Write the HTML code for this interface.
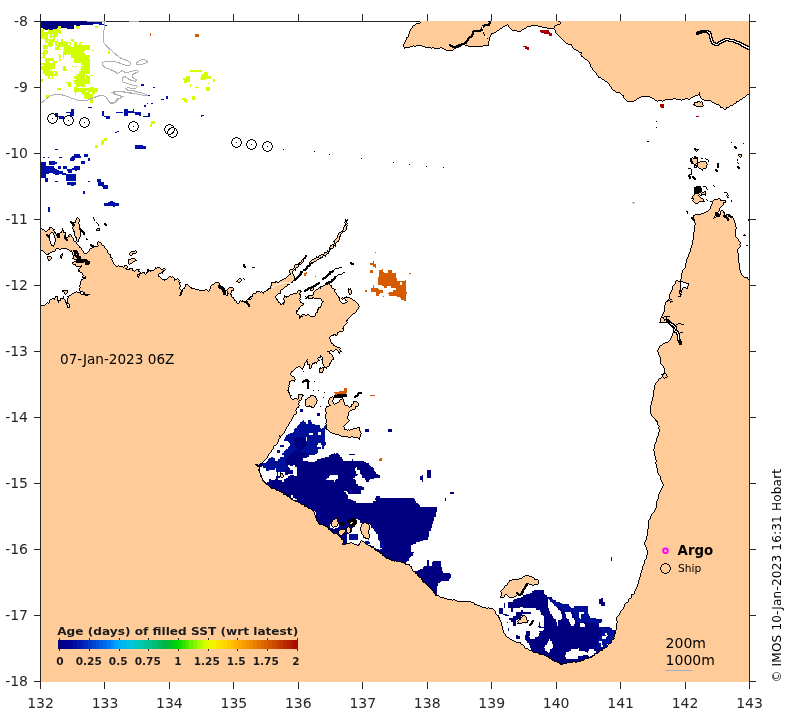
<!DOCTYPE html>
<html><head><meta charset="utf-8"><title>Age of filled SST</title>
<style>html,body{margin:0;padding:0;background:#fff}svg{display:block}text{font-family:"DejaVu Sans","Liberation Sans",sans-serif}svg{will-change:transform}.tk{font-size:14px;fill:#262626}.b{font-weight:bold}</style></head><body>
<svg width="792" height="716" viewBox="0 0 792 716">
<rect width="792" height="716" fill="#fff"/>
<defs><clipPath id="ax"><rect x="40" y="21" width="710" height="661"/></clipPath></defs>
<g shape-rendering="crispEdges" stroke="#262626" stroke-width="1">
<line x1="40" y1="21.5" x2="750" y2="21.5"/><line x1="40" y1="681.5" x2="750" y2="681.5"/></g>
<g clip-path="url(#ax)" shape-rendering="crispEdges">
<path d="M40.00,21.00h54.14v1.32h-54.14zM40.00,22.32h54.14v1.32h-54.14zM40.00,23.64h52.85v1.32h-52.85zM40.00,24.96h33.52v1.32h-33.52zM76.09,24.96h3.87v1.32h-3.87zM40.00,26.28h18.05v1.32h-18.05zM60.63,26.28h12.89v1.32h-12.89zM42.58,27.60h14.18v1.32h-14.18zM67.07,27.60h6.45v1.32h-6.45zM45.16,28.92h2.58v1.32h-2.58zM49.02,28.92h3.87v1.32h-3.87zM300.40,409.08h2.58v1.32h-2.58zM300.40,410.40h2.58v1.32h-2.58zM317.15,413.04h2.58v1.32h-2.58zM317.15,414.36h2.58v1.32h-2.58zM364.85,428.88h3.87v1.32h-3.87zM388.05,428.88h3.87v1.32h-3.87zM364.85,430.20h3.87v1.32h-3.87zM388.05,430.20h3.87v1.32h-3.87zM293.95,436.80h9.02v1.32h-9.02zM293.95,438.12h10.31v1.32h-10.31zM293.95,439.44h11.60v1.32h-11.60zM293.95,440.76h11.60v1.32h-11.60zM293.95,442.08h11.60v1.32h-11.60zM293.95,443.40h12.89v1.32h-12.89zM295.24,444.72h11.60v1.32h-11.60zM295.24,446.04h10.31v1.32h-10.31zM296.53,447.36h7.73v1.32h-7.73zM297.82,448.68h3.87v1.32h-3.87zM295.24,450.00h2.58v1.32h-2.58zM292.66,451.32h9.02v1.32h-9.02zM291.37,452.64h14.18v1.32h-14.18zM333.91,452.64h1.29v1.32h-1.29zM336.49,452.64h1.29v1.32h-1.29zM290.08,453.96h19.34v1.32h-19.34zM331.33,453.96h7.73v1.32h-7.73zM349.38,453.96h5.16v1.32h-5.16zM288.79,455.28h20.63v1.32h-20.63zM328.76,455.28h11.60v1.32h-11.60zM287.51,456.60h19.34v1.32h-19.34zM324.89,456.60h16.76v1.32h-16.76zM286.22,457.92h16.76v1.32h-16.76zM321.02,457.92h20.63v1.32h-20.63zM284.93,459.24h18.05v1.32h-18.05zM317.15,459.24h25.78v1.32h-25.78zM351.96,459.24h1.29v1.32h-1.29zM259.15,460.56h2.58v1.32h-2.58zM284.93,460.56h23.20v1.32h-23.20zM314.58,460.56h48.99v1.32h-48.99zM257.86,461.88h5.16v1.32h-5.16zM286.22,461.88h79.92v1.32h-79.92zM255.28,463.20h7.73v1.32h-7.73zM286.22,463.20h82.50v1.32h-82.50zM253.99,464.52h9.02v1.32h-9.02zM290.08,464.52h2.58v1.32h-2.58zM295.24,464.52h74.77v1.32h-74.77zM255.28,465.84h6.45v1.32h-6.45zM295.24,465.84h76.06v1.32h-76.06zM255.28,467.16h5.16v1.32h-5.16zM296.53,467.16h59.30v1.32h-59.30zM357.12,467.16h15.47v1.32h-15.47zM255.28,468.48h5.16v1.32h-5.16zM287.51,468.48h2.58v1.32h-2.58zM296.53,468.48h58.01v1.32h-58.01zM357.12,468.48h16.76v1.32h-16.76zM256.57,469.80h3.87v1.32h-3.87zM286.22,469.80h3.87v1.32h-3.87zM296.53,469.80h58.01v1.32h-58.01zM359.69,469.80h14.18v1.32h-14.18zM426.73,469.80h3.87v1.32h-3.87zM256.57,471.12h3.87v1.32h-3.87zM283.64,471.12h7.73v1.32h-7.73zM296.53,471.12h59.30v1.32h-59.30zM359.69,471.12h15.47v1.32h-15.47zM426.73,471.12h3.87v1.32h-3.87zM257.86,472.44h2.58v1.32h-2.58zM277.19,472.44h1.29v1.32h-1.29zM284.93,472.44h7.73v1.32h-7.73zM296.53,472.44h59.30v1.32h-59.30zM359.69,472.44h16.76v1.32h-16.76zM426.73,472.44h3.87v1.32h-3.87zM257.86,473.76h2.58v1.32h-2.58zM277.19,473.76h1.29v1.32h-1.29zM284.93,473.76h2.58v1.32h-2.58zM296.53,473.76h61.88v1.32h-61.88zM360.98,473.76h16.76v1.32h-16.76zM426.73,473.76h3.87v1.32h-3.87zM259.15,475.08h2.58v1.32h-2.58zM277.19,475.08h1.29v1.32h-1.29zM290.08,475.08h3.87v1.32h-3.87zM296.53,475.08h33.52v1.32h-33.52zM337.78,475.08h19.34v1.32h-19.34zM362.27,475.08h18.05v1.32h-18.05zM421.57,475.08h1.29v1.32h-1.29zM426.73,475.08h3.87v1.32h-3.87zM259.15,476.40h2.58v1.32h-2.58zM275.90,476.40h3.87v1.32h-3.87zM287.51,476.40h41.25v1.32h-41.25zM337.78,476.40h16.76v1.32h-16.76zM362.27,476.40h18.05v1.32h-18.05zM420.28,476.40h2.58v1.32h-2.58zM426.73,476.40h3.87v1.32h-3.87zM259.15,477.72h3.87v1.32h-3.87zM275.90,477.72h2.58v1.32h-2.58zM286.22,477.72h41.25v1.32h-41.25zM337.78,477.72h15.47v1.32h-15.47zM364.85,477.72h9.02v1.32h-9.02zM420.28,477.72h2.58v1.32h-2.58zM260.43,479.04h2.58v1.32h-2.58zM269.46,479.04h1.29v1.32h-1.29zM274.61,479.04h3.87v1.32h-3.87zM283.64,479.04h42.54v1.32h-42.54zM336.49,479.04h18.05v1.32h-18.05zM364.85,479.04h5.16v1.32h-5.16zM420.28,479.04h2.58v1.32h-2.58zM260.43,480.36h3.87v1.32h-3.87zM269.46,480.36h12.89v1.32h-12.89zM283.64,480.36h50.27v1.32h-50.27zM335.20,480.36h20.63v1.32h-20.63zM366.14,480.36h2.58v1.32h-2.58zM421.57,480.36h1.29v1.32h-1.29zM261.72,481.68h3.87v1.32h-3.87zM266.88,481.68h88.95v1.32h-88.95zM261.72,483.00h94.10v1.32h-94.10zM261.72,484.32h96.68v1.32h-96.68zM263.01,485.64h99.26v1.32h-99.26zM263.01,486.96h100.55v1.32h-100.55zM264.30,488.28h99.26v1.32h-99.26zM266.88,489.60h94.10v1.32h-94.10zM268.17,490.92h76.06v1.32h-76.06zM346.80,490.92h14.18v1.32h-14.18zM270.75,492.24h74.77v1.32h-74.77zM348.09,492.24h12.89v1.32h-12.89zM449.93,492.24h3.87v1.32h-3.87zM272.04,493.56h74.77v1.32h-74.77zM274.61,494.88h16.76v1.32h-16.76zM292.66,494.88h55.43v1.32h-55.43zM275.90,496.20h15.47v1.32h-15.47zM292.66,496.20h55.43v1.32h-55.43zM376.45,496.20h3.87v1.32h-3.87zM278.48,497.52h14.18v1.32h-14.18zM295.24,497.52h52.85v1.32h-52.85zM375.16,497.52h38.67v1.32h-38.67zM444.77,497.52h1.29v1.32h-1.29zM279.77,498.84h12.89v1.32h-12.89zM296.53,498.84h54.14v1.32h-54.14zM375.16,498.84h39.96v1.32h-39.96zM444.77,498.84h1.29v1.32h-1.29zM282.35,500.16h70.90v1.32h-70.90zM376.45,500.16h38.67v1.32h-38.67zM444.77,500.16h1.29v1.32h-1.29zM283.64,501.48h72.19v1.32h-72.19zM372.59,501.48h43.83v1.32h-43.83zM286.22,502.80h131.49v1.32h-131.49zM287.51,504.12h131.49v1.32h-131.49zM290.08,505.44h130.20v1.32h-130.20zM291.37,506.76h145.67v1.32h-145.67zM293.95,508.08h143.09v1.32h-143.09zM295.24,509.40h141.80v1.32h-141.80zM297.82,510.72h15.47v1.32h-15.47zM314.58,510.72h122.46v1.32h-122.46zM299.11,512.04h14.18v1.32h-14.18zM315.87,512.04h119.89v1.32h-119.89zM301.69,513.36h12.89v1.32h-12.89zM315.87,513.36h119.89v1.32h-119.89zM302.97,514.68h11.60v1.32h-11.60zM315.87,514.68h119.89v1.32h-119.89zM304.26,516.00h131.49v1.32h-131.49zM305.55,517.32h128.91v1.32h-128.91zM306.84,518.64h48.99v1.32h-48.99zM358.41,518.64h76.06v1.32h-76.06zM308.13,519.96h47.70v1.32h-47.70zM359.69,519.96h74.77v1.32h-74.77zM309.42,521.28h27.07v1.32h-27.07zM337.78,521.28h18.05v1.32h-18.05zM359.69,521.28h73.48v1.32h-73.48zM310.71,522.60h21.91v1.32h-21.91zM339.07,522.60h16.76v1.32h-16.76zM368.72,522.60h64.45v1.32h-64.45zM312.00,523.92h18.05v1.32h-18.05zM339.07,523.92h16.76v1.32h-16.76zM370.01,523.92h61.88v1.32h-61.88zM313.29,525.24h16.76v1.32h-16.76zM339.07,525.24h15.47v1.32h-15.47zM371.30,525.24h60.59v1.32h-60.59zM314.58,526.56h15.47v1.32h-15.47zM337.78,526.56h15.47v1.32h-15.47zM371.30,526.56h60.59v1.32h-60.59zM315.87,527.88h16.76v1.32h-16.76zM335.20,527.88h16.76v1.32h-16.76zM372.59,527.88h58.01v1.32h-58.01zM317.15,529.20h34.81v1.32h-34.81zM373.87,529.20h56.72v1.32h-56.72zM318.44,530.52h33.52v1.32h-33.52zM375.16,530.52h54.14v1.32h-54.14zM319.73,531.84h30.94v1.32h-30.94zM376.45,531.84h52.85v1.32h-52.85zM321.02,533.16h28.36v1.32h-28.36zM376.45,533.16h52.85v1.32h-52.85zM322.31,534.48h24.49v1.32h-24.49zM377.74,534.48h51.56v1.32h-51.56zM323.60,535.80h23.20v1.32h-23.20zM377.74,535.80h51.56v1.32h-51.56zM324.89,537.12h21.91v1.32h-21.91zM377.74,537.12h50.27v1.32h-50.27zM326.18,538.44h20.63v1.32h-20.63zM377.74,538.44h50.27v1.32h-50.27zM327.47,539.76h19.34v1.32h-19.34zM379.03,539.76h43.83v1.32h-43.83zM328.76,541.08h18.05v1.32h-18.05zM362.27,541.08h1.29v1.32h-1.29zM380.32,541.08h39.96v1.32h-39.96zM330.05,542.40h16.76v1.32h-16.76zM359.69,542.40h6.45v1.32h-6.45zM380.32,542.40h36.09v1.32h-36.09zM331.33,543.72h25.78v1.32h-25.78zM358.41,543.72h9.02v1.32h-9.02zM384.19,543.72h28.36v1.32h-28.36zM332.62,545.04h38.67v1.32h-38.67zM384.19,545.04h27.07v1.32h-27.07zM333.91,546.36h39.96v1.32h-39.96zM384.19,546.36h27.07v1.32h-27.07zM335.20,547.68h41.25v1.32h-41.25zM381.61,547.68h29.65v1.32h-29.65zM337.78,549.00h41.25v1.32h-41.25zM380.32,549.00h30.94v1.32h-30.94zM339.07,550.32h72.19v1.32h-72.19zM341.65,551.64h72.19v1.32h-72.19zM344.23,552.96h68.32v1.32h-68.32zM346.80,554.28h65.74v1.32h-65.74zM349.38,555.60h61.88v1.32h-61.88zM351.96,556.92h58.01v1.32h-58.01zM611.07,556.92h1.29v1.32h-1.29zM354.54,558.24h54.14v1.32h-54.14zM611.07,558.24h1.29v1.32h-1.29zM357.12,559.56h51.56v1.32h-51.56zM426.73,559.56h2.58v1.32h-2.58zM611.07,559.56h1.29v1.32h-1.29zM359.69,560.88h47.70v1.32h-47.70zM426.73,560.88h2.58v1.32h-2.58zM433.17,560.88h7.73v1.32h-7.73zM362.27,562.20h43.83v1.32h-43.83zM426.73,562.20h2.58v1.32h-2.58zM431.88,562.20h9.02v1.32h-9.02zM363.56,563.52h42.54v1.32h-42.54zM426.73,563.52h2.58v1.32h-2.58zM431.88,563.52h9.02v1.32h-9.02zM366.14,564.84h41.25v1.32h-41.25zM426.73,564.84h2.58v1.32h-2.58zM431.88,564.84h9.02v1.32h-9.02zM368.72,566.16h38.67v1.32h-38.67zM424.15,566.16h16.76v1.32h-16.76zM371.30,567.48h37.38v1.32h-37.38zM422.86,567.48h19.34v1.32h-19.34zM373.87,568.80h6.45v1.32h-6.45zM381.61,568.80h27.07v1.32h-27.07zM420.28,568.80h21.91v1.32h-21.91zM376.45,570.12h3.87v1.32h-3.87zM386.77,570.12h23.20v1.32h-23.20zM417.70,570.12h24.49v1.32h-24.49zM379.03,571.44h2.58v1.32h-2.58zM391.92,571.44h18.05v1.32h-18.05zM413.84,571.44h29.65v1.32h-29.65zM397.08,572.76h14.18v1.32h-14.18zM412.55,572.76h37.38v1.32h-37.38zM402.23,574.08h48.99v1.32h-48.99zM407.39,575.40h43.83v1.32h-43.83zM411.26,576.72h39.96v1.32h-39.96zM412.55,578.04h37.38v1.32h-37.38zM413.84,579.36h34.81v1.32h-34.81zM413.84,580.68h27.07v1.32h-27.07zM415.13,582.00h24.49v1.32h-24.49zM416.41,583.32h21.91v1.32h-21.91zM416.41,584.64h21.91v1.32h-21.91zM417.70,585.96h19.34v1.32h-19.34zM418.99,587.28h18.05v1.32h-18.05zM420.28,588.60h16.76v1.32h-16.76zM420.28,589.92h16.76v1.32h-16.76zM533.72,589.92h10.31v1.32h-10.31zM421.57,591.24h15.47v1.32h-15.47zM532.43,591.24h11.60v1.32h-11.60zM422.86,592.56h14.18v1.32h-14.18zM529.85,592.56h14.18v1.32h-14.18zM424.15,593.88h12.89v1.32h-12.89zM525.99,593.88h19.34v1.32h-19.34zM424.15,595.20h12.89v1.32h-12.89zM523.41,595.20h23.20v1.32h-23.20zM426.73,596.52h10.31v1.32h-10.31zM520.83,596.52h30.94v1.32h-30.94zM431.88,597.84h5.16v1.32h-5.16zM516.96,597.84h30.94v1.32h-30.94zM550.48,597.84h1.29v1.32h-1.29zM600.75,597.84h2.58v1.32h-2.58zM435.75,599.16h2.58v1.32h-2.58zM514.39,599.16h33.52v1.32h-33.52zM599.47,599.16h3.87v1.32h-3.87zM513.10,600.48h34.81v1.32h-34.81zM599.47,600.48h3.87v1.32h-3.87zM507.94,601.80h39.96v1.32h-39.96zM599.47,601.80h5.16v1.32h-5.16zM504.07,603.12h1.29v1.32h-1.29zM507.94,603.12h39.96v1.32h-39.96zM599.47,603.12h5.16v1.32h-5.16zM504.07,604.44h1.29v1.32h-1.29zM507.94,604.44h39.96v1.32h-39.96zM600.75,604.44h3.87v1.32h-3.87zM504.07,605.76h1.29v1.32h-1.29zM507.94,605.76h39.96v1.32h-39.96zM504.07,607.08h1.29v1.32h-1.29zM507.94,607.08h11.60v1.32h-11.60zM523.41,607.08h24.49v1.32h-24.49zM556.93,607.08h2.58v1.32h-2.58zM498.92,608.40h3.87v1.32h-3.87zM510.52,608.40h2.58v1.32h-2.58zM536.30,608.40h12.89v1.32h-12.89zM558.21,608.40h3.87v1.32h-3.87zM498.92,609.72h3.87v1.32h-3.87zM510.52,609.72h2.58v1.32h-2.58zM520.83,609.72h2.58v1.32h-2.58zM540.17,609.72h9.02v1.32h-9.02zM559.50,609.72h5.16v1.32h-5.16zM498.92,611.04h3.87v1.32h-3.87zM510.52,611.04h2.58v1.32h-2.58zM520.83,611.04h2.58v1.32h-2.58zM540.17,611.04h10.31v1.32h-10.31zM560.79,611.04h7.73v1.32h-7.73zM498.92,612.36h3.87v1.32h-3.87zM515.67,612.36h15.47v1.32h-15.47zM541.46,612.36h9.02v1.32h-9.02zM560.79,612.36h3.87v1.32h-3.87zM571.11,612.36h2.58v1.32h-2.58zM502.78,613.68h3.87v1.32h-3.87zM515.67,613.68h6.45v1.32h-6.45zM541.46,613.68h10.31v1.32h-10.31zM562.08,613.68h3.87v1.32h-3.87zM572.39,613.68h1.29v1.32h-1.29zM587.86,613.68h1.29v1.32h-1.29zM505.36,615.00h3.87v1.32h-3.87zM515.67,615.00h6.45v1.32h-6.45zM542.75,615.00h9.02v1.32h-9.02zM562.08,615.00h3.87v1.32h-3.87zM572.39,615.00h1.29v1.32h-1.29zM587.86,615.00h1.29v1.32h-1.29zM513.10,616.32h7.73v1.32h-7.73zM544.03,616.32h9.02v1.32h-9.02zM562.08,616.32h3.87v1.32h-3.87zM572.39,616.32h1.29v1.32h-1.29zM589.15,616.32h1.29v1.32h-1.29zM509.23,617.64h10.31v1.32h-10.31zM544.03,617.64h10.31v1.32h-10.31zM562.08,617.64h5.16v1.32h-5.16zM573.68,617.64h1.29v1.32h-1.29zM594.31,617.64h1.29v1.32h-1.29zM509.23,618.96h9.02v1.32h-9.02zM544.03,618.96h11.60v1.32h-11.60zM560.79,618.96h7.73v1.32h-7.73zM573.68,618.96h1.29v1.32h-1.29zM600.75,618.96h1.29v1.32h-1.29zM510.52,620.28h5.16v1.32h-5.16zM544.03,620.28h11.60v1.32h-11.60zM558.21,620.28h10.31v1.32h-10.31zM574.97,620.28h1.29v1.32h-1.29zM600.75,620.28h1.29v1.32h-1.29zM506.65,621.60h1.29v1.32h-1.29zM513.10,621.60h2.58v1.32h-2.58zM544.03,621.60h12.89v1.32h-12.89zM558.21,621.60h11.60v1.32h-11.60zM574.97,621.60h12.89v1.32h-12.89zM599.47,621.60h1.29v1.32h-1.29zM513.10,622.92h2.58v1.32h-2.58zM544.03,622.92h12.89v1.32h-12.89zM558.21,622.92h11.60v1.32h-11.60zM574.97,622.92h5.16v1.32h-5.16zM584.00,622.92h15.47v1.32h-15.47zM513.10,624.24h2.58v1.32h-2.58zM544.03,624.24h12.89v1.32h-12.89zM558.21,624.24h12.89v1.32h-12.89zM573.68,624.24h6.45v1.32h-6.45zM585.29,624.24h14.18v1.32h-14.18zM544.03,625.56h36.09v1.32h-36.09zM585.29,625.56h14.18v1.32h-14.18zM544.03,626.88h55.43v1.32h-55.43zM604.62,626.88h5.16v1.32h-5.16zM507.94,628.20h1.29v1.32h-1.29zM544.03,628.20h56.72v1.32h-56.72zM507.94,629.52h1.29v1.32h-1.29zM542.75,629.52h58.01v1.32h-58.01zM614.93,629.52h9.02v1.32h-9.02zM525.99,630.84h3.87v1.32h-3.87zM542.75,630.84h58.01v1.32h-58.01zM613.65,630.84h9.02v1.32h-9.02zM525.99,632.16h3.87v1.32h-3.87zM540.17,632.16h60.59v1.32h-60.59zM613.65,632.16h9.02v1.32h-9.02zM525.99,633.48h3.87v1.32h-3.87zM538.88,633.48h63.17v1.32h-63.17zM613.65,633.48h9.02v1.32h-9.02zM515.67,634.80h2.58v1.32h-2.58zM524.70,634.80h5.16v1.32h-5.16zM538.88,634.80h61.88v1.32h-61.88zM613.65,634.80h9.02v1.32h-9.02zM515.67,636.12h3.87v1.32h-3.87zM524.70,636.12h3.87v1.32h-3.87zM537.59,636.12h61.88v1.32h-61.88zM613.65,636.12h7.73v1.32h-7.73zM515.67,637.44h3.87v1.32h-3.87zM524.70,637.44h5.16v1.32h-5.16zM535.01,637.44h64.45v1.32h-64.45zM613.65,637.44h7.73v1.32h-7.73zM524.70,638.76h24.49v1.32h-24.49zM550.48,638.76h48.99v1.32h-48.99zM613.65,638.76h7.73v1.32h-7.73zM525.99,640.08h23.20v1.32h-23.20zM550.48,640.08h47.70v1.32h-47.70zM612.36,640.08h9.02v1.32h-9.02zM527.28,641.40h20.63v1.32h-20.63zM551.77,641.40h46.41v1.32h-46.41zM611.07,641.40h9.02v1.32h-9.02zM528.57,642.72h18.05v1.32h-18.05zM551.77,642.72h46.41v1.32h-46.41zM609.78,642.72h10.31v1.32h-10.31zM528.57,644.04h18.05v1.32h-18.05zM553.06,644.04h45.12v1.32h-45.12zM609.78,644.04h10.31v1.32h-10.31zM529.85,645.36h15.47v1.32h-15.47zM553.06,645.36h43.83v1.32h-43.83zM609.78,645.36h10.31v1.32h-10.31zM529.85,646.68h14.18v1.32h-14.18zM553.06,646.68h41.25v1.32h-41.25zM603.33,646.68h15.47v1.32h-15.47zM531.14,648.00h14.18v1.32h-14.18zM551.77,648.00h25.78v1.32h-25.78zM578.84,648.00h39.96v1.32h-39.96zM531.14,649.32h14.18v1.32h-14.18zM550.48,649.32h20.63v1.32h-20.63zM578.84,649.32h10.31v1.32h-10.31zM594.31,649.32h21.91v1.32h-21.91zM531.14,650.64h15.47v1.32h-15.47zM550.48,650.64h18.05v1.32h-18.05zM585.29,650.64h2.58v1.32h-2.58zM595.60,650.64h19.34v1.32h-19.34zM531.14,651.96h16.76v1.32h-16.76zM549.19,651.96h16.76v1.32h-16.76zM586.57,651.96h1.29v1.32h-1.29zM595.60,651.96h16.76v1.32h-16.76zM533.72,653.28h32.23v1.32h-32.23zM594.31,653.28h15.47v1.32h-15.47zM535.01,654.60h29.65v1.32h-29.65zM582.71,654.60h5.16v1.32h-5.16zM593.02,654.60h15.47v1.32h-15.47zM537.59,655.92h27.07v1.32h-27.07zM577.55,655.92h11.60v1.32h-11.60zM590.44,655.92h15.47v1.32h-15.47zM540.17,657.24h25.78v1.32h-25.78zM577.55,657.24h27.07v1.32h-27.07zM541.46,658.56h60.59v1.32h-60.59zM544.03,659.88h56.72v1.32h-56.72zM545.32,661.20h52.85v1.32h-52.85zM547.90,662.52h47.70v1.32h-47.70zM549.19,663.84h45.12v1.32h-45.12zM551.77,665.16h36.09v1.32h-36.09zM553.06,666.48h27.07v1.32h-27.07zM555.64,667.80h18.05v1.32h-18.05zM558.21,669.12h9.02v1.32h-9.02z" fill="#000080"/>
<path d="M94.14,21.00h6.45v1.32h-6.45zM94.14,22.32h7.73v1.32h-7.73zM99.30,23.64h5.16v1.32h-5.16zM104.45,24.96h2.58v1.32h-2.58zM140.55,84.36h3.87v1.32h-3.87zM153.44,87.00h1.29v1.32h-1.29zM146.99,94.92h2.58v1.32h-2.58zM166.33,96.24h1.29v1.32h-1.29zM166.33,97.56h1.29v1.32h-1.29zM161.17,98.88h2.58v1.32h-2.58zM146.99,102.84h1.29v1.32h-1.29zM150.86,102.84h2.58v1.32h-2.58zM144.42,105.48h1.29v1.32h-1.29zM87.70,106.80h3.87v1.32h-3.87zM70.94,109.44h2.58v1.32h-2.58zM123.79,109.44h3.87v1.32h-3.87zM132.81,109.44h1.29v1.32h-1.29zM70.94,110.76h2.58v1.32h-2.58zM101.88,110.76h2.58v1.32h-2.58zM123.79,110.76h10.31v1.32h-10.31zM65.78,112.08h7.73v1.32h-7.73zM101.88,112.08h2.58v1.32h-2.58zM116.06,112.08h6.45v1.32h-6.45zM123.79,112.08h16.76v1.32h-16.76zM55.47,113.40h2.58v1.32h-2.58zM69.65,113.40h3.87v1.32h-3.87zM101.88,113.40h2.58v1.32h-2.58zM123.79,113.40h3.87v1.32h-3.87zM135.39,113.40h5.16v1.32h-5.16zM148.28,113.40h1.29v1.32h-1.29zM55.47,114.72h2.58v1.32h-2.58zM69.65,114.72h3.87v1.32h-3.87zM101.88,114.72h2.58v1.32h-2.58zM123.79,114.72h3.87v1.32h-3.87zM139.26,114.72h1.29v1.32h-1.29zM148.28,114.72h1.29v1.32h-1.29zM201.14,114.72h2.58v1.32h-2.58zM55.47,116.04h9.02v1.32h-9.02zM104.45,116.04h5.16v1.32h-5.16zM143.13,116.04h6.45v1.32h-6.45zM201.14,116.04h1.29v1.32h-1.29zM59.34,117.36h5.16v1.32h-5.16zM105.74,117.36h3.87v1.32h-3.87zM117.35,130.56h1.29v1.32h-1.29zM114.77,131.88h2.58v1.32h-2.58zM135.39,145.08h7.73v1.32h-7.73zM135.39,146.40h10.31v1.32h-10.31zM135.39,147.72h10.31v1.32h-10.31zM55.47,149.04h2.58v1.32h-2.58zM73.52,154.32h6.45v1.32h-6.45zM83.83,154.32h3.87v1.32h-3.87zM72.23,155.64h9.02v1.32h-9.02zM83.83,155.64h3.87v1.32h-3.87zM42.58,156.96h2.58v1.32h-2.58zM47.73,156.96h1.29v1.32h-1.29zM59.34,156.96h2.58v1.32h-2.58zM70.94,156.96h10.31v1.32h-10.31zM69.65,158.28h5.16v1.32h-5.16zM87.70,158.28h2.58v1.32h-2.58zM69.65,159.60h3.87v1.32h-3.87zM87.70,159.60h2.58v1.32h-2.58zM49.02,160.92h6.45v1.32h-6.45zM81.25,160.92h3.87v1.32h-3.87zM41.29,162.24h5.16v1.32h-5.16zM49.02,162.24h7.73v1.32h-7.73zM81.25,162.24h3.87v1.32h-3.87zM41.29,163.56h5.16v1.32h-5.16zM49.02,163.56h6.45v1.32h-6.45zM41.29,164.88h5.16v1.32h-5.16zM41.29,166.20h12.89v1.32h-12.89zM58.05,166.20h2.58v1.32h-2.58zM63.20,166.20h3.87v1.32h-3.87zM73.52,166.20h6.45v1.32h-6.45zM41.29,167.52h14.18v1.32h-14.18zM58.05,167.52h2.58v1.32h-2.58zM63.20,167.52h3.87v1.32h-3.87zM72.23,167.52h7.73v1.32h-7.73zM41.29,168.84h15.47v1.32h-15.47zM67.07,168.84h12.89v1.32h-12.89zM41.29,170.16h18.05v1.32h-18.05zM67.07,170.16h5.16v1.32h-5.16zM74.81,170.16h2.58v1.32h-2.58zM41.29,171.48h21.91v1.32h-21.91zM68.36,171.48h3.87v1.32h-3.87zM41.29,172.80h7.73v1.32h-7.73zM52.89,172.80h12.89v1.32h-12.89zM41.29,174.12h5.16v1.32h-5.16zM55.47,174.12h3.87v1.32h-3.87zM61.91,174.12h14.18v1.32h-14.18zM41.29,175.44h5.16v1.32h-5.16zM65.78,175.44h10.31v1.32h-10.31zM41.29,176.76h5.16v1.32h-5.16zM65.78,176.76h10.31v1.32h-10.31zM45.16,178.08h2.58v1.32h-2.58zM65.78,178.08h10.31v1.32h-10.31zM45.16,179.40h2.58v1.32h-2.58zM65.78,179.40h10.31v1.32h-10.31zM96.72,179.40h3.87v1.32h-3.87zM45.16,180.72h2.58v1.32h-2.58zM55.47,180.72h2.58v1.32h-2.58zM87.70,180.72h2.58v1.32h-2.58zM96.72,180.72h3.87v1.32h-3.87zM67.07,182.04h9.02v1.32h-9.02zM98.01,182.04h6.45v1.32h-6.45zM67.07,183.36h9.02v1.32h-9.02zM98.01,183.36h6.45v1.32h-6.45zM70.94,184.68h2.58v1.32h-2.58zM98.01,184.68h10.31v1.32h-10.31zM101.88,186.00h6.45v1.32h-6.45zM103.17,187.32h5.16v1.32h-5.16zM82.54,191.28h2.58v1.32h-2.58zM82.54,192.60h2.58v1.32h-2.58zM109.61,200.52h3.87v1.32h-3.87zM108.32,201.84h6.45v1.32h-6.45zM104.45,203.16h14.18v1.32h-14.18zM104.45,204.48h14.18v1.32h-14.18zM113.48,205.80h1.29v1.32h-1.29zM47.73,207.12h2.58v1.32h-2.58zM47.73,208.44h2.58v1.32h-2.58zM47.73,209.76h2.58v1.32h-2.58zM47.73,211.08h2.58v1.32h-2.58z" fill="#0010a8"/>
<path d="M58.05,26.28h2.58v1.32h-2.58zM76.09,26.28h2.58v1.32h-2.58zM95.43,26.28h2.58v1.32h-2.58zM58.05,27.60h2.58v1.32h-2.58zM77.38,27.60h2.58v1.32h-2.58zM41.29,28.92h3.87v1.32h-3.87zM47.73,28.92h1.29v1.32h-1.29zM52.89,28.92h6.45v1.32h-6.45zM70.94,28.92h1.29v1.32h-1.29zM40.00,30.24h3.87v1.32h-3.87zM47.73,30.24h12.89v1.32h-12.89zM40.00,31.56h20.63v1.32h-20.63zM40.00,32.88h18.05v1.32h-18.05zM59.34,32.88h1.29v1.32h-1.29zM40.00,34.20h7.73v1.32h-7.73zM50.31,34.20h1.29v1.32h-1.29zM52.89,34.20h5.16v1.32h-5.16zM40.00,35.52h5.16v1.32h-5.16zM46.45,35.52h1.29v1.32h-1.29zM50.31,35.52h6.45v1.32h-6.45zM40.00,36.84h2.58v1.32h-2.58zM43.87,36.84h3.87v1.32h-3.87zM50.31,36.84h1.29v1.32h-1.29zM52.89,36.84h2.58v1.32h-2.58zM41.29,38.16h6.45v1.32h-6.45zM52.89,38.16h2.58v1.32h-2.58zM45.16,39.48h10.31v1.32h-10.31zM56.76,39.48h1.29v1.32h-1.29zM60.63,39.48h2.58v1.32h-2.58zM70.94,39.48h2.58v1.32h-2.58zM45.16,40.80h2.58v1.32h-2.58zM49.02,40.80h9.02v1.32h-9.02zM60.63,40.80h2.58v1.32h-2.58zM64.49,40.80h1.29v1.32h-1.29zM72.23,40.80h1.29v1.32h-1.29zM46.45,42.12h6.45v1.32h-6.45zM55.47,42.12h1.29v1.32h-1.29zM58.05,42.12h12.89v1.32h-12.89zM73.52,42.12h3.87v1.32h-3.87zM79.96,42.12h2.58v1.32h-2.58zM45.16,43.44h1.29v1.32h-1.29zM47.73,43.44h5.16v1.32h-5.16zM55.47,43.44h1.29v1.32h-1.29zM58.05,43.44h10.31v1.32h-10.31zM69.65,43.44h1.29v1.32h-1.29zM73.52,43.44h3.87v1.32h-3.87zM78.67,43.44h2.58v1.32h-2.58zM42.58,44.76h10.31v1.32h-10.31zM55.47,44.76h5.16v1.32h-5.16zM61.91,44.76h7.73v1.32h-7.73zM73.52,44.76h16.76v1.32h-16.76zM42.58,46.08h5.16v1.32h-5.16zM49.02,46.08h2.58v1.32h-2.58zM56.76,46.08h14.18v1.32h-14.18zM73.52,46.08h16.76v1.32h-16.76zM42.58,47.40h5.16v1.32h-5.16zM55.47,47.40h3.87v1.32h-3.87zM64.49,47.40h25.78v1.32h-25.78zM42.58,48.72h1.29v1.32h-1.29zM45.16,48.72h1.29v1.32h-1.29zM55.47,48.72h5.16v1.32h-5.16zM63.20,48.72h27.07v1.32h-27.07zM43.87,50.04h3.87v1.32h-3.87zM64.49,50.04h20.63v1.32h-20.63zM91.56,50.04h2.58v1.32h-2.58zM42.58,51.36h2.58v1.32h-2.58zM46.45,51.36h1.29v1.32h-1.29zM63.20,51.36h20.63v1.32h-20.63zM108.32,51.36h1.29v1.32h-1.29zM41.29,52.68h6.45v1.32h-6.45zM63.20,52.68h3.87v1.32h-3.87zM68.36,52.68h16.76v1.32h-16.76zM108.32,52.68h1.29v1.32h-1.29zM42.58,54.00h3.87v1.32h-3.87zM58.05,54.00h1.29v1.32h-1.29zM63.20,54.00h3.87v1.32h-3.87zM68.36,54.00h1.29v1.32h-1.29zM70.94,54.00h14.18v1.32h-14.18zM42.58,55.32h2.58v1.32h-2.58zM59.34,55.32h1.29v1.32h-1.29zM63.20,55.32h1.29v1.32h-1.29zM70.94,55.32h19.34v1.32h-19.34zM40.00,56.64h5.16v1.32h-5.16zM59.34,56.64h1.29v1.32h-1.29zM63.20,56.64h1.29v1.32h-1.29zM70.94,56.64h18.05v1.32h-18.05zM45.16,57.96h9.02v1.32h-9.02zM73.52,57.96h15.47v1.32h-15.47zM45.16,59.28h9.02v1.32h-9.02zM59.34,59.28h1.29v1.32h-1.29zM73.52,59.28h16.76v1.32h-16.76zM45.16,60.60h3.87v1.32h-3.87zM52.89,60.60h5.16v1.32h-5.16zM73.52,60.60h16.76v1.32h-16.76zM46.45,61.92h3.87v1.32h-3.87zM52.89,61.92h3.87v1.32h-3.87zM73.52,61.92h16.76v1.32h-16.76zM40.00,63.24h15.47v1.32h-15.47zM81.25,63.24h9.02v1.32h-9.02zM40.00,64.56h1.29v1.32h-1.29zM43.87,64.56h11.60v1.32h-11.60zM82.54,64.56h7.73v1.32h-7.73zM40.00,65.88h15.47v1.32h-15.47zM63.20,65.88h2.58v1.32h-2.58zM72.23,65.88h1.29v1.32h-1.29zM74.81,65.88h2.58v1.32h-2.58zM81.25,65.88h9.02v1.32h-9.02zM41.29,67.20h14.18v1.32h-14.18zM63.20,67.20h2.58v1.32h-2.58zM81.25,67.20h9.02v1.32h-9.02zM41.29,68.52h10.31v1.32h-10.31zM63.20,68.52h3.87v1.32h-3.87zM79.96,68.52h10.31v1.32h-10.31zM40.00,69.84h1.29v1.32h-1.29zM42.58,69.84h7.73v1.32h-7.73zM63.20,69.84h3.87v1.32h-3.87zM81.25,69.84h7.73v1.32h-7.73zM189.53,69.84h12.89v1.32h-12.89zM42.58,71.16h10.31v1.32h-10.31zM54.18,71.16h2.58v1.32h-2.58zM78.67,71.16h11.60v1.32h-11.60zM189.53,71.16h12.89v1.32h-12.89zM42.58,72.48h11.60v1.32h-11.60zM55.47,72.48h2.58v1.32h-2.58zM78.67,72.48h11.60v1.32h-11.60zM203.71,72.48h3.87v1.32h-3.87zM45.16,73.80h7.73v1.32h-7.73zM54.18,73.80h2.58v1.32h-2.58zM76.09,73.80h9.02v1.32h-9.02zM202.43,73.80h5.16v1.32h-5.16zM45.16,75.12h12.89v1.32h-12.89zM77.38,75.12h10.31v1.32h-10.31zM90.27,75.12h2.58v1.32h-2.58zM201.14,75.12h6.45v1.32h-6.45zM47.73,76.44h2.58v1.32h-2.58zM51.60,76.44h1.29v1.32h-1.29zM73.52,76.44h11.60v1.32h-11.60zM86.41,76.44h3.87v1.32h-3.87zM185.67,76.44h3.87v1.32h-3.87zM201.14,76.44h10.31v1.32h-10.31zM47.73,77.76h1.29v1.32h-1.29zM50.31,77.76h2.58v1.32h-2.58zM73.52,77.76h11.60v1.32h-11.60zM86.41,77.76h3.87v1.32h-3.87zM183.09,77.76h6.45v1.32h-6.45zM199.85,77.76h11.60v1.32h-11.60zM40.00,79.08h2.58v1.32h-2.58zM76.09,79.08h14.18v1.32h-14.18zM183.09,79.08h6.45v1.32h-6.45zM201.14,79.08h3.87v1.32h-3.87zM212.74,79.08h2.58v1.32h-2.58zM40.00,80.40h2.58v1.32h-2.58zM73.52,80.40h16.76v1.32h-16.76zM184.38,80.40h5.16v1.32h-5.16zM212.74,80.40h2.58v1.32h-2.58zM65.78,81.72h1.29v1.32h-1.29zM68.36,81.72h2.58v1.32h-2.58zM74.81,81.72h15.47v1.32h-15.47zM184.38,81.72h2.58v1.32h-2.58zM40.00,83.04h1.29v1.32h-1.29zM67.07,83.04h3.87v1.32h-3.87zM73.52,83.04h16.76v1.32h-16.76zM207.58,83.04h2.58v1.32h-2.58zM68.36,84.36h2.58v1.32h-2.58zM76.09,84.36h9.02v1.32h-9.02zM189.53,84.36h1.29v1.32h-1.29zM68.36,85.68h2.58v1.32h-2.58zM76.09,85.68h3.87v1.32h-3.87zM81.25,85.68h3.87v1.32h-3.87zM189.53,85.68h1.29v1.32h-1.29zM73.52,87.00h3.87v1.32h-3.87zM90.27,87.00h3.87v1.32h-3.87zM194.69,87.00h3.87v1.32h-3.87zM206.29,87.00h3.87v1.32h-3.87zM56.76,88.32h3.87v1.32h-3.87zM73.52,88.32h24.49v1.32h-24.49zM206.29,88.32h3.87v1.32h-3.87zM73.52,89.64h24.49v1.32h-24.49zM206.29,89.64h3.87v1.32h-3.87zM73.52,90.96h12.89v1.32h-12.89zM87.70,90.96h10.31v1.32h-10.31zM74.81,92.28h1.29v1.32h-1.29zM81.25,92.28h9.02v1.32h-9.02zM91.56,92.28h3.87v1.32h-3.87zM74.81,93.60h1.29v1.32h-1.29zM82.54,93.60h10.31v1.32h-10.31zM46.45,94.92h2.58v1.32h-2.58zM83.83,94.92h9.02v1.32h-9.02zM46.45,96.24h2.58v1.32h-2.58zM83.83,96.24h9.02v1.32h-9.02zM192.11,96.24h2.58v1.32h-2.58zM85.12,97.56h6.45v1.32h-6.45zM181.80,97.56h3.87v1.32h-3.87zM192.11,97.56h2.58v1.32h-2.58zM87.70,98.88h5.16v1.32h-5.16zM181.80,98.88h5.16v1.32h-5.16zM192.11,98.88h2.58v1.32h-2.58zM90.27,100.20h2.58v1.32h-2.58zM184.38,100.20h2.58v1.32h-2.58zM90.27,101.52h2.58v1.32h-2.58zM185.67,101.52h1.29v1.32h-1.29zM150.86,121.32h3.87v1.32h-3.87zM150.86,122.64h3.87v1.32h-3.87zM149.57,123.96h2.58v1.32h-2.58zM149.57,125.28h2.58v1.32h-2.58zM104.45,138.48h2.58v1.32h-2.58zM101.88,139.80h5.16v1.32h-5.16zM100.59,141.12h3.87v1.32h-3.87zM100.59,142.44h3.87v1.32h-3.87zM100.59,143.76h2.58v1.32h-2.58zM95.43,145.08h2.58v1.32h-2.58zM95.43,146.40h2.58v1.32h-2.58zM524.70,622.92h1.29v1.32h-1.29zM529.85,622.92h2.58v1.32h-2.58z" fill="#d2ff00"/>
<path d="M149.57,32.88h1.29v1.32h-1.29zM149.57,34.20h1.29v1.32h-1.29zM194.69,34.20h3.87v1.32h-3.87zM194.69,35.52h3.87v1.32h-3.87zM375.16,252.00h1.29v1.32h-1.29zM372.59,261.24h1.29v1.32h-1.29zM370.01,262.56h3.87v1.32h-3.87zM370.01,263.88h6.45v1.32h-6.45zM372.59,265.20h3.87v1.32h-3.87zM375.16,266.52h1.29v1.32h-1.29zM381.61,269.16h1.29v1.32h-1.29zM370.01,270.48h2.58v1.32h-2.58zM379.03,270.48h3.87v1.32h-3.87zM388.05,270.48h3.87v1.32h-3.87zM305.55,271.80h1.29v1.32h-1.29zM370.01,271.80h2.58v1.32h-2.58zM379.03,271.80h5.16v1.32h-5.16zM388.05,271.80h3.87v1.32h-3.87zM299.11,273.12h1.29v1.32h-1.29zM304.26,273.12h2.58v1.32h-2.58zM379.03,273.12h16.76v1.32h-16.76zM408.68,273.12h2.58v1.32h-2.58zM299.11,274.44h1.29v1.32h-1.29zM304.26,274.44h1.29v1.32h-1.29zM379.03,274.44h16.76v1.32h-16.76zM314.58,275.76h1.29v1.32h-1.29zM379.03,275.76h16.76v1.32h-16.76zM377.74,277.08h18.05v1.32h-18.05zM377.74,278.40h19.34v1.32h-19.34zM377.74,279.72h19.34v1.32h-19.34zM404.81,279.72h1.29v1.32h-1.29zM377.74,281.04h28.36v1.32h-28.36zM377.74,282.36h21.91v1.32h-21.91zM402.23,282.36h3.87v1.32h-3.87zM377.74,283.68h21.91v1.32h-21.91zM402.23,283.68h3.87v1.32h-3.87zM372.59,285.00h1.29v1.32h-1.29zM381.61,285.00h24.49v1.32h-24.49zM372.59,286.32h1.29v1.32h-1.29zM384.19,286.32h2.58v1.32h-2.58zM390.63,286.32h15.47v1.32h-15.47zM371.30,287.64h6.45v1.32h-6.45zM395.79,287.64h10.31v1.32h-10.31zM371.30,288.96h7.73v1.32h-7.73zM395.79,288.96h10.31v1.32h-10.31zM364.85,290.28h2.58v1.32h-2.58zM371.30,290.28h11.60v1.32h-11.60zM393.21,290.28h12.89v1.32h-12.89zM376.45,291.60h6.45v1.32h-6.45zM389.34,291.60h18.05v1.32h-18.05zM376.45,292.92h3.87v1.32h-3.87zM388.05,292.92h19.34v1.32h-19.34zM376.45,294.24h2.58v1.32h-2.58zM389.34,294.24h16.76v1.32h-16.76zM382.90,295.56h1.29v1.32h-1.29zM397.08,295.56h9.02v1.32h-9.02zM399.66,296.88h6.45v1.32h-6.45zM400.95,298.20h5.16v1.32h-5.16zM403.52,299.52h2.58v1.32h-2.58zM344.23,387.96h2.58v1.32h-2.58zM344.23,389.28h2.58v1.32h-2.58zM339.07,390.60h7.73v1.32h-7.73zM333.91,391.92h12.89v1.32h-12.89zM335.20,393.24h10.31v1.32h-10.31zM370.01,394.56h5.16v1.32h-5.16zM380.32,457.92h1.29v1.32h-1.29zM379.03,459.24h2.58v1.32h-2.58z" fill="#d65a00"/>
<path d="M302.97,419.64h1.29v1.32h-1.29zM308.13,419.64h2.58v1.32h-2.58zM301.69,420.96h2.58v1.32h-2.58zM308.13,420.96h2.58v1.32h-2.58zM300.40,422.28h5.16v1.32h-5.16zM308.13,422.28h3.87v1.32h-3.87zM299.11,423.60h15.47v1.32h-15.47zM297.82,424.92h21.91v1.32h-21.91zM324.89,424.92h1.29v1.32h-1.29zM296.53,426.24h23.20v1.32h-23.20zM323.60,426.24h2.58v1.32h-2.58zM295.24,427.56h25.78v1.32h-25.78zM322.31,427.56h3.87v1.32h-3.87zM293.95,428.88h30.94v1.32h-30.94zM293.95,430.20h30.94v1.32h-30.94zM292.66,431.52h25.78v1.32h-25.78zM321.02,431.52h3.87v1.32h-3.87zM290.08,432.84h19.34v1.32h-19.34zM313.29,432.84h5.16v1.32h-5.16zM321.02,432.84h3.87v1.32h-3.87zM287.51,434.16h21.91v1.32h-21.91zM313.29,434.16h5.16v1.32h-5.16zM321.02,434.16h3.87v1.32h-3.87zM286.22,435.48h38.67v1.32h-38.67zM284.93,436.80h9.02v1.32h-9.02zM302.97,436.80h2.58v1.32h-2.58zM306.84,436.80h18.05v1.32h-18.05zM284.93,438.12h9.02v1.32h-9.02zM304.26,438.12h1.29v1.32h-1.29zM306.84,438.12h18.05v1.32h-18.05zM283.64,439.44h10.31v1.32h-10.31zM306.84,439.44h18.05v1.32h-18.05zM287.51,440.76h6.45v1.32h-6.45zM305.55,440.76h19.34v1.32h-19.34zM288.79,442.08h5.16v1.32h-5.16zM305.55,442.08h20.63v1.32h-20.63zM290.08,443.40h3.87v1.32h-3.87zM306.84,443.40h11.60v1.32h-11.60zM321.02,443.40h5.16v1.32h-5.16zM279.77,444.72h3.87v1.32h-3.87zM290.08,444.72h5.16v1.32h-5.16zM306.84,444.72h10.31v1.32h-10.31zM322.31,444.72h2.58v1.32h-2.58zM279.77,446.04h3.87v1.32h-3.87zM288.79,446.04h6.45v1.32h-6.45zM305.55,446.04h11.60v1.32h-11.60zM322.31,446.04h1.29v1.32h-1.29zM287.51,447.36h9.02v1.32h-9.02zM304.26,447.36h16.76v1.32h-16.76zM322.31,447.36h1.29v1.32h-1.29zM286.22,448.68h11.60v1.32h-11.60zM301.69,448.68h16.76v1.32h-16.76zM277.19,450.00h2.58v1.32h-2.58zM284.93,450.00h10.31v1.32h-10.31zM297.82,450.00h20.63v1.32h-20.63zM277.19,451.32h2.58v1.32h-2.58zM283.64,451.32h9.02v1.32h-9.02zM301.69,451.32h16.76v1.32h-16.76zM282.35,452.64h9.02v1.32h-9.02zM305.55,452.64h11.60v1.32h-11.60zM282.35,453.96h7.73v1.32h-7.73zM309.42,453.96h5.16v1.32h-5.16zM283.64,455.28h5.16v1.32h-5.16zM270.75,456.60h2.58v1.32h-2.58zM279.77,456.60h7.73v1.32h-7.73zM269.46,457.92h5.16v1.32h-5.16zM279.77,457.92h6.45v1.32h-6.45zM268.17,459.24h6.45v1.32h-6.45zM278.48,459.24h6.45v1.32h-6.45zM266.88,460.56h18.05v1.32h-18.05zM265.59,461.88h20.63v1.32h-20.63zM263.01,463.20h23.20v1.32h-23.20zM263.01,464.52h24.49v1.32h-24.49zM263.01,465.84h24.49v1.32h-24.49zM263.01,467.16h25.78v1.32h-25.78zM265.59,468.48h9.02v1.32h-9.02zM275.90,468.48h11.60v1.32h-11.60zM265.59,469.80h3.87v1.32h-3.87zM275.90,469.80h10.31v1.32h-10.31zM290.08,469.80h2.58v1.32h-2.58zM275.90,471.12h7.73v1.32h-7.73zM291.37,471.12h1.29v1.32h-1.29zM349.38,534.48h9.02v1.32h-9.02zM349.38,535.80h9.02v1.32h-9.02zM349.38,537.12h9.02v1.32h-9.02zM349.38,538.44h9.02v1.32h-9.02zM364.85,541.08h3.87v1.32h-3.87zM366.14,542.40h3.87v1.32h-3.87zM380.32,543.72h3.87v1.32h-3.87zM380.32,545.04h3.87v1.32h-3.87zM380.32,546.36h3.87v1.32h-3.87zM547.90,597.84h2.58v1.32h-2.58zM549.19,599.16h3.87v1.32h-3.87zM550.48,600.48h5.16v1.32h-5.16zM551.77,601.80h7.73v1.32h-7.73zM553.06,603.12h9.02v1.32h-9.02zM554.35,604.44h14.18v1.32h-14.18zM555.64,605.76h14.18v1.32h-14.18zM573.68,605.76h14.18v1.32h-14.18zM559.50,607.08h11.60v1.32h-11.60zM573.68,607.08h14.18v1.32h-14.18zM562.08,608.40h25.78v1.32h-25.78zM564.66,609.72h23.20v1.32h-23.20zM568.53,611.04h19.34v1.32h-19.34zM573.68,612.36h5.16v1.32h-5.16zM584.00,612.36h3.87v1.32h-3.87zM573.68,613.68h5.16v1.32h-5.16zM581.42,613.68h6.45v1.32h-6.45zM573.68,615.00h5.16v1.32h-5.16zM581.42,615.00h6.45v1.32h-6.45zM573.68,616.32h5.16v1.32h-5.16zM581.42,616.32h7.73v1.32h-7.73zM574.97,617.64h5.16v1.32h-5.16zM581.42,617.64h12.89v1.32h-12.89zM574.97,618.96h25.78v1.32h-25.78zM576.26,620.28h24.49v1.32h-24.49zM538.88,621.60h1.29v1.32h-1.29zM587.86,621.60h11.60v1.32h-11.60zM538.88,622.92h1.29v1.32h-1.29zM538.88,624.24h1.29v1.32h-1.29zM537.59,625.56h3.87v1.32h-3.87zM538.88,626.88h5.16v1.32h-5.16zM599.47,626.88h5.16v1.32h-5.16zM600.75,628.20h11.60v1.32h-11.60zM600.75,629.52h14.18v1.32h-14.18zM538.88,630.84h3.87v1.32h-3.87zM600.75,630.84h12.89v1.32h-12.89zM600.75,632.16h12.89v1.32h-12.89zM602.04,633.48h2.58v1.32h-2.58zM607.20,633.48h6.45v1.32h-6.45zM600.75,634.80h5.16v1.32h-5.16zM608.49,634.80h5.16v1.32h-5.16zM599.47,636.12h2.58v1.32h-2.58zM607.20,636.12h6.45v1.32h-6.45zM599.47,637.44h2.58v1.32h-2.58zM605.91,637.44h7.73v1.32h-7.73zM599.47,638.76h14.18v1.32h-14.18zM598.18,640.08h14.18v1.32h-14.18zM598.18,641.40h1.29v1.32h-1.29zM602.04,641.40h9.02v1.32h-9.02zM598.18,642.72h2.58v1.32h-2.58zM602.04,642.72h7.73v1.32h-7.73zM598.18,644.04h2.58v1.32h-2.58zM602.04,644.04h5.16v1.32h-5.16zM596.89,645.36h3.87v1.32h-3.87zM603.33,645.36h3.87v1.32h-3.87zM594.31,646.68h9.02v1.32h-9.02z" fill="#001098"/>
<path d="M540.17,30.24h9.02v1.32h-9.02zM541.46,31.56h9.02v1.32h-9.02zM544.03,32.88h7.73v1.32h-7.73zM549.19,34.20h2.58v1.32h-2.58zM523.41,46.08h3.87v1.32h-3.87zM524.70,47.40h3.87v1.32h-3.87zM527.28,48.72h1.29v1.32h-1.29zM660.05,104.16h3.87v1.32h-3.87zM660.05,105.48h3.87v1.32h-3.87zM661.34,106.80h2.58v1.32h-2.58zM696.15,116.04h2.58v1.32h-2.58z" fill="#a80000"/>
<path d="M87.4,21.5 L105.1,21.5 L104.5,26.3 L103.6,32.6 L103.6,42.7 L107.6,47.1 L113.9,52.8 L120.3,57.9 L126.6,60.4 L130.4,62.3 L131,64.2 L129.1,65.7 L124,64.8 L117.7,62.3 L111.4,61 L105.1,61 L102.6,62.9 L102.8,65.5 L105.7,68 L111.4,69.9 L115.2,71.8 L117.1,73.7 L120.3,71.8 L122.1,70.5 L125.3,72.4 L130.4,71.8 L134.1,70.5 L137.9,70.5 L138.6,71.8 L135.4,73 L132.9,74.3 L132.2,76.8 L134.1,78.7 L136.7,80 L135.4,81.2 L131.6,80.6 L127.8,78.7 L125.3,76.8 L123.4,76.8 L122.1,78.7 L122.8,81.9 L126.6,83.1 L130.4,84.4 L134.1,85.7 L136.7,85 L137.3,86.9 L135.4,88.8 L131.6,88.2 L127.8,87.6 L125.9,88.8 L127.8,90.1 L131.6,90.1 L135.4,91.3 L139.2,92.6 L143,93.2 L146.8,94.5 L147.4,95.8 L144.2,95.5 L139.2,94.5 L132.9,93.2 L126.6,92.2 L120.3,91.3 L113.9,91.3 L112,92.6 L115.2,94.5 L119.6,95.8 L122.1,96.4 L120.3,97.7 L117.7,99.5 L115.8,102.1 L112.7,104 L110.2,103.3 L107.6,99.5 L105.7,96.4 L102.6,95.5 L98.8,95.8 L95,97" fill="none" stroke="#b0b0b0" stroke-width="1"/>
<path d="M136,62.9 L139.2,61 L143,59.1 L146.8,61 L147.4,62.3 L144.2,63.6 L140.5,64.8 L137.3,64.8Z" fill="none" stroke="#b0b0b0" stroke-width="1"/>
<path d="M129.1,21.5 L139.2,21.5" fill="none" stroke="#b0b0b0" stroke-width="1"/>
<path d="M40,103.2 L41.3,102.9 L45.1,99.8 L50.1,96 L55.2,94.3 L61.5,94.7 L67.8,96.6 L74.1,99.1 L80.4,101 L86.7,100.4 L91.8,98.5 L96.8,96.6 L101.9,95.4 L105.7,96.6 L108.2,100.4 L110.7,102.9 L114.5,102.9 L117,99.1 L120.8,97.9 L122.7,96.6 L118.3,95.4 L114.5,93.5 L113.2,92.2 L118.3,91.6 L125.9,92.2 L133.4,94.1" fill="none" stroke="#b0b0b0" stroke-width="1"/>
<path d="M40,681 L40.5,305.5 L44.5,305.5 L45.7,304.7 L46.4,303.6 L47.8,302.9 L48.5,303 L49.2,301.6 L49.7,300.7 L49.8,300 L51.4,299.3 L51.8,299.1 L53,298.4 L54.8,299 L54.9,298.7 L55.3,297.3 L55.5,296.4 L57,296.4 L57.5,298.4 L57.6,299 L57.9,300 L58.8,300.5 L58.2,302.4 L58.8,301.2 L60.2,300.2 L60.5,299.8 L60.8,298.5 L62.2,298.4 L62.4,298.1 L63.3,296.7 L63.3,298.2 L64.4,299.5 L65.2,300.7 L65.6,302.4 L66.2,302.6 L66.7,304.1 L66.2,304.7 L67.4,306.1 L67.3,307.3 L67.9,307.4 L69,307.3 L69.2,305.9 L69.5,305.2 L69.1,304.4 L67.8,303 L67.2,302 L67.5,301.3 L67.3,299.5 L67.8,298 L68.4,296.6 L67.8,296.1 L68.8,296 L70.1,295 L71,294.4 L73,293.9 L73.7,293.6 L75.8,292.7 L76.4,291.4 L77.7,292.2 L78.1,292.7 L80.1,292.7 L80.9,293.3 L82.4,294 L83.2,294.4 L84.5,294.7 L85.5,295.2 L87.3,295.6 L88.1,294.9 L89.4,294.4 L87.3,294.7 L86.6,294.4 L85.4,294.9 L83.8,293.9 L84.9,292.7 L84.9,292.2 L83.6,292.2 L82.6,291.6 L80.7,291.2 L80.3,291 L79.8,289.1 L79.6,288.8 L80.3,287 L79.8,285.1 L80.4,284.6 L80.7,282.5 L80.4,281 L81.5,279.7 L82.7,279.7 L83.8,278.5 L85.2,278.2 L85.5,276.8 L83.7,277 L82.6,277.4 L82.6,276.9 L83,275.1 L82.7,273.4 L80.9,272.8 L79.2,271.8 L78.6,271.7 L78.5,270.8 L79.2,270 L78.1,270.5 L78.8,269.3 L79.2,268.8 L79.3,268.1 L80.9,267.7 L81.1,266.8 L81.8,265.6 L81.2,266.4 L79.2,266.5 L77.7,266.6 L76.1,266.3 L75.3,264.8 L73.9,264.7 L73.8,264.2 L72.4,262.9 L73.8,262.8 L74.1,261.8 L75.3,261.5 L76.1,261.8 L78.1,261.5 L78.5,260.9 L79.9,261.2 L81.5,261.8 L80.1,260.3 L79.2,260.3 L77,259.4 L76.4,259.7 L74.6,259.2 L74.1,259.2 L72.8,258.6 L73,256.9 L73,255 L72.2,254 L72.4,252.9 L71.6,251.3 L71.2,250.9 L70.5,251.2 L68.5,249.8 L67.3,249.3 L65.1,248.4 L64,248.5 L62.7,248.6 L61.9,248.2 L59.3,249.5 L58.8,248.9 L57.7,248.7 L56.5,248.9 L55.3,250.1 L53.9,251.4 L52.5,251.2 L51.9,252.1 L50.2,252.3 L48.7,253.1 L48,254.3 L46.3,254.3 L45.7,253.5 L45,253.2 L43.9,251.5 L43.4,251.2 L40.5,249.5 L40.5,227.9 L42.1,229.5 L43.1,229.9 L44.1,230.5 L44.5,230.8 L45.2,231.4 L46.8,231.9 L47.3,230.3 L47.5,230 L49.1,229.6 L49,229.1 L49.7,227.9 L51.4,227.5 L51.4,227.3 L53,229 L53.1,229 L54.5,229.9 L53.7,230.8 L54.8,232.5 L55,232.9 L56.5,235.1 L57,235.3 L58.5,236.1 L58.8,237 L59.4,236.1 L59.5,234.2 L59.3,233.5 L61.2,232.8 L61,231.3 L62.2,229.9 L62.5,228.5 L62.5,230.2 L63.6,230.8 L63.8,232.5 L65.5,232.9 L65.2,234.2 L64.8,236.1 L65.1,235.9 L64.4,237.6 L64.5,238.1 L65.9,239.8 L67.3,239.5 L66.5,238.7 L67.8,237.2 L69.3,236.6 L68.9,235.6 L69.8,234.7 L70.1,234.7 L71.8,236.4 L73.2,238 L73,239.8 L73.5,240.4 L74.2,241.8 L75.8,241.3 L76.1,242.5 L76.5,243 L77.3,244.3 L78.6,245 L78.9,245.8 L79.5,247.6 L80.9,247.8 L81.3,249.1 L82.3,250.6 L83.2,252.4 L83.8,252.7 L85.1,253.9 L86.6,253.5 L87.4,252.8 L88.2,251.1 L88.9,251.2 L89.7,249.7 L89.9,249.9 L91.7,248.4 L92,247.7 L93.8,247.1 L94.3,246.3 L95.1,246.2 L96.6,246.1 L97.5,246.1 L98.2,245 L97,243.7 L97.2,242.2 L98,241.7 L99.7,242 L100.9,242.8 L101.3,244.1 L101.9,244.4 L103.6,245.3 L104,246.5 L104.8,247.5 L105.6,248.9 L106.2,249.6 L107,250.6 L107.7,252.6 L108.9,253.7 L109.3,254.3 L110.7,254.9 L110.5,257.2 L111,257.5 L112.2,258 L111.5,259.7 L112.7,260.9 L112.5,261.6 L113.1,263.5 L114.4,264.3 L115.9,265.6 L115.7,265.8 L117.3,266 L118.9,265.7 L120,266.7 L122.3,266.9 L123.8,267.2 L124,265.8 L124.3,266.3 L125.7,265.2 L126.4,265.8 L127.4,266.4 L127.4,267.8 L125.7,268.1 L125.6,268.8 L126.8,269.8 L128,269.5 L129.1,269.8 L129.4,268.6 L130.8,268.1 L132,268.3 L132.5,270.3 L133.7,270.8 L134.8,271.5 L135,270.3 L137,269.8 L138.4,269.5 L139.3,269.2 L138.8,271.2 L139.9,271.5 L140.1,273.7 L139.3,274.3 L137.7,274.7 L137.6,276 L138.2,277.2 L138.2,276.9 L139.9,275.5 L139.8,273.7 L140.5,273.2 L141.5,273.6 L142.7,272.6 L144.1,272.8 L144.4,273.8 L145,274.9 L145.2,274.5 L146.7,272.6 L147.4,272 L147.1,269.9 L148.4,269.8 L148.6,271.1 L150,270.7 L150,271.4 L151.8,270.3 L153.5,270.6 L154.7,269.8 L154.5,269.3 L155.8,267.5 L156.4,268.1 L158.6,267.3 L159.7,267.7 L160.9,268.6 L162.4,269.4 L163.8,268.6 L164.2,268.2 L165.5,269.2 L165.2,269.6 L164.9,270.9 L163.3,270.6 L163.2,271.5 L162.1,271.7 L162.6,273 L161.4,272.7 L160.9,273.2 L160.5,273.1 L159.2,273.8 L158.9,274.3 L158.6,276 L159.2,276 L160.3,277.7 L160.7,277.7 L162,279.4 L163.6,279.8 L164.3,280 L164.9,279.7 L166.6,279.4 L168.2,277.8 L168.3,277.7 L169.7,276.9 L170,276.4 L171.4,277 L172.8,276.4 L173.2,277.4 L174,278.3 L174.6,280.3 L174.5,280.6 L174.8,280.6 L175.7,279.4 L176.9,279.4 L177.4,278.9 L178.1,279.5 L179.1,280.6 L178.8,281 L180.2,282.8 L179.7,284.7 L180.8,285.7 L180.2,286.2 L179.7,288.6 L180.2,289.1 L181.5,290.8 L181.4,291.9 L180.4,292.9 L180.2,294.8 L179.7,295.9 L180.4,295 L181.9,294.2 L181.6,292.7 L182.5,291.4 L182,291.1 L182.3,289.1 L184.4,288.6 L184.8,288 L184.6,287.4 L185.3,285.1 L185.8,284.5 L187,284.5 L187,284.9 L188.8,285.7 L189.9,286.6 L191,287.4 L191.9,288 L193.9,288.5 L194.3,288.5 L195.8,289.1 L197.8,289.7 L198.1,289 L200,290 L204.5,290 L205.3,289.1 L206.8,289.1 L207.8,290.3 L208.5,291.4 L209.3,290.5 L209.1,289.1 L210.3,288.6 L210.8,286.8 L211.4,285.6 L213.2,284.3 L213.1,284 L214.6,283.4 L215.3,282.3 L215.9,282.9 L218.2,282.3 L219.5,283.4 L219.3,284 L220.3,285.7 L220.5,286.2 L221,286.8 L222.7,287.4 L223.6,289.2 L224.4,289.7 L224.7,291.7 L223.9,292.5 L224.9,294.1 L225.6,294.2 L226.8,295.1 L227.3,295.3 L227.4,293.6 L228.4,293.6 L227.2,292.2 L227.3,291.4 L226.8,290.9 L227.8,289.1 L228.8,288.5 L229.5,287.4 L231.2,287.7 L232.4,287.4 L232.9,287.4 L233.5,289.1 L233.2,290.4 L231.8,290.8 L231.3,292 L230.7,293.1 L230.7,293.2 L230.1,294.8 L231.4,294.9 L231.8,295.9 L231.6,296.4 L233.3,297.3 L233.5,298.8 L234.8,300.5 L235.2,300.5 L236,301.1 L236.9,302.2 L237.5,303.2 L238.1,303.6 L239.1,302.8 L239.2,301.6 L240.9,300.7 L242,301.4 L242.8,300.8 L244.9,301 L245.9,301.8 L246,303.3 L247.3,303.3 L248.3,305 L247.2,303.4 L247.7,302.7 L247.5,301.9 L246.6,300.5 L248.1,299.8 L248.9,299.9 L250.3,299.3 L251.7,298.8 L250.8,297.5 L250,297.6 L248.9,298.2 L250.5,296.8 L250.6,296.5 L252.6,296.7 L252.8,295.3 L252.5,294.1 L254,293.1 L255.7,293.2 L256.2,291.6 L257.6,291.1 L259.1,291.4 L260,292.5 L261.9,291.9 L262.2,292.6 L263.6,293.1 L263.8,292.5 L265.3,291.9 L267,290.1 L267,289.7 L268.5,289.1 L268.8,288.5 L270.3,288 L270.5,286.8 L270.3,286.1 L271,284 L271.6,282.3 L272.2,282.3 L272.7,282.5 L275,282.8 L275.8,281.9 L276.7,281.7 L276.9,281.7 L278.4,282.3 L278.9,282.1 L280.1,280.6 L280.7,280.5 L283,279.4 L284.7,278.2 L285.2,278.3 L286.7,277.9 L287.5,276.4 L287.5,276 L288.5,275.3 L290,274.9 L289.3,274.1 L290.4,273.1 L289.4,271.7 L289.9,270.7 L290.6,269.3 L292.2,269.5 L292.2,269.4 L293.3,268.8 L294.4,267.3 L294.7,265.9 L296,264.8 L296.7,264.4 L297.4,264.7 L299.3,263.8 L299.5,262.7 L300.5,262.7 L301.8,261.3 L301.8,260.5 L303,258.5 L303.5,258.2 L304.7,257.1 L305.5,256.5 L305.8,255.3 L306.9,255 L305.9,255.3 L306.5,256.5 L305.2,258.2 L304.6,258.9 L303.7,260.5 L303.5,261 L303.6,261.5 L302.3,262.6 L301.3,263.9 L300.4,264.4 L298.8,264.8 L298.4,266.1 L296.9,267.6 L296.5,267.1 L295.6,268.4 L295.6,270.1 L294,269.3 L293.3,270.7 L292.4,271.4 L292.6,273.5 L292.9,273.9 L293.4,275.4 L294.5,277 L294.2,278.9 L294.1,279.2 L293.2,280.5 L292.7,282.3 L291.4,282.9 L290.2,283.1 L289.3,284 L287.2,284.5 L287.5,285.1 L285.3,286.6 L284.2,287.9 L283.7,288.2 L281.9,289.7 L280.6,290.2 L280,291.5 L280.2,293.1 L278.5,293.4 L278.2,293.7 L275.7,296.2 L275.5,297 L276.9,298.4 L276.8,299.9 L277.7,299.8 L278.1,302.2 L279.1,302.2 L280.5,303.9 L280.8,304.4 L283.1,303.9 L283.6,304.4 L283.5,302.7 L284.8,302.2 L284.4,301.4 L284.8,300.3 L283.6,298.8 L284.3,297.8 L284.5,295.9 L285.4,296.5 L286.5,297 L286.8,296.9 L288.3,296.6 L289.9,295.3 L291.6,294.7 L292.7,294.8 L293.5,293.8 L295.6,293.6 L296.9,293.1 L297.8,291.9 L298.3,290.3 L300.1,290.2 L300.7,291.2 L301.2,291.9 L300.3,292.6 L299.8,294.2 L300.1,294.7 L300.1,297 L299.5,298.1 L300.4,299.6 L299.3,300.5 L300.8,301.6 L300.9,302.7 L301.6,302.4 L303.2,303 L303.7,304.7 L302.5,305.6 L301,305.3 L300.2,306.8 L299.6,308 L298.9,308.2 L298.4,309.5 L297.9,311 L296.8,310.9 L296,311.4 L296.1,313.6 L297,314.1 L298.4,314.8 L299.2,315.4 L299.9,317.5 L299.8,318.2 L300.5,316.8 L302,316.1 L301.8,315.5 L303.5,314.3 L304.1,314.1 L304.9,314.8 L306.4,315.4 L308.1,314.8 L309.3,315.1 L310.5,316.6 L311.4,316.5 L313.2,316.6 L314.4,316.2 L315,314.1 L315.5,313.1 L317.3,312.5 L317.1,312.2 L317.4,309.4 L318.4,309.1 L318.1,307.9 L320.2,307.8 L320,306.1 L321,305.6 L321.1,303.3 L323,301.9 L323.4,301.1 L322,301 L321.8,299.3 L320.8,298.3 L318.9,298.9 L317.9,298.7 L316,298.6 L314.9,298.9 L312.9,297.7 L312,298.2 L310.1,298 L308.9,298.4 L308.2,297.7 L305.9,298.4 L306.5,297.1 L305.5,296.8 L306.3,297.1 L308.1,296.1 L308.6,295.9 L309.2,295.7 L311.4,295.5 L312,295.3 L313,293.6 L313.3,292.3 L314.8,291.4 L316.3,289.5 L316.4,289.3 L317.4,289.4 L319.3,287.6 L320,288 L320.1,286.6 L322.6,286.4 L322.8,286.2 L324.4,285.8 L325.1,284 L325.7,283 L326.8,282.8 L328.8,283.3 L329.1,283.4 L329.8,284.6 L331.4,285.1 L331.6,285.7 L331.6,287.5 L333.1,288 L334.4,289.2 L335,289 L334.8,290.8 L334.9,291.7 L336.8,293.5 L336.5,293.6 L336.9,294.3 L337.5,295.9 L338.2,297 L339.5,297.6 L339.9,299.8 L339.9,300.5 L341.3,302.1 L341.6,302.7 L342.9,303 L343.9,303.9 L344.7,303.1 L346.1,302.7 L347.2,301.1 L347.3,301 L345.9,300.9 L345.6,299.9 L343.7,298.8 L342.7,299.3 L341.6,298.5 L342.2,297.6 L343.3,298.2 L345,297 L346.8,297.9 L346.8,296.3 L348.4,297 L348.8,297.6 L351,298.1 L351.8,298.8 L352.3,299.2 L353.9,300.2 L354.7,300.5 L356.2,302.2 L356.9,302.7 L357.8,303.5 L358.1,305.6 L359,306.6 L358.6,308.4 L357.9,309.3 L356.9,310.7 L356.2,311.3 L354.7,313 L353.1,313.4 L352.4,314.7 L350.6,316.2 L350.1,316.4 L349.4,317.2 L348.4,318.6 L347.1,320.3 L346.1,320.3 L346.7,321 L347.3,322.6 L346.7,323.7 L345,324.3 L345.3,324.7 L343.9,326.6 L343.3,328.3 L342.7,328.9 L343.1,330.7 L342.2,331.1 L339.9,331 L339.3,331.7 L337.5,332 L337,333.4 L337,334.7 L335.3,335.7 L335.2,334.9 L333.6,334.5 L333.4,335 L331.9,335.7 L330.6,336.7 L330.2,336.8 L330.5,336.9 L329.1,338.5 L330.1,339.9 L330.8,340.8 L330.8,341.7 L331.9,343.1 L332.1,343.7 L333.6,345.3 L336.8,346.7 L337.5,347.4 L339.3,347.3 L340.2,348.4 L339.9,349.5 L341.4,351.2 L340.9,351.8 L339.7,353.5 L338.6,352 L338.7,351.7 L337.4,350.7 L335.2,349.7 L334.5,350.1 L333.2,351 L332.3,351.8 L331.4,350.2 L330,350.1 L328.2,351 L327.7,351.2 L328.5,351.4 L329.3,353.2 L330.6,353 L331.4,354.2 L332.8,355.2 L332.8,356.5 L333.4,358.1 L333.5,359.9 L332,359.4 L331.7,360.9 L331.5,361.3 L329.7,363.6 L330,363.8 L329.3,365.3 L328.7,366.4 L328.3,366.6 L327.4,366.8 L326.6,368.3 L324.9,367.5 L324.9,366.6 L324.3,366.5 L323.2,364.9 L322.3,363.8 L322.6,362.2 L322.6,360.9 L321.8,359.4 L322.2,359.4 L322,357.5 L320.4,356.3 L320.3,355.2 L320,357.2 L318.6,357.5 L317.9,358 L319.1,360.6 L318.1,360.9 L317.2,361.2 L316.4,363.2 L316,362.4 L314.1,362 L314,363.1 L312.4,363.8 L312.4,364.6 L311.2,366.6 L311.2,367.2 L310.1,368.9 L309.4,368.4 L309,366.6 L309.2,364.9 L307.7,364.2 L307.8,363.2 L307.7,361.9 L306.8,360.5 L307.3,359.8 L306.9,361.6 L305.6,362 L304.2,363.3 L304.4,364.3 L304.3,364.9 L303.3,367.2 L303.4,367.6 L302.2,369.4 L301.5,368.6 L300.5,367.7 L299.6,366.5 L298.2,366 L297.2,367 L296.5,367.7 L295.2,368.8 L294.2,369.4 L293.3,370.1 L291.8,371.1 L291.9,371.7 L291.3,372.4 L290.8,374 L291.8,375.4 L291.9,375.3 L292.5,376.8 L293.6,376.7 L294.8,378 L294.7,378.7 L295.9,379.7 L294.3,380.4 L294.2,381.4 L293.1,380 L291.9,380.2 L291,380 L289.7,381.4 L289.9,383 L289.3,382.9 L289.1,384.8 L288.9,385.7 L289.5,386.4 L288.5,388.2 L288.6,390.2 L287.4,390.5 L288.7,392.2 L289.1,392.7 L289.3,394.3 L290.6,395.1 L291.4,395 L291.8,395.8 L290.8,397.8 L292.3,399.1 L291.9,398.7 L293.6,399.5 L295.2,398.7 L296.6,398.8 L297,399 L298.2,397.4 L298.2,397.8 L298.8,396.1 L298.8,394.8 L299.9,394.4 L301.1,394.1 L302.2,394.4 L301.9,394.4 L303.3,395.6 L301.8,397.2 L301.6,397.3 L301.4,399.1 L299.9,400.1 L299.9,400.7 L298.8,401.9 L299.4,402.7 L298.8,404.1 L299.1,405.3 L298.1,407.1 L297.6,407.5 L296.3,409.5 L296.7,409.6 L295.9,410.9 L296.1,411.6 L296,413.3 L294.8,414.3 L283,433.8 L281.7,435.2 L280.7,436 L279,435.5 L279.5,436.2 L280.1,437.7 L279.5,438.6 L278.4,440.6 L278.2,441.4 L277.4,443.4 L276.7,444 L275.7,445 L274.4,445.7 L273.6,446.5 L273.3,448.5 L272,449 L271.9,450.4 L271,451.4 L269.9,453.3 L268.8,454.2 L268,455 L268.2,455.9 L267.6,457.6 L266.2,458.6 L265.9,459.9 L264.3,460.6 L263.6,461.6 L262.2,462.6 L261.4,463.3 L260.1,463.8 L258.5,465 L257.2,464.7 L255.7,464.4 L256.7,465.8 L258.5,466.1 L258.8,466.8 L259.7,468.4 L258.6,469.7 L258.5,470.7 L259.8,472.2 L260.2,473 L260.3,474 L260,475.8 L260.8,476.9 L261.4,477.9 L262.1,479.1 L262.5,480.3 L264,481.3 L264.1,482.3 L265.3,482.6 L265.7,483.6 L267.1,484.2 L268.2,485.5 L269.1,486.9 L271,487.7 L271.5,488.2 L273.8,488.1 L274.4,488.9 L275.7,489.6 L277.8,490 L278.9,490.9 L280.4,491.1 L281.2,492.3 L282.3,492.8 L283.3,494.2 L285.2,494.5 L286.7,495.3 L286.9,495.9 L288.6,496 L286.5,493.9 L288,495.1 L289.3,496.4 L289.9,497.3 L291.5,499 L292.6,499 L294.1,500.5 L296,501.2 L297.4,501.1 L298.6,502 L299.9,502.7 L301.3,503.7 L301.9,504.6 L304,504.9 L304.6,506.1 L306.4,506.1 L307,507 L308.9,508.4 L310,508.5 L311.4,509.1 L312.3,510.2 L313.9,511.1 L314.5,512.5 L314.6,514.5 L315.5,515.7 L315.7,517 L316.5,518.9 L316.8,520.1 L317.4,521 L318.4,522.6 L318.9,523.5 L319.7,524.4 L321.2,524.2 L322.5,524.4 L323.6,525.1 L325.3,525.6 L325.8,526.8 L326.8,526.5 L328.2,527.8 L328.7,529.3 L329.9,529.3 L331,530.7 L331.6,531.3 L333.3,533 L334.9,533.4 L336.1,533.5 L337.5,534.6 L338.4,535.2 L339,536.5 L340.7,537.5 L341.7,539 L343,539.8 L343.1,542 L342.4,543.2 L342.7,544.5 L344.1,544.9 L345.7,544.9 L346.4,543.8 L347.6,543.1 L349.8,543.2 L351,542.9 L353.2,543.8 L355,544.7 L356,544.9 L357.6,545.6 L358.9,545.5 L359.6,543.8 L360,542.6 L360.4,541.3 L361.7,540.9 L363.4,541.4 L364.5,542.6 L365.2,543.3 L365.9,543.8 L367.4,544.9 L368.3,545.7 L369.5,545.8 L370.8,546.6 L372.5,547.2 L373.5,547.9 L374.2,548.3 L374.6,549 L376,550.2 L377,550.6 L377.8,551.6 L379,551.7 L379.9,552.8 L381.3,553.1 L382.2,553.9 L382.7,555.1 L383.2,555.5 L385.3,557.2 L386.1,557.4 L386.6,558 L388.4,558.9 L389.5,559.1 L390.5,559.5 L392,560.2 L393.5,560.2 L394.5,561.1 L395.9,560.7 L397.5,561.4 L399,561.6 L400,561.9 L401,562.5 L403,562.8 L404,563.6 L406.3,564.1 L407.7,564.1 L409.1,564.8 L409.7,565.9 L411.1,566.9 L411.8,568.1 L412.1,569.9 L412.8,570.6 L414.6,571.9 L415,573.4 L416.2,573.9 L417.1,575.1 L418.7,576.8 L420.3,577.9 L421.2,579 L422,579.8 L422.8,581.4 L424.5,582.3 L425.3,583 L426.2,584.2 L428.1,585.6 L428.6,586.8 L430.3,588.1 L431.8,589.2 L432,590.7 L433.6,592.8 L434,593.4 L435.4,595.2 L436.6,595.5 L438.4,595.8 L439.7,596.3 L441.4,597.2 L443.6,597.9 L444.2,598.6 L445.8,598.3 L448.5,599.2 L449.5,599.2 L451.5,599.5 L452.6,600 L454.3,599.8 L456.4,600 L458.1,601.2 L460,601.2 L461.9,601.2 L463.5,601.2 L464.6,601.4 L466.6,601.6 L468.8,601.3 L470,601.4 L471.6,602.4 L473,602.6 L474.8,604.1 L476.1,604.4 L478,605.3 L479.7,605.9 L481.1,606.2 L482.3,607 L484.1,607.5 L485.1,607.5 L487.4,608 L488.7,607.6 L490,608 L491.1,608.2 L492.3,608.5 L493.5,609.2 L494.5,610.2 L495.5,612 L495.7,613.1 L496.8,614.2 L498.1,615.2 L498.7,617 L499.7,617.6 L499.5,619 L500,620.6 L500.8,621.6 L501.7,623 L501.1,624.4 L501.9,625.6 L502.1,627.2 L502.3,628.4 L502.5,629.5 L503.7,630.7 L503.9,632.4 L504.8,633 L505,634.4 L505.8,635.6 L506.5,636.4 L507.2,637.7 L508.6,637.3 L509.9,638.6 L510.8,639 L511.6,639.6 L513.3,640.3 L514.5,641.1 L515.8,641.2 L517.3,642 L518.1,642.7 L520.1,642.8 L520.7,643.2 L521.5,644.5 L522.8,644.7 L524.1,646 L524.8,647.3 L526.7,648.1 L527.5,648.9 L528.8,649.5 L529.8,650.6 L531.5,650.6 L532.7,651.3 L534.5,652.1 L535.5,652.3 L537,652.6 L538.6,653 L540,654 L541.9,654.2 L543.4,654.5 L544.5,655.1 L545.5,655.3 L546.8,656 L548,656.5 L548.9,657.9 L550.5,658.2 L551.9,659.3 L553.4,660.3 L554.8,661 L556.5,661.3 L558.4,662.4 L558.8,662.9 L560.9,663 L560,664 L561.9,664.2 L562.4,664.1 L564.4,663 L565.7,663.4 L566.5,663.8 L568.7,662.8 L569.5,662.5 L571.4,662.8 L572.5,662.9 L574,661.8 L576.1,662.3 L577,661.7 L578.1,661.8 L580.2,661.3 L581.6,660.6 L583.3,660.5 L584.9,659.9 L586.1,658.9 L587.1,658.6 L588.8,658.1 L590.1,657.2 L591.4,657.1 L592.8,655.8 L594.1,655.5 L594.9,654.3 L596.4,653.4 L597.5,653.2 L598.6,652 L599.8,651.7 L600.9,650.9 L602.1,650.6 L602.6,649.8 L604.3,648.6 L605.4,647.7 L606.8,647.1 L607.7,645.8 L608.5,644.8 L610.2,643.4 L610.6,643 L611.7,642 L611.9,640.8 L613.4,639.5 L614,638.7 L613.9,637.5 L614.5,635.6 L614.7,634.2 L615.4,632.4 L615.1,631.6 L615.9,630.1 L616.2,628.2 L616.3,626.9 L616.8,624.8 L616.9,623.1 L617.4,621.4 L616.8,620.3 L616.2,618.5 L616.5,617.3 L617.3,616.3 L618,615.1 L619.3,613.7 L620.3,612.7 L620.8,611.7 L621.7,610.1 L622.7,609.6 L623.6,607.7 L624.6,606.8 L624.9,604.9 L625.9,603.8 L626.4,602.9 L627.6,602.2 L628.2,600.9 L628.6,599.8 L630.5,598.3 L631,596.9 L631.2,595.7 L631.9,594.7 L633.3,594.1 L634.4,593 L634.6,591.9 L635.5,590.4 L635.6,589 L636.5,587.8 L637.3,586.4 L637.8,585 L643.4,564 L644.2,562.2 L644.9,560.9 L645.5,559.4 L646.4,557.4 L646.6,555.6 L647.5,554.3 L647.5,553 L647.2,550.9 L646.9,549.3 L646.5,547.5 L645.5,545 L644.8,543.2 L645.3,540.8 L646.1,538.5 L646.9,536.2 L647.3,534.3 L647.1,531.7 L647.4,529.1 L648.1,527.1 L648.6,525.1 L648.9,523 L648.5,520.9 L649.1,519 L650.4,517.3 L651.5,514.9 L653.3,512.9 L654.2,510.6 L655.6,508.9 L656,506.6 L656,504.4 L656.6,502.8 L656.9,501.3 L657.6,499.8 L658.6,497.8 L658.9,495.7 L659.6,492.7 L660.6,490.7 L661.6,488.5 L662.5,486.4 L663.2,484.6 L662,482.8 L661.6,480.6 L660.9,479.2 L660.1,476.9 L659,475.6 L658.5,473.5 L657.8,471.4 L657,469.1 L656.6,466.5 L656.6,464.1 L655.8,462.6 L656.3,460.1 L655.6,458.6 L655.6,456.4 L654.6,454.3 L654.2,451.3 L653.5,449.3 L654.1,447 L654.9,444.7 L655.6,442.2 L656,440.4 L656.8,438.3 L657.7,436.1 L658.2,434.1 L658.3,432.3 L659,430.3 L658.9,427.9 L659,426.1 L657.8,424.4 L657.6,422.3 L656.6,420 L657,421.3 L657.6,422.4 L656.6,421 L654.9,418.9 L653.5,417.4 L652.4,416.3 L651.4,414.8 L650.5,413.3 L650.6,411.6 L650.7,409.1 L650.5,407.3 L650.4,405.1 L651.1,403.3 L651.5,401.2 L652.3,399.5 L652.1,397.4 L653.2,395.4 L653.5,393.1 L653.8,390.9 L654.3,389.3 L654.4,387.4 L654.5,385.1 L655.4,383.4 L656.6,382.6 L657.6,381 L658.7,379.9 L660.6,378.1 L661.6,377 L662.7,375.4 L663.6,373.4 L664.6,371.9 L664.1,370.4 L664.2,368.5 L663.6,366.9 L662.3,365.8 L661.8,364 L660.6,362.8 L660.3,360.8 L660.2,358.2 L659.6,355.8 L658.9,354.2 L658,352.2 L657.6,350.7 L658.3,348.9 L659.6,346.7 L661,345.7 L662.6,344.6 L664.2,343.9 L665.7,342.9 L667.7,342.6 L669.6,340.5 L670.7,338.6 L671.1,337 L672.3,334.9 L672.7,333.5 L673.4,331.7 L674,329.8 L674.7,328.5 L672.8,327.4 L671.7,325.5 L670.7,324.1 L669.1,322.6 L667.7,321.4 L665.9,322 L663.6,322.8 L661.7,322.8 L659,322.4 L660.1,320.8 L660.5,318 L661.6,316.4 L662.2,314.1 L663,312 L664.2,310.3 L664.6,308.6 L664.9,306.6 L665.7,303.9 L665.7,302.2 L667.3,300.6 L668.7,299.2 L669.1,297.2 L669.8,294.5 L670.7,292.1 L671.6,290.7 L672.3,288.5 L672.9,286.6 L673.7,285.1 L675.1,283.8 L675.5,281.3 L676.8,280 L680.8,281.4 L680.8,279.6 L681.6,278.6 L681.7,276.1 L681.9,275.1 L681.8,273.3 L682.6,272.5 L682.7,270.3 L683.8,269.3 L684.6,268.2 L685,266 L685.5,265 L685.9,263.2 L686,261.5 L686.7,259.8 L687.4,258.4 L687.9,257.2 L688.1,255.3 L688.8,254.2 L689.6,252.2 L690.2,251 L690.6,249.8 L690.6,248.8 L691.2,247.3 L691.9,245.4 L692.6,244.3 L692.1,242.4 L692.8,241 L692.6,240 L693.5,238.2 L693.3,236.6 L693.4,234.9 L693.9,233.6 L693.7,232.1 L694.1,230.3 L694,228.7 L694.6,227.7 L694.9,226.3 L694.5,225.1 L695,223.3 L694.3,221.5 L694.1,219.8 L692.9,218.9 L692.4,218.4 L693.2,216.9 L693.3,215.8 L694.1,215.1 L695.5,214.5 L696.9,214.7 L698.6,214 L700,214.3 L702.1,213.6 L703.4,213.5 L705.6,212.7 L707.1,211.5 L708.3,210.9 L709.2,209.4 L710.1,208.3 L710.5,206.5 L711.4,205.2 L711.7,204.3 L712.3,202.5 L710.9,201.2 L712.7,201.2 L713.6,200.3 L714.9,199.6 L717.1,199.4 L718.6,198.5 L719.3,198.5 L720.2,199.2 L720.7,200.3 L722.5,200 L723.3,200.7 L724.7,200.5 L725.5,200.7 L725.1,202.5 L723.8,202.9 L723.3,204.3 L722.8,205.6 L721.6,206.9 L720.4,207.9 L719.8,209.1 L719.3,210 L718,211.4 L717.1,213.1 L716.3,213.8 L715.4,215.3 L714.2,217.1 L713.6,218.4 L714.7,217.6 L715.4,217.5 L716.3,216.2 L718,215.8 L719.2,214.9 L720.2,214 L720.2,212.4 L720.7,211.4 L722.4,210.9 L723.4,212 L724.2,212.7 L724.5,213.9 L724.2,214.9 L726,215.3 L726.9,214 L728.6,214 L729,214.5 L730,215.8 L731.3,216.6 L732.2,217.5 L733.3,218 L733.9,219.3 L734.7,220.7 L734.8,222.4 L735.6,224.5 L735.7,225.9 L735.7,226.9 L736.1,228.9 L735.7,230.4 L735.9,231.9 L735.3,233.9 L735.6,236 L736.6,237.4 L737.6,238.4 L738.8,240.1 L739.6,241.7 L740.6,243.2 L739.9,244.8 L740.1,246.3 L739.2,247.6 L738.4,248.9 L737.8,250.9 L737.9,252.5 L738.5,254.6 L738.4,256 L738.4,257.2 L738.5,258.9 L738.8,260.5 L738.7,262.1 L739.4,263.2 L739.9,264.7 L739.4,266.3 L739.4,267.3 L739.4,269.3 L740.5,270.7 L740.4,272.2 L741.4,274.3 L742.5,275.7 L743.7,276 L745.5,277.4 L747,277.8 L747.7,278.8 L749.5,279.4 L749.5,279.4 L750,279.4 L750,682 L40,682Z" fill="#ffcc99"/>
<path d="M416.3,21 L417.7,21.5 L419.2,21.6 L420.3,22.5 L419,23.2 L416.5,23.1 L415.3,24 L414.3,25 L413,25.6 L412.2,27 L411.4,28.2 L410.8,30.5 L409.6,31.7 L409.2,33.2 L408.7,34.4 L408,36.7 L406.8,37.7 L406.2,39.3 L405.5,41 L404,43.1 L403.1,44.3 L403.9,46 L404.1,48 L405.4,47.4 L407.1,47.6 L409,47.1 L410.2,46.3 L412.1,46.4 L413,45.9 L415.5,46.1 L416.4,45.4 L418.3,45.3 L420.1,45.6 L421.6,45.7 L423.1,46.5 L424.3,46.5 L426.4,47.3 L428.5,47.8 L430,47.8 L431.5,48.3 L433.2,47.6 L434.4,48.3 L436.2,48 L437.8,48 L439.3,48.5 L441,47.8 L442.5,48 L443.9,48.7 L445.7,49.4 L446.6,50.4 L447.9,50.4 L449.2,50.3 L451.6,50.1 L452.6,50 L453.9,49.3 L455.7,48.3 L456.8,47.6 L458.7,47.3 L460.2,46.2 L461.8,45 L463.7,44.3 L464.3,44.8 L465.8,45.3 L467.9,45.7 L469.4,46 L470.8,46.3 L472.8,46.3 L474.4,46.3 L476.2,46.3 L477.5,46 L479,46.3 L480.9,46.3 L482.6,46.1 L484,45.7 L486.6,45.3 L488,45.3 L488.3,43.8 L488.3,42.8 L488.5,41.1 L489,39.3 L489.3,37.2 L490.7,35.8 L491,34.2 L491.9,33.4 L493.6,33.1 L495,32.2 L496.1,31 L498.5,30.6 L499.2,29.3 L501,28.5 L502.4,27.7 L504.2,26.8 L506,25.5 L507.2,24.5 L508.4,26 L509.2,27.1 L510.5,28.2 L511.5,29.6 L512.2,30.6 L514.4,30.4 L516.1,30.4 L517.8,31.1 L519.3,31.2 L520.6,31 L522,29.8 L523.3,29.2 L525.3,28.7 L526.8,27.3 L528.4,26.5 L530.1,26.1 L532.2,25.6 L533.6,25.5 L535.5,25.1 L537,25.3 L539,26.2 L540.3,26.2 L541.6,26.5 L543.5,27.1 L544.6,27.6 L546.6,27.6 L548,28.5 L550.1,28.3 L551.7,28.7 L553,28.3 L554.5,29.5 L555,31.7 L555.7,32.3 L557.2,34.2 L558.5,35.5 L560.1,37 L561,38.5 L562.2,39.3 L563.5,40.3 L564.9,41.2 L565.9,42.4 L567.3,43.3 L568.5,44.1 L570.1,44 L571.3,44.3 L571.6,45.5 L572.5,47 L573.3,48.3 L575.1,49.7 L577.2,50.4 L578.4,51.4 L579.8,52 L581.4,52.4 L581.4,53.2 L580.4,54.4 L581.8,56 L582.7,56.9 L584.4,58.4 L586.2,59.8 L587.1,60.1 L588.5,61.5 L589.6,63.4 L590.2,65.3 L590.5,66.5 L591.9,67.8 L592.2,69 L593.5,70.6 L594.5,71.9 L595.2,72.8 L596.7,74.5 L597.6,75.6 L598.8,77.1 L600.4,77.1 L601.6,78.6 L603.2,79.9 L604.8,80.9 L606.7,81.7 L607.2,82.8 L609,84.5 L609.7,85.7 L610.9,86.8 L611.7,88.5 L612.7,89.8 L614.2,90.8 L616.1,92 L617.8,92.4 L619.4,92.7 L620.8,93.2 L621.4,94.4 L623.1,95.9 L623.8,97.8 L624.7,98.5 L626.4,100.2 L627.7,101.2 L628.9,101.9 L630.1,101.4 L632.5,101.7 L633.9,101.9 L635.5,100.7 L636.3,99.6 L638,98.8 L638.9,98.4 L640.7,97 L642,96.4 L643.7,96.3 L645.1,96.8 L647.4,96.9 L649.1,96.4 L650.4,97.3 L651.5,97.5 L653.1,98.8 L655.1,100 L656.2,100.5 L657.7,101 L659.8,100.6 L661.2,100.9 L662.9,101 L664.4,100.6 L665.7,99.7 L667.6,99.5 L669.4,99.1 L670.6,99.6 L672.3,99.3 L673.9,98.9 L675.5,98.9 L677.6,99.2 L680.1,99.7 L681.5,100.2 L682.8,99.4 L684.1,99.2 L685.3,98.9 L687.1,98.8 L689,99.5 L689.9,99 L691.4,97.6 L692.8,97 L694.2,96.4 L695.9,95.7 L697.9,95.8 L698.7,94 L699.1,92.6 L699.1,94.4 L699.8,95.8 L700.3,97.1 L701.7,98.9 L703.3,99 L704.2,100.1 L705.5,100.2 L707.5,100.1 L708.7,100.8 L710.5,100.8 L712.1,102.1 L713.6,102.9 L715.6,103.3 L716.9,104 L718.1,104.8 L719.6,105.9 L720.6,107.1 L722.5,107.8 L723.4,108.1 L725,109 L726.5,107.9 L728.2,107.1 L729.3,106.7 L730.7,105.9 L732,105.3 L733.6,104.3 L735.3,103 L736.7,101.9 L738.3,101.4 L739.5,100.8 L741.2,99.6 L742.5,98.5 L744.2,97.4 L745.9,96.4 L746.9,95.3 L748.1,94.9 L749.5,94.5 L750,94.5 L750,21 L416.3,21Z" fill="#ffcc99"/>
<path d="M325.5,408.6 L326.9,406.9 L327.2,406.4 L328.7,406.1 L330,405.2 L329.9,404.4 L328.9,403 L328.8,401.7 L328.3,400.1 L329,398.7 L330,397.8 L331.5,397.7 L332.3,396.7 L333.4,398.1 L333.4,399 L332.9,400.7 L332.8,401.8 L333.9,403 L334.5,404.1 L335.8,403.6 L336.8,403.5 L338,402.5 L339.1,401.8 L339.7,400.5 L341.4,399.5 L341.7,399 L342.5,397.3 L342.8,398 L343.1,399 L343,400.1 L343.6,401.8 L344,402.8 L344.8,404.7 L345.3,405.7 L347,405.8 L348.1,406.6 L349.3,407.5 L350.5,406.7 L351.6,406.4 L351.8,404.7 L352.7,404.1 L353.1,402.7 L353.9,401.8 L355.3,401.9 L356.1,401.8 L357.8,402.5 L358.4,403.5 L358.4,405.1 L357.3,406.4 L355.6,406.9 L355,408.1 L353.9,409.2 L352.7,409.2 L351.4,410.1 L350.5,410.3 L349.6,411.6 L348.8,412 L348.1,413.1 L348.9,414.1 L348.2,415.5 L347.7,416.1 L347.4,417.5 L347.6,418.9 L348.7,419.4 L349.3,420.6 L348,421.1 L347,422.3 L346.3,423.8 L345.3,424.5 L344.7,425 L343.8,426.3 L344.6,428.4 L344.8,429.3 L346.2,429 L347.7,430.3 L348.4,429.6 L349.9,430.3 L350.8,429.8 L352.9,429.5 L354.2,428.5 L354.9,428.3 L356.1,428.3 L357.8,427.5 L359,427.3 L359.7,428.6 L359.5,430.2 L360,432 L361,433.3 L360.3,434.8 L360.1,436.1 L359.5,437.3 L359,439.4 L358.1,438.8 L356.9,437.5 L354.9,437.4 L353.5,437.7 L351.7,436.9 L350,437 L348.9,437.4 L347.7,436.7 L346.2,436.8 L344.4,436.8 L342.8,436.4 L341.4,436.1 L339.9,435.1 L338.6,434.5 L336.8,434.3 L335.5,434.1 L334.1,433.1 L332.6,433.4 L330.7,432.3 L329.3,431 L328.1,430.8 L326.7,429.3 L326,427.2 L326.2,426.4 L326.3,424.6 L325.7,423.2 L326.3,421.4 L326,419.7 L325.1,418.3 L325.7,417.2 L325.1,415.8 L325.7,414 L326.1,412.7 L325.1,411.1 L325.8,410.5Z" fill="#ffcc99"/>
<path d="M305.6,401.8 L305.7,399.8 L306.7,399 L308.2,397.8 L309,397.3 L310.4,396.4 L310.7,395.6 L312.3,395.4 L313.5,395.6 L315,396.7 L315.8,397.8 L316.4,399.4 L317.5,400.1 L316.5,401.8 L316.4,403 L315,404.3 L314.7,405.2 L314,406.8 L313.5,407.5 L311.8,407.3 L311.2,406.9 L310.2,406.6 L309.5,405.2 L309.2,406 L307.8,406.4 L306.6,406.4 L306.1,406.9 L305.3,405.7 L305,404.7 L305,402.9Z" fill="#ffcc99"/>
<path d="M319.2,368.9 L320.4,368.2 L320.9,367.2 L321.8,368 L323.2,367.7 L323.2,369.2 L323.8,370.6 L322.5,372.1 L322,372.8 L321.3,372.5 L319.8,372.8 L319.9,371.9 L319.1,370Z" fill="#ffcc99"/>
<path d="M306.1,380.2 L306.9,380.1 L307.8,379.1 L308.2,380.5 L309.5,381.4 L308.8,382.2 L307.8,383.1 L307,382.1Z" fill="#ffcc99"/>
<path d="M280.3,473.9 L280.9,472.7 L282.1,473 L282.1,474.3 L282.8,474.6 L283.1,476.1 L281.8,477.1 L280.6,476.8 L280.3,475.7Z" fill="#ffcc99"/>
<path d="M331,525.6 L331.6,524.1 L331.8,523.9 L331.6,522.2 L332.2,520.2 L333.3,519.3 L334.2,519 L336.1,517.6 L336.4,518.9 L337.8,519.3 L337.5,520.7 L337.6,521.2 L338.2,522.7 L338,523.7 L337.3,525.6 L335.7,526.7 L334.4,526.7 L333.6,527.2 L332.2,526.7Z" fill="#ffcc99"/>
<path d="M338.4,531.2 L340.1,529.8 L340.7,529.5 L341.8,529.6 L343.5,529 L344.6,529.3 L345.2,530.7 L345,531.5 L344.7,533 L343.5,533.4 L342.4,534.7 L340.5,535 L339.8,534.1 L338.9,533.1Z" fill="#ffcc99"/>
<path d="M346.4,528.4 L347,527.5 L348.6,526.7 L349.3,527.5 L350.9,528.4 L350.3,529.8 L350.1,531 L350.3,531.8 L349.2,532.2 L348.1,533.5 L347.1,532.6 L346.4,531.8 L346.9,529.9Z" fill="#ffcc99"/>
<path d="M349.2,522.2 L349.8,522 L351.5,520.9 L352,519.9 L353.2,518.7 L354.9,518.2 L355.2,519.1 L356,521 L355.3,522.1 L355.6,523.3 L355.5,524.4 L354.2,524.7 L353.2,526.1 L352,526 L350.3,525.6 L350,524.5 L349.8,523.9Z" fill="#ffcc99"/>
<path d="M360,527.3 L361.2,526.4 L361.4,524.8 L362.3,523.9 L363.6,523.9 L365.1,522.7 L366.4,523.2 L368,523.9 L368.3,524.8 L369.3,525.9 L369.1,527.8 L369.1,529.6 L368.5,530.5 L368.5,531.4 L368.5,533 L368.5,533.7 L369.7,535.6 L369.7,536.4 L369.3,537.3 L368,539.2 L367.1,538.7 L365.7,538.6 L365.1,537.7 L363.9,537.3 L363.4,535.8 L362,534.7 L361.7,533 L361.3,531.6 L360,530.1 L360.1,529.3Z" fill="#ffcc99"/>
<path d="M500.8,597.7 L500.7,596.7 L501.5,595.3 L501.4,594.3 L501.4,592.8 L500.8,591.5 L501.6,590.7 L502.5,589.4 L503.1,588.6 L504.2,587.7 L504.6,586.9 L505.9,585.8 L506.4,585.2 L507.4,583.8 L508.2,582.4 L509.2,581.6 L509.7,580.4 L511,580.1 L512.6,579.9 L513.3,579.7 L514.4,579.5 L516.1,579 L516.7,579.6 L518.4,579 L519.7,578.8 L521.5,578.7 L522.4,577.8 L523.8,576.5 L524.1,576.7 L525.2,575.6 L527,575.1 L528.1,575.6 L528.8,575.7 L529.9,576.2 L531.5,576.7 L533,577.5 L533.7,577.7 L534.9,579 L536.2,579.8 L537.7,579.5 L538.5,580.6 L538.9,581.8 L538.3,583.6 L537.7,584.7 L536.6,584.3 L534.9,584.7 L533.7,585.1 L532,585.8 L530.6,584.9 L529.2,584.7 L528.2,583.7 L527.5,583 L526.5,583.8 L525.8,585.8 L524.6,587.3 L524.1,588.6 L523,589.3 L523.2,590.6 L522.4,592 L521.6,592.9 L521.7,593.8 L520.7,595.5 L519.7,595.1 L518.4,593.8 L516.9,592.8 L516.1,592 L517.3,593.6 L517.8,594.9 L516.5,595.2 L515.6,596.6 L514.1,596.7 L512.7,597.2 L511.9,597.2 L510.5,597.7 L509.2,597 L508.2,596 L507.1,595.3 L505.3,594.9 L504.3,596.1 L503.6,597.2 L502.7,597.1Z" fill="#ffcc99"/>
<path d="M517.7,623.4 L518.3,622.7 L517.7,621.5 L518.7,620.5 L520,619.2 L520.5,617.6 L521.5,617 L522.8,615.9 L523.4,615.1 L524.4,615.8 L525.3,616.6 L526.5,617.9 L526.8,618.5 L526.8,619.8 L528,620.8 L527.6,622.3 L526.4,622.5 L525.3,622.7 L524.2,622.6 L522.3,622.7 L520.7,623.5 L519.2,623.4Z" fill="#ffcc99"/>
<path d="M691.1,159.1 L691.9,158.4 L692.8,157.8 L694.2,158.2 L695.5,157.8 L696.6,158.7 L697.2,159.1 L697.1,160.1 L697.2,162.2 L696.8,163.2 L695.9,164 L694.9,164.1 L693.3,163.6 L691.9,162.6 L691.5,162.2 L690.8,161Z" fill="#ffcc99"/>
<path d="M697.2,164 L697.6,162.6 L699,162.2 L700.9,161.9 L702.1,161.4 L702.7,161.8 L704.7,161.6 L705.6,161.8 L706,163.1 L707.4,164 L706.9,165.5 L706.5,166.7 L706,167.9 L704.3,168.4 L703.8,168.9 L702.5,170.2 L701.5,169.6 L700.8,168.9 L699.1,168.8 L698.6,167.5 L697.9,166 L697.4,164.9Z" fill="#ffcc99"/>
<path d="M694.1,148.1 L695.4,148.6 L695.9,149 L697.3,149.1 L698.6,149.4 L697.7,150.7 L696.4,151.6 L695.5,150.3 L694.3,149Z" fill="#ffcc99"/>
<path d="M738.4,154.3 L740,154.7 L741.2,154 L741.9,154.3 L741.1,154.9 L741,156.5 L740.1,157.4 L739.2,156.1 L738.8,155Z" fill="#ffcc99"/>
<path d="M692.4,198.1 L692.8,196.7 L693.3,195.4 L694.5,194.3 L695.5,193.6 L697,192.8 L697.7,192.7 L698.9,193.5 L699,194.1 L698.9,195.2 L699.9,196.7 L700.8,197.3 L701.7,198.1 L702.6,198.5 L703.4,199.4 L703.6,200.6 L704.3,201.1 L702.9,201.6 L702.1,201.6 L701.4,201.5 L699.9,201.1 L698.9,202.3 L698.1,202.5 L697.2,203.6 L696.4,203.8 L695,203.1 L694.6,202.5 L693.9,201.1 L692.8,200.7 L693,198.9Z" fill="#ffcc99"/>
<path d="M700.3,191.9 L701.7,191.5 L703.5,192 L704.6,191.9 L705.6,191.9 L705.9,193.7 L705.8,195 L703.9,194.7 L702.9,194.7 L700.8,195.2 L701.1,193.2Z" fill="#ffcc99"/>
<path d="M693.5,104 L694,102.5 L695.4,102 L697,102.3 L697.8,101.8 L699.1,101.4 L700.1,102.3 L701.9,101.9 L702.9,102.7 L702.7,104.2 L703.6,105.2 L701.8,106.3 L701,106.5 L699.3,106.2 L698.2,106.3 L696.6,106.5 L695.4,105.8 L694.1,105.9 L694.3,104.7Z" fill="#ffcc99"/>
<path d="M62.2,290.7 L63.7,290 L64.4,290.2 L66.1,290.9 L67,290.5 L67.1,291 L67.5,292.7 L66.6,293.7 L65.9,294.4 L64.7,293.6 L64.1,292.7 L62.7,291.7Z" fill="#ffcc99"/>
<path d="M77.5,217.7 L78.6,218.5 L79.2,219.4 L79.2,220.3 L79.2,221.6 L78.6,223.4 L79.5,225.5 L79.9,226.4 L79.8,227.9 L79.7,229.1 L80.4,230.7 L80.7,231.7 L80.3,233.6 L80.1,235.5 L80.1,236.6 L79.8,238.1 L78.7,239.1 L78.6,241 L77.5,241.2 L76.9,240.4 L76.9,238.9 L76.7,237.6 L75.8,237 L75.6,236.4 L74.9,235.3 L74.7,233.6 L74.5,231.9 L73.7,231.3 L73.5,230.2 L73,229.2 L72.8,227.9 L73,226.2 L72.2,224.3 L71.8,223.4 L71.3,222.1 L70.7,221.7 L71.9,222.6 L73,222.8 L74.2,222.5 L75.2,222.2 L75.2,220.8 L76.4,219.4 L76.5,218.7Z" fill="#ffcc99"/>
<path d="M47.4,256.9 L48.1,256.7 L49.7,256.3 L50.4,256.7 L51.4,257.5 L51,258.2 L50.2,259.7 L48.7,260.2 L48,259.7 L47.5,258.7Z" fill="#ffcc99"/>
<path d="M60.5,255.8 L61.8,254.6 L62.2,253.5 L62,253.9 L62.7,255.2 L62.6,255.9 L61.6,257.5 L61,258.6 L60.3,257.2Z" fill="#ffcc99"/>
<path d="M96.8,229 L97.8,228.9 L99.7,228.8 L99.7,230.4 L98.3,230.2 L96.8,230.4Z" fill="#ffcc99"/>
<path d="M129.7,254.4 L129.9,253.2 L130.8,252.2 L131.8,251.2 L133.6,251 L134.4,251.2 L135.9,250.5 L136.4,252.1 L136.8,252.7 L135.2,253.7 L134.8,253.6 L133.6,253.8 L132.5,253.3 L132,254.4 L131.4,255 L130.2,255Z" fill="#ffcc99"/>
<path d="M128.5,260.7 L128.9,259.7 L130.2,259.3 L131.1,258.7 L133.1,258.4 L134.5,258.5 L135.9,259 L136.5,260.5 L135.8,260.4 L134.2,261.2 L133.1,261.8 L131.9,263 L130.9,263.9 L129.7,264.1 L128.5,263 L128.8,261.3Z" fill="#ffcc99"/>
<path d="M236.4,281.1 L237.2,280.4 L238.6,279.4 L240.6,278.8 L241.5,279.4 L241.3,280.5 L240.9,281.1 L240.1,281.6 L238.6,282.5 L237.9,281.8Z" fill="#ffcc99"/>
<path d="M329.1,248 L329.4,247.4 L330.5,246.1 L330.6,245.9 L331.9,245.1 L333.3,244.5 L334,243.7 L334.3,242.6 L333.5,241.7 L334.8,241.1 L334.6,240.3 L335.3,239 L336.2,238.6 L336.3,238 L337,236.6 L337.9,235.2 L338.7,234.4 L338.9,233.1 L339.3,232.6 L339.7,232.7 L340.3,232.5 L341.6,231.8 L342.2,230.9 L341.7,231 L342.4,231.4 L342.7,232.6 L341.4,233.3 L340.9,234.7 L340.5,236 L339.2,236.8 L339.6,237.8 L339.3,238.3 L339.3,239.6 L338.2,240.6 L338,241.2 L337.1,241.7 L336.9,242.8 L336.2,242.7 L335.8,244.2 L335.9,244.5 L335.6,245.8 L335.3,246 L333.9,245.5 L333.9,246.4 L333.9,247.3 L332.5,248 L331.9,248.5 L330.6,248.1 L330.2,249.1 L329,249Z" fill="#ffcc99"/>
<path d="M342.7,230.9 L342.6,230.4 L343.6,229.4 L343.9,228 L343.9,227.5 L344.6,226.2 L345,225.8 L344.6,225.1 L345,224.1 L345.3,223.5 L344.8,222.3 L346,221.7 L346.1,221 L345.6,219.5 L347.1,220 L347.8,219.5 L347.9,220.8 L346.9,221.9 L346.9,222.5 L347.5,223.5 L346.9,224.9 L347.3,225.6 L346.5,226.1 L346.1,227.5 L346,228.1 L346.2,229.6 L345.3,230.7 L344.4,231.5 L343.2,231.3Z" fill="#ffcc99"/>
<path d="M309.2,262.2 L310.3,261.5 L310.9,261.7 L311.1,260.3 L312,259.9 L312.5,259 L313.7,259.1 L314.2,258.2 L315.5,258 L316.3,256.9 L317.7,257.4 L318.1,257.3 L318.9,256.5 L319.4,255.5 L320.8,255.3 L321.7,254.8 L322.9,254.8 L323.3,254 L323.2,254.3 L324,253.6 L324.5,253.1 L324.9,252.4 L326.2,252.1 L327.2,251.8 L327.4,250.8 L328.3,251.1 L329.1,250.5 L329.1,251.1 L328.3,252.1 L328.5,253.1 L327.5,253.9 L326.2,254.8 L325.5,256.1 L325,256 L323.3,255.9 L322.8,257 L321.6,257.1 L320.2,257.8 L320,258.8 L319.7,258.8 L318.4,259.7 L317.7,259.3 L316.6,260.5 L315.2,261.2 L314.1,261.4 L313.2,262.7 L312.9,262.8 L311.5,262.3 L311.5,263.5 L312.1,263.9 L310.9,263.5 L310.3,263.9 L309.1,263.4Z" fill="#ffcc99"/>
<path d="M309.2,288.3 L310.3,287.2 L311.5,286.8 L312.6,287.5 L313.8,287.3 L313.7,288.6 L313.2,289.4 L311.6,290 L310.3,290 L310.1,289.4Z" fill="#ffcc99"/>
<path d="M348.4,288.9 L349.8,289 L350.1,288.3 L350.5,289.2 L351.2,291.1 L351.2,293.1 L350.9,294.3 L349.8,294.3 L349,294 L349.3,293.1 L348.1,291.4 L348,289.7Z" fill="#ffcc99"/>
<path d="M50.8,233.6 L52.5,232.5 L54.2,236.4 L55.3,240.4 L54.8,244.4 L53.1,246.1 L51.4,245 L50.8,241.5 L49.7,239.3 L48.5,236.4 L49.1,234.2Z" fill="#fff"/>
<path d="M680.4,280.4 L683.2,282.8 L688.9,283 L687.3,288.5 L683.2,287.7 L681.6,291.7 L680,295.8 L679.2,292.1 L680.4,286.1Z" fill="#fff"/>
<rect x="632" y="202" width="3" height="1" fill="#aaa"/>
<rect x="633" y="203" width="1" height="1" fill="#aaa"/>
<path d="M482,26h1v1h-1zM482,27h1v1h-1zM482,28h1v1h-1zM483,30h1v1h-1zM483,31h1v1h-1zM707,31h1v1h-1zM708,32h2v1h-2zM709,33h1v1h-1zM710,34h1v1h-1zM710,35h1v1h-1zM485,36h1v1h-1zM710,36h1v1h-1zM486,37h1v1h-1zM710,37h1v1h-1zM711,38h1v1h-1zM711,39h1v1h-1zM725,39h4v1h-4zM711,40h1v1h-1zM723,40h2v1h-2zM729,40h5v1h-5zM712,41h1v1h-1zM721,41h2v1h-2zM734,41h2v1h-2zM712,42h1v1h-1zM719,42h2v1h-2zM736,42h3v1h-3zM713,43h2v1h-2zM718,43h1v1h-1zM739,43h2v1h-2zM715,44h3v1h-3zM741,44h2v1h-2zM742,45h3v1h-3zM744,46h3v1h-3zM746,47h4v1h-4zM748,48h2v1h-2zM284,282h5v1h-5zM279,283h5v1h-5zM289,283h3v1h-3zM276,284h3v1h-3zM274,285h2v1h-2zM273,286h1v1h-1zM272,287h1v1h-1zM670,323h1v1h-1zM671,324h2v1h-2zM673,325h1v1h-1zM674,326h1v1h-1zM675,327h1v1h-1zM675,328h1v1h-1zM674,329h1v1h-1zM674,330h1v1h-1zM675,331h2v1h-2zM677,332h1v1h-1zM677,333h1v1h-1zM678,334h1v1h-1zM678,335h1v1h-1zM678,336h1v1h-1zM678,337h1v1h-1zM678,338h1v1h-1zM678,339h1v1h-1z" fill="#fff"/>
<path d="M416,21h4v1h-4zM488,21h3v1h-3zM558,21h2v1h-2zM420,22h1v1h-1zM489,22h2v1h-2zM560,22h1v1h-1zM416,23h4v1h-4zM488,23h3v1h-3zM560,23h1v1h-1zM415,24h1v1h-1zM484,24h6v1h-6zM507,24h1v1h-1zM557,24h3v1h-3zM413,25h2v1h-2zM482,25h8v1h-8zM505,25h2v1h-2zM508,25h1v1h-1zM531,25h7v1h-7zM555,25h2v1h-2zM412,26h1v1h-1zM483,26h2v1h-2zM503,26h2v1h-2zM508,26h1v1h-1zM527,26h4v1h-4zM538,26h4v1h-4zM554,26h1v1h-1zM412,27h1v1h-1zM481,27h1v1h-1zM483,27h1v1h-1zM502,27h1v1h-1zM509,27h1v1h-1zM526,27h1v1h-1zM542,27h5v1h-5zM554,27h1v1h-1zM411,28h1v1h-1zM481,28h1v1h-1zM500,28h2v1h-2zM510,28h1v1h-1zM524,28h2v1h-2zM547,28h7v1h-7zM410,29h1v1h-1zM480,29h3v1h-3zM499,29h1v1h-1zM511,29h1v1h-1zM522,29h2v1h-2zM554,29h1v1h-1zM410,30h1v1h-1zM473,30h10v1h-10zM497,30h2v1h-2zM512,30h5v1h-5zM521,30h1v1h-1zM555,30h1v1h-1zM700,30h9v1h-9zM409,31h1v1h-1zM472,31h9v1h-9zM496,31h1v1h-1zM517,31h4v1h-4zM555,31h1v1h-1zM697,31h10v1h-10zM708,31h3v1h-3zM409,32h1v1h-1zM472,32h2v1h-2zM483,32h1v1h-1zM494,32h2v1h-2zM555,32h1v1h-1zM696,32h12v1h-12zM710,32h1v1h-1zM409,33h1v1h-1zM472,33h2v1h-2zM483,33h1v1h-1zM491,33h3v1h-3zM556,33h1v1h-1zM696,33h6v1h-6zM707,33h2v1h-2zM710,33h2v1h-2zM408,34h1v1h-1zM471,34h3v1h-3zM484,34h1v1h-1zM491,34h1v1h-1zM557,34h1v1h-1zM696,34h3v1h-3zM708,34h2v1h-2zM711,34h1v1h-1zM408,35h1v1h-1zM471,35h2v1h-2zM484,35h1v1h-1zM490,35h1v1h-1zM558,35h1v1h-1zM709,35h1v1h-1zM711,35h1v1h-1zM408,36h1v1h-1zM469,36h4v1h-4zM490,36h1v1h-1zM559,36h1v1h-1zM709,36h1v1h-1zM711,36h1v1h-1zM406,37h2v1h-2zM468,37h4v1h-4zM489,37h1v1h-1zM560,37h1v1h-1zM709,37h1v1h-1zM711,37h2v1h-2zM406,38h1v1h-1zM467,38h3v1h-3zM487,38h1v1h-1zM489,38h1v1h-1zM561,38h1v1h-1zM709,38h2v1h-2zM712,38h1v1h-1zM724,38h6v1h-6zM406,39h1v1h-1zM467,39h2v1h-2zM489,39h1v1h-1zM562,39h1v1h-1zM710,39h1v1h-1zM712,39h1v1h-1zM722,39h3v1h-3zM729,39h6v1h-6zM405,40h1v1h-1zM466,40h3v1h-3zM489,40h1v1h-1zM563,40h1v1h-1zM710,40h1v1h-1zM712,40h2v1h-2zM720,40h3v1h-3zM725,40h4v1h-4zM734,40h3v1h-3zM405,41h1v1h-1zM465,41h3v1h-3zM488,41h1v1h-1zM564,41h1v1h-1zM710,41h2v1h-2zM713,41h1v1h-1zM718,41h3v1h-3zM723,41h3v1h-3zM728,41h6v1h-6zM736,41h4v1h-4zM404,42h1v1h-1zM464,42h3v1h-3zM488,42h1v1h-1zM565,42h1v1h-1zM711,42h1v1h-1zM713,42h3v1h-3zM717,42h2v1h-2zM721,42h3v1h-3zM733,42h3v1h-3zM739,42h3v1h-3zM404,43h1v1h-1zM461,43h6v1h-6zM488,43h1v1h-1zM566,43h2v1h-2zM711,43h2v1h-2zM715,43h3v1h-3zM719,43h3v1h-3zM735,43h4v1h-4zM741,43h3v1h-3zM403,44h1v1h-1zM449,44h2v1h-2zM458,44h7v1h-7zM488,44h1v1h-1zM568,44h4v1h-4zM712,44h3v1h-3zM718,44h2v1h-2zM738,44h3v1h-3zM743,44h3v1h-3zM403,45h1v1h-1zM413,45h1v1h-1zM416,45h6v1h-6zM449,45h4v1h-4zM456,45h6v1h-6zM465,45h3v1h-3zM483,45h6v1h-6zM571,45h1v1h-1zM714,45h5v1h-5zM740,45h2v1h-2zM745,45h3v1h-3zM403,46h1v1h-1zM410,46h3v1h-3zM414,46h2v1h-2zM422,46h3v1h-3zM450,46h11v1h-11zM468,46h15v1h-15zM572,46h1v1h-1zM741,46h3v1h-3zM747,46h3v1h-3zM404,47h6v1h-6zM425,47h6v1h-6zM432,47h2v1h-2zM440,47h2v1h-2zM452,47h7v1h-7zM572,47h1v1h-1zM743,47h3v1h-3zM404,48h1v1h-1zM431,48h1v1h-1zM434,48h6v1h-6zM442,48h2v1h-2zM454,48h2v1h-2zM573,48h1v1h-1zM745,48h3v1h-3zM444,49h2v1h-2zM453,49h1v1h-1zM574,49h2v1h-2zM747,49h3v1h-3zM446,50h7v1h-7zM576,50h2v1h-2zM578,51h1v1h-1zM579,52h3v1h-3zM581,53h1v1h-1zM580,54h1v1h-1zM581,55h1v1h-1zM581,56h2v1h-2zM583,57h1v1h-1zM584,58h1v1h-1zM585,59h2v1h-2zM587,60h1v1h-1zM588,61h1v1h-1zM589,62h1v1h-1zM589,63h1v1h-1zM590,64h1v1h-1zM590,65h1v1h-1zM590,66h1v1h-1zM591,67h1v1h-1zM592,68h1v1h-1zM592,69h1v1h-1zM593,70h1v1h-1zM594,71h1v1h-1zM595,72h1v1h-1zM596,73h1v1h-1zM596,74h1v1h-1zM597,75h1v1h-1zM598,76h1v1h-1zM598,77h3v1h-3zM601,78h1v1h-1zM602,79h2v1h-2zM604,80h1v1h-1zM605,81h2v1h-2zM607,82h1v1h-1zM608,83h1v1h-1zM609,84h1v1h-1zM609,85h1v1h-1zM610,86h1v1h-1zM611,87h1v1h-1zM611,88h1v1h-1zM612,89h1v1h-1zM613,90h2v1h-2zM615,91h1v1h-1zM616,92h4v1h-4zM699,92h1v1h-1zM620,93h1v1h-1zM699,93h1v1h-1zM621,94h1v1h-1zM698,94h2v1h-2zM747,94h3v1h-3zM622,95h2v1h-2zM695,95h3v1h-3zM699,95h1v1h-1zM746,95h1v1h-1zM623,96h1v1h-1zM641,96h9v1h-9zM693,96h2v1h-2zM700,96h1v1h-1zM745,96h1v1h-1zM623,97h1v1h-1zM639,97h2v1h-2zM650,97h2v1h-2zM691,97h2v1h-2zM700,97h1v1h-1zM743,97h2v1h-2zM624,98h1v1h-1zM637,98h2v1h-2zM652,98h2v1h-2zM673,98h3v1h-3zM685,98h3v1h-3zM690,98h1v1h-1zM701,98h1v1h-1zM742,98h1v1h-1zM625,99h1v1h-1zM636,99h1v1h-1zM654,99h1v1h-1zM665,99h8v1h-8zM676,99h5v1h-5zM682,99h3v1h-3zM688,99h2v1h-2zM702,99h2v1h-2zM740,99h2v1h-2zM626,100h1v1h-1zM634,100h2v1h-2zM655,100h2v1h-2zM658,100h4v1h-4zM663,100h2v1h-2zM681,100h1v1h-1zM704,100h7v1h-7zM739,100h1v1h-1zM627,101h7v1h-7zM657,101h1v1h-1zM662,101h1v1h-1zM697,101h3v1h-3zM701,101h1v1h-1zM711,101h1v1h-1zM736,101h3v1h-3zM694,102h4v1h-4zM700,102h1v1h-1zM702,102h1v1h-1zM712,102h2v1h-2zM736,102h1v1h-1zM694,103h1v1h-1zM702,103h1v1h-1zM714,103h2v1h-2zM734,103h2v1h-2zM693,104h2v1h-2zM702,104h1v1h-1zM716,104h3v1h-3zM733,104h1v1h-1zM694,105h2v1h-2zM703,105h1v1h-1zM719,105h1v1h-1zM730,105h3v1h-3zM696,106h7v1h-7zM720,106h1v1h-1zM729,106h1v1h-1zM720,107h3v1h-3zM726,107h3v1h-3zM723,108h1v1h-1zM726,108h1v1h-1zM724,109h2v1h-2zM656,121h1v1h-1zM656,127h1v1h-1zM647,141h2v1h-2zM731,142h1v1h-1zM743,143h1v1h-1zM734,146h2v1h-2zM734,147h3v1h-3zM694,148h2v1h-2zM735,148h2v1h-2zM283,149h1v1h-1zM694,149h5v1h-5zM695,150h1v1h-1zM697,150h1v1h-1zM314,151h1v1h-1zM696,151h1v1h-1zM329,154h1v1h-1zM738,154h4v1h-4zM738,155h1v1h-1zM741,155h1v1h-1zM694,156h2v1h-2zM739,156h1v1h-1zM741,156h1v1h-1zM692,157h1v1h-1zM694,157h4v1h-4zM740,157h1v1h-1zM361,158h1v1h-1zM690,158h2v1h-2zM693,158h5v1h-5zM701,158h2v1h-2zM705,158h1v1h-1zM690,159h2v1h-2zM697,159h1v1h-1zM706,159h2v1h-2zM737,159h1v1h-1zM690,160h2v1h-2zM697,160h1v1h-1zM708,160h1v1h-1zM737,160h1v1h-1zM690,161h3v1h-3zM697,161h1v1h-1zM700,161h6v1h-6zM708,161h1v1h-1zM393,162h1v1h-1zM691,162h2v1h-2zM697,162h3v1h-3zM706,162h1v1h-1zM737,162h1v1h-1zM691,163h3v1h-3zM696,163h2v1h-2zM706,163h1v1h-1zM717,163h2v1h-2zM738,163h1v1h-1zM409,164h1v1h-1zM694,164h2v1h-2zM697,164h1v1h-1zM707,164h1v1h-1zM717,164h2v1h-2zM694,165h4v1h-4zM706,165h1v1h-1zM717,165h2v1h-2zM426,166h1v1h-1zM694,166h1v1h-1zM696,166h2v1h-2zM706,166h1v1h-1zM717,166h2v1h-2zM737,166h2v1h-2zM443,167h1v1h-1zM694,167h3v1h-3zM698,167h1v1h-1zM706,167h1v1h-1zM717,167h2v1h-2zM737,167h3v1h-3zM688,168h3v1h-3zM699,168h2v1h-2zM703,168h3v1h-3zM738,168h2v1h-2zM691,169h1v1h-1zM701,169h2v1h-2zM715,169h2v1h-2zM691,170h1v1h-1zM702,170h1v1h-1zM715,170h3v1h-3zM691,171h1v1h-1zM716,171h2v1h-2zM691,172h1v1h-1zM691,173h1v1h-1zM689,174h3v1h-3zM688,175h2v1h-2zM688,176h3v1h-3zM692,176h2v1h-2zM689,177h2v1h-2zM692,177h3v1h-3zM689,178h2v1h-2zM693,178h3v1h-3zM694,179h2v1h-2zM713,185h1v1h-1zM696,186h5v1h-5zM703,186h3v1h-3zM714,186h1v1h-1zM694,187h7v1h-7zM706,187h1v1h-1zM694,188h8v1h-8zM706,188h1v1h-1zM694,189h8v1h-8zM707,189h1v1h-1zM694,190h8v1h-8zM694,191h8v1h-8zM704,191h2v1h-2zM694,192h7v1h-7zM702,192h2v1h-2zM705,192h1v1h-1zM724,192h3v1h-3zM694,193h5v1h-5zM701,193h1v1h-1zM705,193h1v1h-1zM727,193h1v1h-1zM694,194h1v1h-1zM699,194h1v1h-1zM701,194h5v1h-5zM727,194h1v1h-1zM693,195h1v1h-1zM698,195h1v1h-1zM700,195h2v1h-2zM705,195h1v1h-1zM726,195h1v1h-1zM728,195h1v1h-1zM692,196h1v1h-1zM699,196h1v1h-1zM727,196h1v1h-1zM692,197h1v1h-1zM700,197h1v1h-1zM727,197h2v1h-2zM691,198h3v1h-3zM701,198h2v1h-2zM718,198h2v1h-2zM693,199h1v1h-1zM703,199h1v1h-1zM706,199h1v1h-1zM714,199h4v1h-4zM720,199h1v1h-1zM692,200h1v1h-1zM703,200h1v1h-1zM707,200h1v1h-1zM713,200h1v1h-1zM720,200h6v1h-6zM731,200h1v1h-1zM693,201h1v1h-1zM699,201h6v1h-6zM710,201h3v1h-3zM725,201h1v1h-1zM731,201h1v1h-1zM694,202h1v1h-1zM698,202h1v1h-1zM712,202h1v1h-1zM723,202h3v1h-3zM695,203h3v1h-3zM712,203h1v1h-1zM723,203h1v1h-1zM711,204h1v1h-1zM723,204h1v1h-1zM711,205h1v1h-1zM722,205h1v1h-1zM710,206h1v1h-1zM721,206h1v1h-1zM710,207h1v1h-1zM720,207h1v1h-1zM710,208h1v1h-1zM719,208h1v1h-1zM709,209h1v1h-1zM719,209h1v1h-1zM708,210h1v1h-1zM719,210h1v1h-1zM721,210h2v1h-2zM686,211h2v1h-2zM706,211h2v1h-2zM718,211h1v1h-1zM720,211h1v1h-1zM723,211h1v1h-1zM687,212h1v1h-1zM704,212h2v1h-2zM715,212h3v1h-3zM720,212h1v1h-1zM723,212h2v1h-2zM687,213h1v1h-1zM701,213h3v1h-3zM715,213h4v1h-4zM720,213h1v1h-1zM724,213h1v1h-1zM695,214h6v1h-6zM715,214h6v1h-6zM724,214h1v1h-1zM726,214h4v1h-4zM693,215h2v1h-2zM715,215h5v1h-5zM723,215h4v1h-4zM728,215h3v1h-3zM693,216h1v1h-1zM714,216h1v1h-1zM716,216h4v1h-4zM723,216h4v1h-4zM728,216h5v1h-5zM77,217h1v1h-1zM93,217h1v1h-1zM691,217h3v1h-3zM714,217h2v1h-2zM724,217h4v1h-4zM730,217h3v1h-3zM76,218h1v1h-1zM78,218h1v1h-1zM93,218h1v1h-1zM691,218h3v1h-3zM713,218h1v1h-1zM726,218h3v1h-3zM733,218h1v1h-1zM76,219h1v1h-1zM79,219h1v1h-1zM94,219h1v1h-1zM345,219h1v1h-1zM347,219h1v1h-1zM692,219h3v1h-3zM727,219h2v1h-2zM733,219h1v1h-1zM748,219h2v1h-2zM75,220h1v1h-1zM79,220h1v1h-1zM94,220h1v1h-1zM345,220h3v1h-3zM693,220h2v1h-2zM727,220h2v1h-2zM734,220h1v1h-1zM748,220h2v1h-2zM70,221h2v1h-2zM75,221h1v1h-1zM79,221h1v1h-1zM345,221h2v1h-2zM694,221h1v1h-1zM734,221h1v1h-1zM749,221h1v1h-1zM70,222h6v1h-6zM78,222h1v1h-1zM96,222h1v1h-1zM344,222h1v1h-1zM346,222h1v1h-1zM694,222h1v1h-1zM734,222h1v1h-1zM71,223h3v1h-3zM78,223h1v1h-1zM97,223h1v1h-1zM104,223h2v1h-2zM345,223h1v1h-1zM347,223h1v1h-1zM695,223h1v1h-1zM735,223h1v1h-1zM72,224h3v1h-3zM79,224h1v1h-1zM98,224h1v1h-1zM104,224h3v1h-3zM345,224h2v1h-2zM695,224h1v1h-1zM735,224h1v1h-1zM72,225h3v1h-3zM79,225h1v1h-1zM98,225h1v1h-1zM105,225h2v1h-2zM344,225h2v1h-2zM347,225h1v1h-1zM694,225h1v1h-1zM735,225h1v1h-1zM73,226h1v1h-1zM79,226h1v1h-1zM344,226h1v1h-1zM346,226h1v1h-1zM694,226h1v1h-1zM735,226h1v1h-1zM40,227h1v1h-1zM49,227h3v1h-3zM72,227h1v1h-1zM79,227h1v1h-1zM343,227h1v1h-1zM346,227h1v1h-1zM694,227h1v1h-1zM736,227h1v1h-1zM41,228h1v1h-1zM49,228h1v1h-1zM52,228h1v1h-1zM62,228h1v1h-1zM72,228h1v1h-1zM79,228h2v1h-2zM97,228h3v1h-3zM343,228h1v1h-1zM346,228h1v1h-1zM694,228h1v1h-1zM736,228h1v1h-1zM42,229h2v1h-2zM48,229h2v1h-2zM53,229h2v1h-2zM62,229h1v1h-1zM73,229h1v1h-1zM79,229h3v1h-3zM96,229h1v1h-1zM99,229h1v1h-1zM343,229h1v1h-1zM346,229h1v1h-1zM694,229h1v1h-1zM735,229h1v1h-1zM44,230h1v1h-1zM47,230h1v1h-1zM53,230h1v1h-1zM62,230h2v1h-2zM73,230h1v1h-1zM80,230h3v1h-3zM96,230h4v1h-4zM342,230h1v1h-1zM345,230h1v1h-1zM694,230h1v1h-1zM735,230h1v1h-1zM45,231h2v1h-2zM54,231h1v1h-1zM61,231h1v1h-1zM63,231h1v1h-1zM73,231h2v1h-2zM80,231h4v1h-4zM341,231h4v1h-4zM694,231h1v1h-1zM735,231h1v1h-1zM51,232h2v1h-2zM54,232h2v1h-2zM60,232h2v1h-2zM63,232h3v1h-3zM74,232h1v1h-1zM80,232h1v1h-1zM82,232h3v1h-3zM339,232h2v1h-2zM342,232h1v1h-1zM693,232h1v1h-1zM735,232h1v1h-1zM50,233h1v1h-1zM53,233h1v1h-1zM55,233h1v1h-1zM57,233h3v1h-3zM65,233h1v1h-1zM74,233h1v1h-1zM80,233h1v1h-1zM83,233h2v1h-2zM338,233h1v1h-1zM341,233h1v1h-1zM693,233h1v1h-1zM735,233h1v1h-1zM46,234h2v1h-2zM49,234h1v1h-1zM53,234h1v1h-1zM56,234h4v1h-4zM65,234h1v1h-1zM69,234h2v1h-2zM74,234h1v1h-1zM80,234h1v1h-1zM83,234h2v1h-2zM338,234h1v1h-1zM340,234h1v1h-1zM693,234h1v1h-1zM735,234h1v1h-1zM744,234h1v1h-1zM46,235h4v1h-4zM54,235h1v1h-1zM56,235h4v1h-4zM64,235h2v1h-2zM68,235h1v1h-1zM71,235h1v1h-1zM74,235h1v1h-1zM80,235h1v1h-1zM337,235h1v1h-1zM340,235h1v1h-1zM693,235h1v1h-1zM735,235h1v1h-1zM743,235h3v1h-3zM47,236h3v1h-3zM54,236h1v1h-1zM57,236h3v1h-3zM64,236h2v1h-2zM68,236h2v1h-2zM71,236h1v1h-1zM75,236h1v1h-1zM80,236h1v1h-1zM337,236h1v1h-1zM339,236h2v1h-2zM693,236h1v1h-1zM735,236h1v1h-1zM48,237h2v1h-2zM54,237h1v1h-1zM57,237h3v1h-3zM64,237h4v1h-4zM72,237h1v1h-1zM75,237h2v1h-2zM79,237h1v1h-1zM337,237h1v1h-1zM339,237h1v1h-1zM693,237h1v1h-1zM736,237h1v1h-1zM49,238h1v1h-1zM55,238h1v1h-1zM64,238h3v1h-3zM73,238h1v1h-1zM76,238h1v1h-1zM79,238h1v1h-1zM86,238h1v1h-1zM336,238h1v1h-1zM339,238h1v1h-1zM693,238h1v1h-1zM737,238h1v1h-1zM49,239h1v1h-1zM55,239h1v1h-1zM65,239h3v1h-3zM73,239h1v1h-1zM76,239h1v1h-1zM78,239h1v1h-1zM86,239h2v1h-2zM335,239h1v1h-1zM339,239h1v1h-1zM693,239h1v1h-1zM738,239h1v1h-1zM49,240h1v1h-1zM55,240h1v1h-1zM66,240h2v1h-2zM73,240h1v1h-1zM76,240h1v1h-1zM78,240h1v1h-1zM334,240h1v1h-1zM338,240h1v1h-1zM692,240h1v1h-1zM738,240h1v1h-1zM50,241h1v1h-1zM55,241h1v1h-1zM74,241h2v1h-2zM77,241h2v1h-2zM98,241h1v1h-1zM333,241h2v1h-2zM337,241h2v1h-2zM692,241h1v1h-1zM739,241h1v1h-1zM50,242h1v1h-1zM54,242h1v1h-1zM76,242h1v1h-1zM97,242h1v1h-1zM99,242h2v1h-2zM334,242h1v1h-1zM336,242h1v1h-1zM692,242h1v1h-1zM740,242h1v1h-1zM50,243h1v1h-1zM54,243h1v1h-1zM76,243h1v1h-1zM97,243h1v1h-1zM101,243h1v1h-1zM334,243h2v1h-2zM692,243h1v1h-1zM740,243h1v1h-1zM51,244h1v1h-1zM54,244h1v1h-1zM77,244h1v1h-1zM90,244h2v1h-2zM97,244h1v1h-1zM101,244h1v1h-1zM332,244h2v1h-2zM335,244h1v1h-1zM692,244h1v1h-1zM739,244h1v1h-1zM51,245h3v1h-3zM78,245h1v1h-1zM90,245h4v1h-4zM98,245h1v1h-1zM102,245h2v1h-2zM330,245h2v1h-2zM333,245h3v1h-3zM691,245h1v1h-1zM740,245h1v1h-1zM746,245h2v1h-2zM53,246h1v1h-1zM79,246h1v1h-1zM91,246h7v1h-7zM104,246h1v1h-1zM330,246h1v1h-1zM333,246h1v1h-1zM335,246h1v1h-1zM691,246h1v1h-1zM740,246h1v1h-1zM79,247h2v1h-2zM92,247h2v1h-2zM104,247h1v1h-1zM329,247h1v1h-1zM333,247h1v1h-1zM691,247h1v1h-1zM739,247h1v1h-1zM56,248h3v1h-3zM61,248h6v1h-6zM81,248h1v1h-1zM90,248h2v1h-2zM105,248h1v1h-1zM329,248h4v1h-4zM690,248h1v1h-1zM738,248h1v1h-1zM40,249h1v1h-1zM55,249h1v1h-1zM59,249h2v1h-2zM67,249h2v1h-2zM81,249h1v1h-1zM89,249h1v1h-1zM106,249h1v1h-1zM329,249h2v1h-2zM690,249h1v1h-1zM737,249h1v1h-1zM41,250h2v1h-2zM55,250h1v1h-1zM69,250h1v1h-1zM71,250h1v1h-1zM73,250h4v1h-4zM82,250h1v1h-1zM89,250h1v1h-1zM107,250h1v1h-1zM135,250h1v1h-1zM327,250h1v1h-1zM329,250h1v1h-1zM690,250h1v1h-1zM737,250h1v1h-1zM43,251h1v1h-1zM52,251h3v1h-3zM70,251h2v1h-2zM73,251h5v1h-5zM83,251h1v1h-1zM88,251h1v1h-1zM107,251h1v1h-1zM131,251h4v1h-4zM136,251h1v1h-1zM327,251h3v1h-3zM690,251h1v1h-1zM737,251h1v1h-1zM44,252h1v1h-1zM50,252h2v1h-2zM72,252h1v1h-1zM74,252h4v1h-4zM83,252h1v1h-1zM87,252h1v1h-1zM107,252h1v1h-1zM130,252h1v1h-1zM136,252h1v1h-1zM324,252h3v1h-3zM328,252h1v1h-1zM689,252h1v1h-1zM737,252h1v1h-1zM45,253h1v1h-1zM48,253h2v1h-2zM62,253h1v1h-1zM72,253h1v1h-1zM74,253h5v1h-5zM84,253h3v1h-3zM108,253h1v1h-1zM129,253h1v1h-1zM132,253h4v1h-4zM324,253h1v1h-1zM327,253h2v1h-2zM689,253h1v1h-1zM738,253h1v1h-1zM46,254h3v1h-3zM61,254h2v1h-2zM72,254h1v1h-1zM74,254h2v1h-2zM77,254h2v1h-2zM109,254h2v1h-2zM129,254h1v1h-1zM132,254h1v1h-1zM321,254h3v1h-3zM326,254h1v1h-1zM688,254h1v1h-1zM738,254h1v1h-1zM60,255h1v1h-1zM62,255h1v1h-1zM73,255h6v1h-6zM110,255h1v1h-1zM130,255h2v1h-2zM305,255h2v1h-2zM319,255h2v1h-2zM323,255h3v1h-3zM688,255h1v1h-1zM738,255h1v1h-1zM47,256h4v1h-4zM60,256h2v1h-2zM73,256h1v1h-1zM75,256h6v1h-6zM110,256h1v1h-1zM305,256h2v1h-2zM316,256h1v1h-1zM318,256h1v1h-1zM322,256h1v1h-1zM325,256h1v1h-1zM688,256h1v1h-1zM738,256h1v1h-1zM47,257h1v1h-1zM51,257h1v1h-1zM60,257h2v1h-2zM73,257h1v1h-1zM76,257h5v1h-5zM110,257h2v1h-2zM304,257h2v1h-2zM316,257h3v1h-3zM320,257h3v1h-3zM687,257h1v1h-1zM738,257h1v1h-1zM47,258h1v1h-1zM51,258h1v1h-1zM61,258h1v1h-1zM72,258h2v1h-2zM77,258h4v1h-4zM112,258h1v1h-1zM131,258h4v1h-4zM303,258h3v1h-3zM314,258h2v1h-2zM319,258h2v1h-2zM687,258h1v1h-1zM738,258h1v1h-1zM48,259h1v1h-1zM50,259h1v1h-1zM74,259h13v1h-13zM111,259h1v1h-1zM128,259h3v1h-3zM135,259h1v1h-1zM302,259h2v1h-2zM312,259h2v1h-2zM317,259h2v1h-2zM686,259h1v1h-1zM738,259h1v1h-1zM48,260h2v1h-2zM76,260h12v1h-12zM112,260h1v1h-1zM128,260h1v1h-1zM135,260h2v1h-2zM301,260h1v1h-1zM303,260h1v1h-1zM311,260h1v1h-1zM316,260h1v1h-1zM686,260h1v1h-1zM738,260h1v1h-1zM74,261h16v1h-16zM112,261h1v1h-1zM128,261h1v1h-1zM133,261h2v1h-2zM301,261h1v1h-1zM303,261h1v1h-1zM310,261h1v1h-1zM314,261h2v1h-2zM686,261h1v1h-1zM738,261h1v1h-1zM72,262h2v1h-2zM76,262h8v1h-8zM85,262h5v1h-5zM113,262h1v1h-1zM128,262h1v1h-1zM132,262h1v1h-1zM299,262h2v1h-2zM302,262h1v1h-1zM309,262h1v1h-1zM311,262h3v1h-3zM350,262h2v1h-2zM686,262h1v1h-1zM738,262h1v1h-1zM72,263h1v1h-1zM85,263h5v1h-5zM113,263h1v1h-1zM128,263h1v1h-1zM130,263h2v1h-2zM298,263h2v1h-2zM301,263h1v1h-1zM309,263h4v1h-4zM350,263h4v1h-4zM685,263h1v1h-1zM739,263h1v1h-1zM73,264h3v1h-3zM85,264h4v1h-4zM114,264h1v1h-1zM129,264h1v1h-1zM243,264h2v1h-2zM295,264h6v1h-6zM309,264h2v1h-2zM351,264h3v1h-3zM685,264h1v1h-1zM739,264h1v1h-1zM75,265h1v1h-1zM81,265h1v1h-1zM115,265h1v1h-1zM118,265h1v1h-1zM124,265h3v1h-3zM243,265h2v1h-2zM294,265h1v1h-1zM298,265h1v1h-1zM307,265h4v1h-4zM685,265h1v1h-1zM739,265h1v1h-1zM76,266h6v1h-6zM116,266h2v1h-2zM119,266h4v1h-4zM124,266h1v1h-1zM127,266h1v1h-1zM243,266h3v1h-3zM294,266h1v1h-1zM298,266h1v1h-1zM306,266h4v1h-4zM685,266h1v1h-1zM739,266h1v1h-1zM80,267h1v1h-1zM123,267h1v1h-1zM127,267h1v1h-1zM155,267h1v1h-1zM157,267h3v1h-3zM244,267h2v1h-2zM252,267h3v1h-3zM294,267h1v1h-1zM296,267h2v1h-2zM306,267h2v1h-2zM339,267h3v1h-3zM685,267h1v1h-1zM739,267h1v1h-1zM79,268h1v1h-1zM125,268h2v1h-2zM129,268h4v1h-4zM155,268h2v1h-2zM160,268h1v1h-1zM163,268h2v1h-2zM293,268h1v1h-1zM295,268h1v1h-1zM305,268h3v1h-3zM335,268h4v1h-4zM684,268h1v1h-1zM739,268h1v1h-1zM78,269h1v1h-1zM126,269h4v1h-4zM132,269h1v1h-1zM136,269h4v1h-4zM147,269h2v1h-2zM154,269h1v1h-1zM161,269h2v1h-2zM165,269h1v1h-1zM290,269h3v1h-3zM294,269h2v1h-2zM303,269h4v1h-4zM334,269h1v1h-1zM683,269h1v1h-1zM739,269h1v1h-1zM78,270h2v1h-2zM132,270h2v1h-2zM135,270h1v1h-1zM138,270h1v1h-1zM147,270h7v1h-7zM163,270h2v1h-2zM289,270h1v1h-1zM293,270h1v1h-1zM295,270h1v1h-1zM303,270h3v1h-3zM332,270h2v1h-2zM682,270h1v1h-1zM740,270h1v1h-1zM78,271h2v1h-2zM134,271h1v1h-1zM138,271h2v1h-2zM147,271h2v1h-2zM150,271h1v1h-1zM162,271h2v1h-2zM289,271h1v1h-1zM292,271h1v1h-1zM300,271h3v1h-3zM329,271h5v1h-5zM682,271h1v1h-1zM740,271h1v1h-1zM80,272h2v1h-2zM140,272h1v1h-1zM142,272h3v1h-3zM146,272h2v1h-2zM161,272h2v1h-2zM289,272h1v1h-1zM292,272h1v1h-1zM300,272h3v1h-3zM329,272h4v1h-4zM343,272h2v1h-2zM682,272h1v1h-1zM740,272h1v1h-1zM82,273h1v1h-1zM139,273h3v1h-3zM144,273h1v1h-1zM146,273h1v1h-1zM159,273h2v1h-2zM162,273h1v1h-1zM290,273h1v1h-1zM292,273h1v1h-1zM300,273h2v1h-2zM328,273h3v1h-3zM342,273h1v1h-1zM681,273h1v1h-1zM741,273h1v1h-1zM82,274h1v1h-1zM137,274h3v1h-3zM145,274h1v1h-1zM158,274h1v1h-1zM289,274h2v1h-2zM293,274h1v1h-1zM299,274h3v1h-3zM327,274h4v1h-4zM338,274h4v1h-4zM681,274h1v1h-1zM741,274h1v1h-1zM83,275h1v1h-1zM137,275h1v1h-1zM139,275h1v1h-1zM158,275h1v1h-1zM288,275h1v1h-1zM293,275h1v1h-1zM298,275h3v1h-3zM326,275h3v1h-3zM337,275h1v1h-1zM681,275h1v1h-1zM742,275h1v1h-1zM82,276h1v1h-1zM85,276h1v1h-1zM137,276h2v1h-2zM158,276h2v1h-2zM169,276h2v1h-2zM172,276h1v1h-1zM287,276h1v1h-1zM294,276h1v1h-1zM297,276h3v1h-3zM325,276h3v1h-3zM334,276h3v1h-3zM681,276h1v1h-1zM743,276h1v1h-1zM82,277h4v1h-4zM138,277h1v1h-1zM160,277h1v1h-1zM168,277h1v1h-1zM171,277h1v1h-1zM173,277h1v1h-1zM286,277h1v1h-1zM294,277h1v1h-1zM296,277h3v1h-3zM323,277h4v1h-4zM334,277h2v1h-2zM681,277h1v1h-1zM744,277h4v1h-4zM83,278h3v1h-3zM161,278h1v1h-1zM167,278h1v1h-1zM174,278h1v1h-1zM177,278h1v1h-1zM239,278h2v1h-2zM243,278h1v1h-1zM284,278h2v1h-2zM294,278h4v1h-4zM322,278h4v1h-4zM333,278h3v1h-3zM681,278h1v1h-1zM747,278h1v1h-1zM81,279h2v1h-2zM162,279h5v1h-5zM174,279h3v1h-3zM178,279h1v1h-1zM238,279h1v1h-1zM241,279h1v1h-1zM244,279h1v1h-1zM282,279h2v1h-2zM294,279h3v1h-3zM322,279h2v1h-2zM331,279h4v1h-4zM680,279h1v1h-1zM748,279h2v1h-2zM81,280h1v1h-1zM164,280h1v1h-1zM174,280h1v1h-1zM179,280h1v1h-1zM237,280h1v1h-1zM241,280h1v1h-1zM280,280h2v1h-2zM293,280h3v1h-3zM331,280h3v1h-3zM676,280h2v1h-2zM680,280h1v1h-1zM80,281h1v1h-1zM178,281h1v1h-1zM236,281h2v1h-2zM240,281h1v1h-1zM275,281h2v1h-2zM279,281h1v1h-1zM292,281h1v1h-1zM328,281h5v1h-5zM675,281h1v1h-1zM678,281h5v1h-5zM80,282h1v1h-1zM179,282h2v1h-2zM215,282h4v1h-4zM238,282h2v1h-2zM271,282h5v1h-5zM277,282h2v1h-2zM291,282h2v1h-2zM318,282h2v1h-2zM326,282h6v1h-6zM675,282h1v1h-1zM680,282h1v1h-1zM683,282h3v1h-3zM80,283h1v1h-1zM179,283h1v1h-1zM214,283h1v1h-1zM219,283h1v1h-1zM271,283h1v1h-1zM316,283h4v1h-4zM325,283h5v1h-5zM675,283h1v1h-1zM680,283h1v1h-1zM686,283h3v1h-3zM80,284h1v1h-1zM179,284h1v1h-1zM185,284h3v1h-3zM212,284h2v1h-2zM219,284h1v1h-1zM271,284h1v1h-1zM287,284h3v1h-3zM315,284h4v1h-4zM325,284h3v1h-3zM329,284h1v1h-1zM674,284h1v1h-1zM680,284h1v1h-1zM688,284h1v1h-1zM79,285h1v1h-1zM180,285h1v1h-1zM185,285h1v1h-1zM188,285h1v1h-1zM211,285h1v1h-1zM218,285h3v1h-3zM271,285h1v1h-1zM287,285h1v1h-1zM313,285h4v1h-4zM323,285h2v1h-2zM330,285h2v1h-2zM673,285h1v1h-1zM680,285h1v1h-1zM688,285h1v1h-1zM79,286h1v1h-1zM180,286h1v1h-1zM185,286h1v1h-1zM189,286h1v1h-1zM210,286h1v1h-1zM218,286h5v1h-5zM270,286h1v1h-1zM285,286h2v1h-2zM311,286h5v1h-5zM320,286h3v1h-3zM331,286h1v1h-1zM672,286h1v1h-1zM680,286h1v1h-1zM687,286h1v1h-1zM80,287h1v1h-1zM179,287h1v1h-1zM184,287h1v1h-1zM190,287h2v1h-2zM210,287h1v1h-1zM218,287h6v1h-6zM229,287h4v1h-4zM270,287h1v1h-1zM284,287h1v1h-1zM308,287h6v1h-6zM319,287h2v1h-2zM331,287h1v1h-1zM672,287h1v1h-1zM680,287h1v1h-1zM683,287h3v1h-3zM687,287h1v1h-1zM79,288h1v1h-1zM179,288h1v1h-1zM183,288h2v1h-2zM191,288h4v1h-4zM210,288h1v1h-1zM219,288h6v1h-6zM228,288h1v1h-1zM233,288h1v1h-1zM268,288h3v1h-3zM283,288h1v1h-1zM307,288h5v1h-5zM313,288h1v1h-1zM318,288h1v1h-1zM320,288h1v1h-1zM332,288h2v1h-2zM348,288h1v1h-1zM350,288h1v1h-1zM672,288h1v1h-1zM680,288h1v1h-1zM682,288h1v1h-1zM686,288h2v1h-2zM79,289h1v1h-1zM180,289h1v1h-1zM182,289h1v1h-1zM195,289h4v1h-4zM205,289h2v1h-2zM209,289h1v1h-1zM221,289h4v1h-4zM227,289h1v1h-1zM233,289h1v1h-1zM267,289h2v1h-2zM281,289h2v1h-2zM305,289h4v1h-4zM310,289h1v1h-1zM313,289h1v1h-1zM316,289h2v1h-2zM334,289h2v1h-2zM348,289h3v1h-3zM672,289h1v1h-1zM680,289h1v1h-1zM682,289h1v1h-1zM62,290h6v1h-6zM79,290h1v1h-1zM181,290h2v1h-2zM199,290h6v1h-6zM207,290h1v1h-1zM209,290h1v1h-1zM222,290h5v1h-5zM231,290h3v1h-3zM266,290h2v1h-2zM280,290h1v1h-1zM298,290h3v1h-3zM304,290h4v1h-4zM310,290h3v1h-3zM315,290h1v1h-1zM334,290h1v1h-1zM348,290h1v1h-1zM351,290h1v1h-1zM671,290h1v1h-1zM679,290h3v1h-3zM62,291h2v1h-2zM67,291h1v1h-1zM76,291h1v1h-1zM80,291h3v1h-3zM181,291h2v1h-2zM208,291h1v1h-1zM222,291h4v1h-4zM227,291h1v1h-1zM231,291h1v1h-1zM256,291h4v1h-4zM261,291h1v1h-1zM264,291h2v1h-2zM280,291h1v1h-1zM297,291h1v1h-1zM300,291h2v1h-2zM304,291h2v1h-2zM314,291h1v1h-1zM334,291h1v1h-1zM348,291h1v1h-1zM351,291h1v1h-1zM671,291h1v1h-1zM679,291h3v1h-3zM64,292h1v1h-1zM67,292h1v1h-1zM74,292h2v1h-2zM77,292h4v1h-4zM83,292h2v1h-2zM180,292h2v1h-2zM223,292h3v1h-3zM227,292h1v1h-1zM231,292h1v1h-1zM256,292h1v1h-1zM260,292h1v1h-1zM262,292h2v1h-2zM280,292h1v1h-1zM297,292h1v1h-1zM300,292h1v1h-1zM313,292h1v1h-1zM335,292h1v1h-1zM348,292h1v1h-1zM351,292h1v1h-1zM670,292h1v1h-1zM679,292h1v1h-1zM681,292h1v1h-1zM64,293h1v1h-1zM66,293h1v1h-1zM72,293h2v1h-2zM80,293h1v1h-1zM83,293h2v1h-2zM180,293h2v1h-2zM223,293h3v1h-3zM227,293h2v1h-2zM230,293h1v1h-1zM253,293h3v1h-3zM263,293h1v1h-1zM278,293h3v1h-3zM293,293h4v1h-4zM299,293h1v1h-1zM313,293h1v1h-1zM336,293h1v1h-1zM349,293h1v1h-1zM351,293h1v1h-1zM670,293h1v1h-1zM679,293h2v1h-2zM65,294h1v1h-1zM71,294h1v1h-1zM81,294h9v1h-9zM180,294h2v1h-2zM223,294h3v1h-3zM227,294h1v1h-1zM230,294h2v1h-2zM252,294h1v1h-1zM277,294h1v1h-1zM290,294h3v1h-3zM299,294h2v1h-2zM313,294h1v1h-1zM336,294h1v1h-1zM349,294h2v1h-2zM669,294h1v1h-1zM680,294h2v1h-2zM69,295h2v1h-2zM85,295h3v1h-3zM179,295h2v1h-2zM226,295h2v1h-2zM231,295h1v1h-1zM252,295h1v1h-1zM276,295h1v1h-1zM284,295h1v1h-1zM289,295h1v1h-1zM300,295h1v1h-1zM308,295h5v1h-5zM337,295h1v1h-1zM669,295h1v1h-1zM680,295h1v1h-1zM55,296h3v1h-3zM63,296h1v1h-1zM67,296h2v1h-2zM231,296h1v1h-1zM250,296h3v1h-3zM275,296h1v1h-1zM284,296h5v1h-5zM300,296h1v1h-1zM305,296h1v1h-1zM307,296h2v1h-2zM338,296h1v1h-1zM346,296h1v1h-1zM669,296h1v1h-1zM678,296h3v1h-3zM55,297h1v1h-1zM57,297h1v1h-1zM63,297h1v1h-1zM68,297h1v1h-1zM232,297h2v1h-2zM249,297h2v1h-2zM275,297h1v1h-1zM284,297h1v1h-1zM286,297h1v1h-1zM300,297h1v1h-1zM306,297h3v1h-3zM312,297h2v1h-2zM338,297h2v1h-2zM342,297h1v1h-1zM344,297h6v1h-6zM669,297h1v1h-1zM52,298h3v1h-3zM57,298h1v1h-1zM60,298h4v1h-4zM67,298h1v1h-1zM233,298h1v1h-1zM248,298h2v1h-2zM251,298h1v1h-1zM276,298h1v1h-1zM283,298h1v1h-1zM299,298h1v1h-1zM305,298h2v1h-2zM308,298h5v1h-5zM314,298h7v1h-7zM339,298h1v1h-1zM341,298h1v1h-1zM343,298h2v1h-2zM350,298h2v1h-2zM669,298h1v1h-1zM50,299h2v1h-2zM54,299h1v1h-1zM57,299h1v1h-1zM60,299h1v1h-1zM64,299h1v1h-1zM67,299h1v1h-1zM234,299h1v1h-1zM247,299h4v1h-4zM276,299h2v1h-2zM283,299h1v1h-1zM300,299h1v1h-1zM321,299h1v1h-1zM339,299h1v1h-1zM342,299h1v1h-1zM345,299h1v1h-1zM352,299h1v1h-1zM668,299h1v1h-1zM670,299h2v1h-2zM49,300h1v1h-1zM57,300h4v1h-4zM65,300h1v1h-1zM67,300h1v1h-1zM234,300h2v1h-2zM240,300h1v1h-1zM242,300h1v1h-1zM246,300h1v1h-1zM277,300h1v1h-1zM284,300h1v1h-1zM299,300h1v1h-1zM321,300h1v1h-1zM339,300h1v1h-1zM345,300h2v1h-2zM353,300h2v1h-2zM667,300h3v1h-3zM49,301h1v1h-1zM58,301h1v1h-1zM65,301h1v1h-1zM67,301h1v1h-1zM236,301h1v1h-1zM239,301h1v1h-1zM241,301h7v1h-7zM278,301h1v1h-1zM284,301h1v1h-1zM300,301h1v1h-1zM322,301h2v1h-2zM340,301h1v1h-1zM347,301h1v1h-1zM355,301h1v1h-1zM666,301h2v1h-2zM670,301h3v1h-3zM47,302h1v1h-1zM49,302h1v1h-1zM58,302h1v1h-1zM65,302h3v1h-3zM236,302h1v1h-1zM239,302h1v1h-1zM244,302h4v1h-4zM278,302h2v1h-2zM283,302h2v1h-2zM300,302h2v1h-2zM322,302h1v1h-1zM341,302h1v1h-1zM345,302h2v1h-2zM356,302h1v1h-1zM665,302h1v1h-1zM670,302h1v1h-1zM46,303h1v1h-1zM48,303h1v1h-1zM66,303h3v1h-3zM237,303h2v1h-2zM246,303h3v1h-3zM280,303h1v1h-1zM282,303h2v1h-2zM302,303h2v1h-2zM321,303h1v1h-1zM342,303h3v1h-3zM357,303h1v1h-1zM665,303h1v1h-1zM45,304h1v1h-1zM66,304h1v1h-1zM69,304h1v1h-1zM247,304h3v1h-3zM280,304h2v1h-2zM283,304h1v1h-1zM303,304h1v1h-1zM321,304h1v1h-1zM358,304h1v1h-1zM665,304h1v1h-1zM40,305h5v1h-5zM67,305h1v1h-1zM69,305h1v1h-1zM248,305h2v1h-2zM301,305h2v1h-2zM321,305h1v1h-1zM358,305h1v1h-1zM664,305h1v1h-1zM67,306h1v1h-1zM69,306h1v1h-1zM248,306h2v1h-2zM300,306h1v1h-1zM320,306h1v1h-1zM359,306h1v1h-1zM664,306h1v1h-1zM67,307h3v1h-3zM299,307h1v1h-1zM318,307h3v1h-3zM358,307h1v1h-1zM664,307h1v1h-1zM298,308h2v1h-2zM318,308h1v1h-1zM358,308h1v1h-1zM664,308h1v1h-1zM298,309h1v1h-1zM317,309h2v1h-2zM357,309h1v1h-1zM664,309h1v1h-1zM296,310h2v1h-2zM317,310h1v1h-1zM356,310h1v1h-1zM664,310h1v1h-1zM296,311h2v1h-2zM317,311h1v1h-1zM356,311h1v1h-1zM664,311h1v1h-1zM296,312h1v1h-1zM316,312h2v1h-2zM355,312h1v1h-1zM663,312h1v1h-1zM296,313h1v1h-1zM315,313h1v1h-1zM353,313h2v1h-2zM663,313h1v1h-1zM297,314h2v1h-2zM302,314h3v1h-3zM307,314h2v1h-2zM315,314h1v1h-1zM352,314h1v1h-1zM662,314h1v1h-1zM299,315h1v1h-1zM301,315h1v1h-1zM305,315h2v1h-2zM309,315h1v1h-1zM315,315h1v1h-1zM351,315h1v1h-1zM662,315h1v1h-1zM299,316h4v1h-4zM310,316h5v1h-5zM350,316h1v1h-1zM661,316h1v1h-1zM664,316h6v1h-6zM299,317h2v1h-2zM349,317h1v1h-1zM661,317h3v1h-3zM666,317h1v1h-1zM299,318h1v1h-1zM348,318h1v1h-1zM660,318h1v1h-1zM663,318h1v1h-1zM666,318h1v1h-1zM347,319h1v1h-1zM660,319h1v1h-1zM664,319h5v1h-5zM346,320h2v1h-2zM660,320h1v1h-1zM664,320h1v1h-1zM666,320h4v1h-4zM346,321h1v1h-1zM660,321h1v1h-1zM666,321h5v1h-5zM347,322h1v1h-1zM659,322h13v1h-13zM346,323h1v1h-1zM668,323h2v1h-2zM671,323h3v1h-3zM678,323h3v1h-3zM345,324h1v1h-1zM669,324h2v1h-2zM673,324h2v1h-2zM676,324h2v1h-2zM681,324h3v1h-3zM344,325h1v1h-1zM670,325h3v1h-3zM674,325h2v1h-2zM343,326h1v1h-1zM671,326h3v1h-3zM675,326h2v1h-2zM343,327h1v1h-1zM672,327h3v1h-3zM676,327h1v1h-1zM342,328h2v1h-2zM673,328h2v1h-2zM676,328h1v1h-1zM343,329h1v1h-1zM673,329h1v1h-1zM675,329h2v1h-2zM343,330h1v1h-1zM673,330h1v1h-1zM675,330h3v1h-3zM339,331h4v1h-4zM673,331h2v1h-2zM677,331h2v1h-2zM337,332h2v1h-2zM673,332h4v1h-4zM678,332h1v1h-1zM680,332h3v1h-3zM337,333h1v1h-1zM672,333h1v1h-1zM676,333h1v1h-1zM678,333h2v1h-2zM333,334h3v1h-3zM337,334h1v1h-1zM672,334h1v1h-1zM676,334h2v1h-2zM679,334h1v1h-1zM331,335h3v1h-3zM335,335h2v1h-2zM672,335h1v1h-1zM677,335h1v1h-1zM679,335h1v1h-1zM330,336h1v1h-1zM671,336h1v1h-1zM677,336h1v1h-1zM679,336h1v1h-1zM329,337h1v1h-1zM671,337h1v1h-1zM677,337h1v1h-1zM679,337h1v1h-1zM329,338h1v1h-1zM670,338h1v1h-1zM677,338h1v1h-1zM679,338h1v1h-1zM330,339h1v1h-1zM670,339h1v1h-1zM677,339h1v1h-1zM679,339h2v1h-2zM330,340h1v1h-1zM669,340h1v1h-1zM677,340h4v1h-4zM330,341h1v1h-1zM668,341h1v1h-1zM678,341h4v1h-4zM331,342h1v1h-1zM665,342h3v1h-3zM678,342h4v1h-4zM331,343h2v1h-2zM663,343h2v1h-2zM679,343h3v1h-3zM333,344h1v1h-1zM662,344h1v1h-1zM679,344h3v1h-3zM333,345h2v1h-2zM660,345h2v1h-2zM335,346h2v1h-2zM659,346h1v1h-1zM337,347h3v1h-3zM659,347h1v1h-1zM340,348h1v1h-1zM658,348h1v1h-1zM335,349h2v1h-2zM339,349h1v1h-1zM658,349h1v1h-1zM330,350h2v1h-2zM334,350h1v1h-1zM337,350h1v1h-1zM340,350h1v1h-1zM657,350h1v1h-1zM327,351h3v1h-3zM332,351h2v1h-2zM338,351h1v1h-1zM340,351h2v1h-2zM657,351h1v1h-1zM329,352h1v1h-1zM338,352h2v1h-2zM658,352h1v1h-1zM329,353h2v1h-2zM339,353h1v1h-1zM658,353h1v1h-1zM331,354h1v1h-1zM658,354h1v1h-1zM320,355h1v1h-1zM332,355h1v1h-1zM659,355h1v1h-1zM320,356h2v1h-2zM332,356h1v1h-1zM659,356h1v1h-1zM318,357h3v1h-3zM322,357h1v1h-1zM333,357h1v1h-1zM660,357h1v1h-1zM317,358h1v1h-1zM322,358h1v1h-1zM333,358h1v1h-1zM660,358h1v1h-1zM307,359h1v1h-1zM318,359h1v1h-1zM321,359h2v1h-2zM332,359h2v1h-2zM660,359h1v1h-1zM306,360h1v1h-1zM318,360h2v1h-2zM322,360h1v1h-1zM331,360h1v1h-1zM660,360h1v1h-1zM306,361h2v1h-2zM317,361h1v1h-1zM322,361h1v1h-1zM331,361h1v1h-1zM660,361h1v1h-1zM305,362h1v1h-1zM307,362h1v1h-1zM314,362h3v1h-3zM322,362h1v1h-1zM330,362h1v1h-1zM660,362h1v1h-1zM304,363h1v1h-1zM307,363h1v1h-1zM312,363h3v1h-3zM316,363h1v1h-1zM322,363h1v1h-1zM329,363h2v1h-2zM660,363h1v1h-1zM304,364h1v1h-1zM307,364h3v1h-3zM312,364h1v1h-1zM323,364h1v1h-1zM329,364h1v1h-1zM661,364h1v1h-1zM304,365h1v1h-1zM309,365h1v1h-1zM311,365h1v1h-1zM323,365h1v1h-1zM329,365h1v1h-1zM662,365h1v1h-1zM298,366h2v1h-2zM303,366h1v1h-1zM309,366h1v1h-1zM311,366h1v1h-1zM324,366h1v1h-1zM327,366h2v1h-2zM663,366h1v1h-1zM296,367h2v1h-2zM300,367h1v1h-1zM303,367h1v1h-1zM309,367h1v1h-1zM311,367h1v1h-1zM320,367h1v1h-1zM322,367h5v1h-5zM663,367h1v1h-1zM295,368h1v1h-1zM301,368h2v1h-2zM309,368h2v1h-2zM319,368h3v1h-3zM323,368h1v1h-1zM326,368h1v1h-1zM664,368h1v1h-1zM294,369h1v1h-1zM302,369h1v1h-1zM319,369h1v1h-1zM323,369h1v1h-1zM664,369h1v1h-1zM293,370h1v1h-1zM319,370h1v1h-1zM323,370h1v1h-1zM664,370h1v1h-1zM291,371h2v1h-2zM303,371h1v1h-1zM319,371h1v1h-1zM322,371h1v1h-1zM664,371h1v1h-1zM291,372h1v1h-1zM319,372h4v1h-4zM664,372h1v1h-1zM290,373h1v1h-1zM663,373h3v1h-3zM290,374h1v1h-1zM661,374h3v1h-3zM666,374h1v1h-1zM291,375h1v1h-1zM662,375h1v1h-1zM666,375h1v1h-1zM292,376h2v1h-2zM662,376h1v1h-1zM667,376h1v1h-1zM294,377h1v1h-1zM661,377h1v1h-1zM663,377h1v1h-1zM665,377h2v1h-2zM294,378h1v1h-1zM659,378h2v1h-2zM664,378h1v1h-1zM295,379h1v1h-1zM305,379h3v1h-3zM658,379h1v1h-1zM291,380h4v1h-4zM303,380h6v1h-6zM658,380h1v1h-1zM289,381h2v1h-2zM294,381h1v1h-1zM302,381h8v1h-8zM314,381h1v1h-1zM657,381h1v1h-1zM289,382h1v1h-1zM302,382h2v1h-2zM307,382h2v1h-2zM656,382h1v1h-1zM289,383h1v1h-1zM307,383h2v1h-2zM655,383h1v1h-1zM289,384h1v1h-1zM307,384h2v1h-2zM655,384h1v1h-1zM288,385h1v1h-1zM307,385h2v1h-2zM654,385h1v1h-1zM289,386h1v1h-1zM307,386h2v1h-2zM654,386h1v1h-1zM288,387h1v1h-1zM307,387h2v1h-2zM654,387h1v1h-1zM288,388h1v1h-1zM307,388h2v1h-2zM654,388h1v1h-1zM288,389h1v1h-1zM654,389h1v1h-1zM287,390h2v1h-2zM313,390h1v1h-1zM318,390h1v1h-1zM653,390h1v1h-1zM288,391h1v1h-1zM653,391h1v1h-1zM288,392h2v1h-2zM324,392h1v1h-1zM358,392h4v1h-4zM653,392h1v1h-1zM289,393h1v1h-1zM357,393h5v1h-5zM653,393h1v1h-1zM289,394h1v1h-1zM298,394h5v1h-5zM337,394h10v1h-10zM357,394h2v1h-2zM653,394h1v1h-1zM290,395h2v1h-2zM298,395h1v1h-1zM302,395h2v1h-2zM310,395h4v1h-4zM334,395h13v1h-13zM355,395h4v1h-4zM653,395h1v1h-1zM290,396h1v1h-1zM298,396h1v1h-1zM302,396h1v1h-1zM310,396h1v1h-1zM314,396h2v1h-2zM332,396h1v1h-1zM334,396h13v1h-13zM354,396h4v1h-4zM653,396h1v1h-1zM290,397h1v1h-1zM298,397h1v1h-1zM301,397h1v1h-1zM308,397h2v1h-2zM315,397h1v1h-1zM323,397h1v1h-1zM330,397h2v1h-2zM333,397h10v1h-10zM354,397h2v1h-2zM652,397h1v1h-1zM291,398h1v1h-1zM294,398h3v1h-3zM298,398h1v1h-1zM301,398h1v1h-1zM307,398h1v1h-1zM316,398h1v1h-1zM329,398h1v1h-1zM333,398h1v1h-1zM342,398h1v1h-1zM652,398h1v1h-1zM292,399h2v1h-2zM297,399h1v1h-1zM301,399h1v1h-1zM305,399h2v1h-2zM316,399h1v1h-1zM329,399h1v1h-1zM333,399h1v1h-1zM340,399h2v1h-2zM343,399h1v1h-1zM652,399h1v1h-1zM299,400h2v1h-2zM305,400h1v1h-1zM317,400h1v1h-1zM328,400h1v1h-1zM332,400h1v1h-1zM339,400h1v1h-1zM343,400h1v1h-1zM652,400h1v1h-1zM298,401h1v1h-1zM305,401h1v1h-1zM316,401h1v1h-1zM328,401h1v1h-1zM332,401h1v1h-1zM339,401h1v1h-1zM343,401h1v1h-1zM353,401h4v1h-4zM651,401h1v1h-1zM299,402h1v1h-1zM305,402h1v1h-1zM316,402h1v1h-1zM328,402h1v1h-1zM333,402h1v1h-1zM337,402h2v1h-2zM344,402h1v1h-1zM353,402h1v1h-1zM357,402h1v1h-1zM651,402h1v1h-1zM298,403h1v1h-1zM305,403h1v1h-1zM316,403h1v1h-1zM328,403h1v1h-1zM333,403h1v1h-1zM335,403h2v1h-2zM344,403h1v1h-1zM353,403h1v1h-1zM358,403h1v1h-1zM651,403h1v1h-1zM298,404h1v1h-1zM305,404h1v1h-1zM315,404h1v1h-1zM329,404h1v1h-1zM334,404h1v1h-1zM344,404h1v1h-1zM351,404h2v1h-2zM358,404h1v1h-1zM651,404h1v1h-1zM299,405h1v1h-1zM305,405h1v1h-1zM309,405h1v1h-1zM314,405h1v1h-1zM329,405h2v1h-2zM345,405h3v1h-3zM351,405h1v1h-1zM358,405h1v1h-1zM650,405h1v1h-1zM298,406h1v1h-1zM306,406h6v1h-6zM314,406h1v1h-1zM320,406h1v1h-1zM326,406h3v1h-3zM348,406h1v1h-1zM350,406h2v1h-2zM355,406h3v1h-3zM650,406h1v1h-1zM297,407h2v1h-2zM311,407h3v1h-3zM326,407h1v1h-1zM349,407h1v1h-1zM355,407h1v1h-1zM650,407h1v1h-1zM296,408h1v1h-1zM325,408h1v1h-1zM355,408h1v1h-1zM650,408h1v1h-1zM296,409h1v1h-1zM325,409h1v1h-1zM352,409h3v1h-3zM650,409h1v1h-1zM295,410h1v1h-1zM325,410h1v1h-1zM350,410h2v1h-2zM650,410h1v1h-1zM296,411h1v1h-1zM325,411h1v1h-1zM349,411h1v1h-1zM650,411h1v1h-1zM296,412h1v1h-1zM326,412h1v1h-1zM348,412h1v1h-1zM650,412h1v1h-1zM296,413h1v1h-1zM326,413h1v1h-1zM348,413h1v1h-1zM650,413h1v1h-1zM294,414h2v1h-2zM325,414h1v1h-1zM348,414h1v1h-1zM651,414h1v1h-1zM293,415h1v1h-1zM325,415h1v1h-1zM348,415h1v1h-1zM651,415h1v1h-1zM293,416h1v1h-1zM325,416h1v1h-1zM347,416h1v1h-1zM652,416h1v1h-1zM292,417h1v1h-1zM325,417h1v1h-1zM347,417h1v1h-1zM653,417h1v1h-1zM292,418h1v1h-1zM325,418h1v1h-1zM347,418h1v1h-1zM654,418h1v1h-1zM291,419h1v1h-1zM326,419h1v1h-1zM348,419h1v1h-1zM655,419h1v1h-1zM291,420h1v1h-1zM326,420h1v1h-1zM349,420h1v1h-1zM655,420h2v1h-2zM290,421h1v1h-1zM326,421h1v1h-1zM348,421h1v1h-1zM656,421h2v1h-2zM289,422h1v1h-1zM326,422h1v1h-1zM347,422h1v1h-1zM657,422h1v1h-1zM289,423h1v1h-1zM325,423h1v1h-1zM346,423h1v1h-1zM657,423h1v1h-1zM288,424h1v1h-1zM326,424h1v1h-1zM345,424h1v1h-1zM657,424h1v1h-1zM288,425h1v1h-1zM326,425h1v1h-1zM344,425h1v1h-1zM658,425h1v1h-1zM287,426h1v1h-1zM326,426h1v1h-1zM343,426h1v1h-1zM659,426h1v1h-1zM286,427h1v1h-1zM326,427h1v1h-1zM344,427h1v1h-1zM357,427h3v1h-3zM658,427h1v1h-1zM286,428h1v1h-1zM326,428h1v1h-1zM344,428h1v1h-1zM353,428h4v1h-4zM359,428h1v1h-1zM658,428h1v1h-1zM285,429h1v1h-1zM326,429h2v1h-2zM344,429h3v1h-3zM348,429h1v1h-1zM350,429h3v1h-3zM359,429h1v1h-1zM659,429h1v1h-1zM285,430h1v1h-1zM328,430h1v1h-1zM347,430h1v1h-1zM349,430h1v1h-1zM359,430h1v1h-1zM659,430h1v1h-1zM284,431h1v1h-1zM329,431h1v1h-1zM360,431h1v1h-1zM659,431h1v1h-1zM284,432h1v1h-1zM330,432h2v1h-2zM360,432h1v1h-1zM658,432h1v1h-1zM283,433h1v1h-1zM332,433h3v1h-3zM361,433h1v1h-1zM658,433h1v1h-1zM282,434h1v1h-1zM335,434h4v1h-4zM360,434h1v1h-1zM658,434h1v1h-1zM279,435h1v1h-1zM281,435h1v1h-1zM339,435h2v1h-2zM360,435h1v1h-1zM658,435h1v1h-1zM279,436h2v1h-2zM341,436h7v1h-7zM351,436h2v1h-2zM360,436h1v1h-1zM657,436h1v1h-1zM280,437h1v1h-1zM348,437h3v1h-3zM353,437h5v1h-5zM359,437h1v1h-1zM657,437h1v1h-1zM279,438h1v1h-1zM358,438h2v1h-2zM656,438h1v1h-1zM278,439h1v1h-1zM359,439h1v1h-1zM656,439h1v1h-1zM278,440h1v1h-1zM656,440h1v1h-1zM278,441h1v1h-1zM656,441h1v1h-1zM277,442h1v1h-1zM655,442h1v1h-1zM277,443h1v1h-1zM655,443h1v1h-1zM276,444h1v1h-1zM654,444h1v1h-1zM274,445h2v1h-2zM654,445h1v1h-1zM273,446h1v1h-1zM654,446h1v1h-1zM273,447h1v1h-1zM654,447h1v1h-1zM273,448h1v1h-1zM654,448h1v1h-1zM272,449h1v1h-1zM653,449h1v1h-1zM271,450h1v1h-1zM653,450h1v1h-1zM271,451h1v1h-1zM654,451h1v1h-1zM270,452h1v1h-1zM654,452h1v1h-1zM269,453h1v1h-1zM654,453h1v1h-1zM268,454h1v1h-1zM654,454h1v1h-1zM268,455h1v1h-1zM654,455h1v1h-1zM267,456h1v1h-1zM655,456h1v1h-1zM267,457h1v1h-1zM655,457h1v1h-1zM266,458h1v1h-1zM655,458h1v1h-1zM265,459h1v1h-1zM655,459h1v1h-1zM264,460h1v1h-1zM656,460h1v1h-1zM263,461h1v1h-1zM656,461h1v1h-1zM262,462h1v1h-1zM655,462h1v1h-1zM260,463h2v1h-2zM655,463h1v1h-1zM255,464h3v1h-3zM259,464h1v1h-1zM656,464h1v1h-1zM256,465h1v1h-1zM258,465h1v1h-1zM656,465h1v1h-1zM257,466h2v1h-2zM656,466h1v1h-1zM259,467h1v1h-1zM656,467h1v1h-1zM259,468h1v1h-1zM657,468h1v1h-1zM258,469h1v1h-1zM657,469h1v1h-1zM258,470h1v1h-1zM657,470h1v1h-1zM259,471h1v1h-1zM657,471h1v1h-1zM259,472h1v1h-1zM280,472h1v1h-1zM657,472h1v1h-1zM260,473h1v1h-1zM280,473h3v1h-3zM658,473h1v1h-1zM260,474h1v1h-1zM280,474h1v1h-1zM282,474h1v1h-1zM658,474h1v1h-1zM260,475h1v1h-1zM280,475h1v1h-1zM283,475h1v1h-1zM659,475h1v1h-1zM260,476h1v1h-1zM280,476h1v1h-1zM283,476h1v1h-1zM660,476h1v1h-1zM261,477h1v1h-1zM281,477h2v1h-2zM660,477h1v1h-1zM262,478h1v1h-1zM660,478h1v1h-1zM262,479h1v1h-1zM660,479h1v1h-1zM262,480h1v1h-1zM661,480h1v1h-1zM263,481h2v1h-2zM661,481h1v1h-1zM264,482h2v1h-2zM662,482h1v1h-1zM265,483h1v1h-1zM662,483h1v1h-1zM266,484h2v1h-2zM663,484h1v1h-1zM268,485h1v1h-1zM663,485h1v1h-1zM269,486h1v1h-1zM662,486h1v1h-1zM270,487h2v1h-2zM662,487h1v1h-1zM271,488h4v1h-4zM661,488h1v1h-1zM275,489h1v1h-1zM661,489h1v1h-1zM276,490h3v1h-3zM660,490h1v1h-1zM279,491h2v1h-2zM660,491h1v1h-1zM281,492h2v1h-2zM659,492h1v1h-1zM283,493h1v1h-1zM286,493h1v1h-1zM659,493h1v1h-1zM283,494h3v1h-3zM287,494h1v1h-1zM658,494h1v1h-1zM286,495h3v1h-3zM658,495h1v1h-1zM287,496h3v1h-3zM658,496h1v1h-1zM289,497h1v1h-1zM658,497h1v1h-1zM290,498h1v1h-1zM658,498h1v1h-1zM291,499h2v1h-2zM657,499h1v1h-1zM293,500h2v1h-2zM657,500h1v1h-1zM295,501h3v1h-3zM656,501h1v1h-1zM298,502h2v1h-2zM656,502h1v1h-1zM300,503h2v1h-2zM656,503h1v1h-1zM301,504h4v1h-4zM656,504h1v1h-1zM304,505h1v1h-1zM656,505h1v1h-1zM304,506h3v1h-3zM656,506h1v1h-1zM307,507h1v1h-1zM656,507h1v1h-1zM308,508h3v1h-3zM655,508h1v1h-1zM311,509h1v1h-1zM655,509h1v1h-1zM312,510h1v1h-1zM654,510h1v1h-1zM313,511h1v1h-1zM654,511h1v1h-1zM314,512h1v1h-1zM653,512h1v1h-1zM314,513h1v1h-1zM652,513h1v1h-1zM314,514h1v1h-1zM651,514h1v1h-1zM315,515h1v1h-1zM651,515h1v1h-1zM315,516h1v1h-1zM650,516h1v1h-1zM315,517h1v1h-1zM336,517h1v1h-1zM650,517h1v1h-1zM316,518h1v1h-1zM335,518h2v1h-2zM351,518h4v1h-4zM650,518h1v1h-1zM316,519h1v1h-1zM333,519h2v1h-2zM337,519h1v1h-1zM349,519h7v1h-7zM649,519h1v1h-1zM316,520h1v1h-1zM332,520h1v1h-1zM337,520h1v1h-1zM347,520h10v1h-10zM648,520h1v1h-1zM317,521h1v1h-1zM332,521h1v1h-1zM337,521h1v1h-1zM347,521h10v1h-10zM648,521h1v1h-1zM318,522h1v1h-1zM331,522h1v1h-1zM338,522h1v1h-1zM340,522h3v1h-3zM347,522h4v1h-4zM353,522h4v1h-4zM364,522h2v1h-2zM648,522h1v1h-1zM318,523h1v1h-1zM331,523h1v1h-1zM338,523h1v1h-1zM340,523h6v1h-6zM349,523h1v1h-1zM352,523h5v1h-5zM362,523h2v1h-2zM366,523h3v1h-3zM648,523h1v1h-1zM319,524h4v1h-4zM331,524h1v1h-1zM337,524h1v1h-1zM342,524h4v1h-4zM350,524h6v1h-6zM361,524h1v1h-1zM368,524h1v1h-1zM648,524h1v1h-1zM323,525h3v1h-3zM331,525h1v1h-1zM337,525h1v1h-1zM350,525h5v1h-5zM361,525h1v1h-1zM369,525h1v1h-1zM648,525h1v1h-1zM325,526h2v1h-2zM332,526h1v1h-1zM334,526h3v1h-3zM348,526h1v1h-1zM351,526h4v1h-4zM361,526h1v1h-1zM369,526h1v1h-1zM648,526h1v1h-1zM327,527h2v1h-2zM333,527h1v1h-1zM347,527h1v1h-1zM349,527h1v1h-1zM360,527h1v1h-1zM369,527h1v1h-1zM648,527h1v1h-1zM328,528h1v1h-1zM346,528h1v1h-1zM350,528h1v1h-1zM360,528h1v1h-1zM369,528h1v1h-1zM648,528h1v1h-1zM328,529h2v1h-2zM340,529h5v1h-5zM346,529h1v1h-1zM350,529h1v1h-1zM360,529h1v1h-1zM369,529h1v1h-1zM647,529h1v1h-1zM330,530h2v1h-2zM339,530h1v1h-1zM345,530h2v1h-2zM350,530h1v1h-1zM360,530h1v1h-1zM368,530h1v1h-1zM647,530h1v1h-1zM331,531h1v1h-1zM338,531h1v1h-1zM345,531h2v1h-2zM350,531h1v1h-1zM361,531h1v1h-1zM368,531h1v1h-1zM647,531h1v1h-1zM332,532h1v1h-1zM338,532h1v1h-1zM344,532h1v1h-1zM347,532h1v1h-1zM349,532h1v1h-1zM361,532h1v1h-1zM368,532h1v1h-1zM647,532h1v1h-1zM333,533h4v1h-4zM338,533h1v1h-1zM343,533h2v1h-2zM348,533h1v1h-1zM361,533h1v1h-1zM368,533h1v1h-1zM647,533h1v1h-1zM337,534h1v1h-1zM339,534h1v1h-1zM342,534h1v1h-1zM362,534h1v1h-1zM369,534h1v1h-1zM647,534h1v1h-1zM338,535h1v1h-1zM340,535h2v1h-2zM363,535h1v1h-1zM369,535h1v1h-1zM647,535h1v1h-1zM339,536h1v1h-1zM363,536h1v1h-1zM369,536h1v1h-1zM646,536h1v1h-1zM340,537h1v1h-1zM363,537h3v1h-3zM369,537h1v1h-1zM646,537h1v1h-1zM341,538h1v1h-1zM365,538h4v1h-4zM646,538h1v1h-1zM341,539h3v1h-3zM368,539h1v1h-1zM646,539h1v1h-1zM343,540h1v1h-1zM361,540h1v1h-1zM645,540h1v1h-1zM343,541h1v1h-1zM360,541h1v1h-1zM362,541h2v1h-2zM645,541h1v1h-1zM343,542h1v1h-1zM350,542h2v1h-2zM360,542h1v1h-1zM364,542h1v1h-1zM644,542h1v1h-1zM342,543h1v1h-1zM346,543h4v1h-4zM352,543h2v1h-2zM359,543h1v1h-1zM365,543h1v1h-1zM644,543h1v1h-1zM342,544h4v1h-4zM354,544h3v1h-3zM359,544h1v1h-1zM366,544h2v1h-2zM644,544h1v1h-1zM357,545h2v1h-2zM368,545h2v1h-2zM645,545h1v1h-1zM370,546h1v1h-1zM645,546h1v1h-1zM371,547h3v1h-3zM646,547h1v1h-1zM374,548h1v1h-1zM646,548h1v1h-1zM374,549h1v1h-1zM646,549h1v1h-1zM375,550h3v1h-3zM647,550h1v1h-1zM377,551h3v1h-3zM647,551h1v1h-1zM379,552h1v1h-1zM647,552h1v1h-1zM380,553h3v1h-3zM647,553h1v1h-1zM382,554h1v1h-1zM647,554h1v1h-1zM382,555h2v1h-2zM646,555h1v1h-1zM384,556h1v1h-1zM646,556h1v1h-1zM385,557h2v1h-2zM646,557h1v1h-1zM386,558h3v1h-3zM646,558h1v1h-1zM389,559h2v1h-2zM645,559h1v1h-1zM391,560h3v1h-3zM395,560h1v1h-1zM644,560h1v1h-1zM394,561h1v1h-1zM396,561h5v1h-5zM644,561h1v1h-1zM401,562h3v1h-3zM644,562h1v1h-1zM404,563h1v1h-1zM644,563h1v1h-1zM405,564h5v1h-5zM643,564h1v1h-1zM409,565h1v1h-1zM643,565h1v1h-1zM410,566h2v1h-2zM642,566h1v1h-1zM411,567h1v1h-1zM642,567h1v1h-1zM411,568h1v1h-1zM642,568h1v1h-1zM412,569h1v1h-1zM642,569h1v1h-1zM412,570h1v1h-1zM641,570h1v1h-1zM413,571h2v1h-2zM641,571h1v1h-1zM415,572h1v1h-1zM641,572h1v1h-1zM415,573h2v1h-2zM640,573h1v1h-1zM417,574h1v1h-1zM640,574h1v1h-1zM417,575h1v1h-1zM525,575h4v1h-4zM640,575h1v1h-1zM418,576h1v1h-1zM523,576h2v1h-2zM529,576h3v1h-3zM640,576h1v1h-1zM419,577h2v1h-2zM522,577h1v1h-1zM532,577h2v1h-2zM639,577h1v1h-1zM421,578h1v1h-1zM519,578h3v1h-3zM534,578h1v1h-1zM639,578h1v1h-1zM421,579h2v1h-2zM512,579h7v1h-7zM534,579h4v1h-4zM639,579h1v1h-1zM422,580h1v1h-1zM509,580h3v1h-3zM538,580h1v1h-1zM638,580h1v1h-1zM422,581h1v1h-1zM509,581h1v1h-1zM538,581h1v1h-1zM638,581h1v1h-1zM423,582h2v1h-2zM508,582h1v1h-1zM538,582h1v1h-1zM638,582h1v1h-1zM425,583h1v1h-1zM507,583h1v1h-1zM526,583h3v1h-3zM538,583h1v1h-1zM638,583h1v1h-1zM426,584h1v1h-1zM507,584h1v1h-1zM525,584h3v1h-3zM529,584h3v1h-3zM534,584h4v1h-4zM637,584h1v1h-1zM427,585h2v1h-2zM505,585h2v1h-2zM525,585h3v1h-3zM532,585h2v1h-2zM637,585h1v1h-1zM428,586h1v1h-1zM504,586h1v1h-1zM524,586h3v1h-3zM637,586h1v1h-1zM429,587h1v1h-1zM504,587h1v1h-1zM524,587h2v1h-2zM636,587h1v1h-1zM430,588h1v1h-1zM503,588h1v1h-1zM523,588h3v1h-3zM636,588h1v1h-1zM431,589h1v1h-1zM502,589h1v1h-1zM522,589h3v1h-3zM635,589h1v1h-1zM432,590h1v1h-1zM501,590h1v1h-1zM522,590h2v1h-2zM635,590h1v1h-1zM433,591h1v1h-1zM500,591h1v1h-1zM521,591h3v1h-3zM634,591h1v1h-1zM433,592h1v1h-1zM501,592h1v1h-1zM516,592h2v1h-2zM521,592h3v1h-3zM634,592h1v1h-1zM434,593h1v1h-1zM501,593h1v1h-1zM516,593h3v1h-3zM520,593h3v1h-3zM634,593h1v1h-1zM435,594h1v1h-1zM501,594h1v1h-1zM505,594h2v1h-2zM517,594h6v1h-6zM631,594h3v1h-3zM435,595h4v1h-4zM501,595h1v1h-1zM504,595h1v1h-1zM507,595h1v1h-1zM516,595h1v1h-1zM518,595h3v1h-3zM631,595h1v1h-1zM439,596h1v1h-1zM500,596h1v1h-1zM504,596h1v1h-1zM508,596h1v1h-1zM514,596h2v1h-2zM631,596h1v1h-1zM440,597h4v1h-4zM500,597h4v1h-4zM509,597h5v1h-5zM631,597h1v1h-1zM444,598h3v1h-3zM629,598h2v1h-2zM447,599h5v1h-5zM453,599h2v1h-2zM628,599h1v1h-1zM452,600h1v1h-1zM455,600h2v1h-2zM628,600h1v1h-1zM457,601h14v1h-14zM628,601h1v1h-1zM471,602h3v1h-3zM626,602h2v1h-2zM474,603h1v1h-1zM625,603h1v1h-1zM474,604h3v1h-3zM624,604h1v1h-1zM477,605h3v1h-3zM624,605h1v1h-1zM480,606h2v1h-2zM624,606h1v1h-1zM482,607h4v1h-4zM488,607h1v1h-1zM623,607h1v1h-1zM486,608h2v1h-2zM489,608h4v1h-4zM623,608h1v1h-1zM493,609h1v1h-1zM622,609h1v1h-1zM494,610h1v1h-1zM621,610h1v1h-1zM495,611h1v1h-1zM620,611h1v1h-1zM495,612h1v1h-1zM620,612h1v1h-1zM495,613h1v1h-1zM619,613h1v1h-1zM496,614h1v1h-1zM619,614h1v1h-1zM497,615h2v1h-2zM522,615h3v1h-3zM618,615h1v1h-1zM498,616h1v1h-1zM522,616h1v1h-1zM525,616h1v1h-1zM617,616h1v1h-1zM498,617h2v1h-2zM520,617h2v1h-2zM526,617h1v1h-1zM616,617h1v1h-1zM499,618h1v1h-1zM520,618h1v1h-1zM526,618h1v1h-1zM616,618h1v1h-1zM499,619h1v1h-1zM519,619h2v1h-2zM526,619h1v1h-1zM616,619h1v1h-1zM500,620h1v1h-1zM518,620h1v1h-1zM527,620h2v1h-2zM532,620h2v1h-2zM616,620h1v1h-1zM500,621h1v1h-1zM517,621h1v1h-1zM527,621h1v1h-1zM531,621h3v1h-3zM617,621h1v1h-1zM501,622h1v1h-1zM518,622h1v1h-1zM522,622h6v1h-6zM531,622h2v1h-2zM617,622h1v1h-1zM501,623h1v1h-1zM517,623h5v1h-5zM530,623h3v1h-3zM616,623h1v1h-1zM501,624h1v1h-1zM529,624h3v1h-3zM616,624h1v1h-1zM501,625h1v1h-1zM529,625h2v1h-2zM616,625h1v1h-1zM502,626h1v1h-1zM616,626h1v1h-1zM502,627h1v1h-1zM616,627h1v1h-1zM502,628h1v1h-1zM616,628h1v1h-1zM502,629h1v1h-1zM616,629h1v1h-1zM503,630h1v1h-1zM615,630h1v1h-1zM503,631h1v1h-1zM615,631h1v1h-1zM503,632h1v1h-1zM615,632h1v1h-1zM504,633h1v1h-1zM615,633h1v1h-1zM505,634h1v1h-1zM614,634h1v1h-1zM505,635h1v1h-1zM614,635h1v1h-1zM506,636h1v1h-1zM614,636h1v1h-1zM507,637h2v1h-2zM613,637h1v1h-1zM509,638h1v1h-1zM614,638h1v1h-1zM510,639h2v1h-2zM612,639h2v1h-2zM512,640h2v1h-2zM611,640h1v1h-1zM514,641h2v1h-2zM611,641h1v1h-1zM516,642h5v1h-5zM611,642h1v1h-1zM520,643h1v1h-1zM609,643h2v1h-2zM521,644h2v1h-2zM608,644h1v1h-1zM523,645h1v1h-1zM607,645h1v1h-1zM524,646h1v1h-1zM607,646h1v1h-1zM524,647h1v1h-1zM605,647h2v1h-2zM525,648h3v1h-3zM603,648h2v1h-2zM528,649h1v1h-1zM602,649h1v1h-1zM529,650h3v1h-3zM600,650h3v1h-3zM532,651h1v1h-1zM599,651h1v1h-1zM533,652h5v1h-5zM598,652h1v1h-1zM538,653h1v1h-1zM595,653h3v1h-3zM539,654h5v1h-5zM594,654h1v1h-1zM544,655h2v1h-2zM592,655h3v1h-3zM546,656h3v1h-3zM592,656h1v1h-1zM548,657h1v1h-1zM589,657h3v1h-3zM549,658h2v1h-2zM585,658h4v1h-4zM551,659h1v1h-1zM584,659h1v1h-1zM552,660h2v1h-2zM581,660h3v1h-3zM554,661h3v1h-3zM573,661h2v1h-2zM577,661h4v1h-4zM557,662h2v1h-2zM567,662h6v1h-6zM575,662h2v1h-2zM559,663h2v1h-2zM563,663h4v1h-4zM560,664h3v1h-3z" fill="#000"/>
</g>
<g shape-rendering="crispEdges" stroke="#262626" stroke-width="1">
<line x1="40.5" y1="14" x2="40.5" y2="689"/><line x1="749.5" y1="14" x2="749.5" y2="689"/>
<line x1="104.5" y1="14" x2="104.5" y2="21"/><line x1="104.5" y1="682" x2="104.5" y2="689"/>
<line x1="169.5" y1="14" x2="169.5" y2="21"/><line x1="169.5" y1="682" x2="169.5" y2="689"/>
<line x1="233.5" y1="14" x2="233.5" y2="21"/><line x1="233.5" y1="682" x2="233.5" y2="689"/>
<line x1="298.5" y1="14" x2="298.5" y2="21"/><line x1="298.5" y1="682" x2="298.5" y2="689"/>
<line x1="362.5" y1="14" x2="362.5" y2="21"/><line x1="362.5" y1="682" x2="362.5" y2="689"/>
<line x1="427.5" y1="14" x2="427.5" y2="21"/><line x1="427.5" y1="682" x2="427.5" y2="689"/>
<line x1="491.5" y1="14" x2="491.5" y2="21"/><line x1="491.5" y1="682" x2="491.5" y2="689"/>
<line x1="556.5" y1="14" x2="556.5" y2="21"/><line x1="556.5" y1="682" x2="556.5" y2="689"/>
<line x1="620.5" y1="14" x2="620.5" y2="21"/><line x1="620.5" y1="682" x2="620.5" y2="689"/>
<line x1="685.5" y1="14" x2="685.5" y2="21"/><line x1="685.5" y1="682" x2="685.5" y2="689"/>
<line x1="34" y1="21.5" x2="40" y2="21.5"/><line x1="750" y1="21.5" x2="756" y2="21.5"/>
<line x1="34" y1="87.5" x2="40" y2="87.5"/><line x1="750" y1="87.5" x2="756" y2="87.5"/>
<line x1="34" y1="153.5" x2="40" y2="153.5"/><line x1="750" y1="153.5" x2="756" y2="153.5"/>
<line x1="34" y1="219.5" x2="40" y2="219.5"/><line x1="750" y1="219.5" x2="756" y2="219.5"/>
<line x1="34" y1="285.5" x2="40" y2="285.5"/><line x1="750" y1="285.5" x2="756" y2="285.5"/>
<line x1="34" y1="351.5" x2="40" y2="351.5"/><line x1="750" y1="351.5" x2="756" y2="351.5"/>
<line x1="34" y1="417.5" x2="40" y2="417.5"/><line x1="750" y1="417.5" x2="756" y2="417.5"/>
<line x1="34" y1="483.5" x2="40" y2="483.5"/><line x1="750" y1="483.5" x2="756" y2="483.5"/>
<line x1="34" y1="549.5" x2="40" y2="549.5"/><line x1="750" y1="549.5" x2="756" y2="549.5"/>
<line x1="34" y1="615.5" x2="40" y2="615.5"/><line x1="750" y1="615.5" x2="756" y2="615.5"/>
<line x1="34" y1="681.5" x2="40" y2="681.5"/><line x1="750" y1="681.5" x2="756" y2="681.5"/>
</g>
<text class="tk" x="40.5" y="707.7" text-anchor="middle">132</text>
<text class="tk" x="105.0" y="707.7" text-anchor="middle">133</text>
<text class="tk" x="169.4" y="707.7" text-anchor="middle">134</text>
<text class="tk" x="233.9" y="707.7" text-anchor="middle">135</text>
<text class="tk" x="298.3" y="707.7" text-anchor="middle">136</text>
<text class="tk" x="362.8" y="707.7" text-anchor="middle">137</text>
<text class="tk" x="427.2" y="707.7" text-anchor="middle">138</text>
<text class="tk" x="491.7" y="707.7" text-anchor="middle">139</text>
<text class="tk" x="556.1" y="707.7" text-anchor="middle">140</text>
<text class="tk" x="620.6" y="707.7" text-anchor="middle">141</text>
<text class="tk" x="685.0" y="707.7" text-anchor="middle">142</text>
<text class="tk" x="749.5" y="707.7" text-anchor="middle">143</text>
<text class="tk" x="28" y="26.2" text-anchor="end">-8</text>
<text class="tk" x="28" y="92.2" text-anchor="end">-9</text>
<text class="tk" x="28" y="158.2" text-anchor="end">-10</text>
<text class="tk" x="28" y="224.2" text-anchor="end">-11</text>
<text class="tk" x="28" y="290.2" text-anchor="end">-12</text>
<text class="tk" x="28" y="356.2" text-anchor="end">-13</text>
<text class="tk" x="28" y="422.2" text-anchor="end">-14</text>
<text class="tk" x="28" y="488.2" text-anchor="end">-15</text>
<text class="tk" x="28" y="554.2" text-anchor="end">-16</text>
<text class="tk" x="28" y="620.2" text-anchor="end">-17</text>
<text class="tk" x="28" y="686.2" text-anchor="end">-18</text>
<path d="M51,113h3v1h-3zM49,114h2v1h-2zM54,114h2v1h-2zM48,115h1v1h-1zM56,115h1v1h-1zM67,115h3v1h-3zM48,116h1v1h-1zM56,116h1v1h-1zM65,116h2v1h-2zM70,116h2v1h-2zM47,117h1v1h-1zM57,117h1v1h-1zM64,117h1v1h-1zM72,117h1v1h-1zM83,117h3v1h-3zM47,118h1v1h-1zM52,118h1v1h-1zM57,118h1v1h-1zM64,118h1v1h-1zM72,118h1v1h-1zM81,118h2v1h-2zM86,118h2v1h-2zM47,119h1v1h-1zM57,119h1v1h-1zM63,119h1v1h-1zM73,119h1v1h-1zM80,119h1v1h-1zM88,119h1v1h-1zM48,120h1v1h-1zM56,120h1v1h-1zM63,120h1v1h-1zM68,120h1v1h-1zM73,120h1v1h-1zM80,120h1v1h-1zM88,120h1v1h-1zM48,121h1v1h-1zM56,121h1v1h-1zM63,121h1v1h-1zM73,121h1v1h-1zM79,121h1v1h-1zM89,121h1v1h-1zM132,121h3v1h-3zM49,122h2v1h-2zM54,122h2v1h-2zM64,122h1v1h-1zM72,122h1v1h-1zM79,122h1v1h-1zM84,122h1v1h-1zM89,122h1v1h-1zM130,122h2v1h-2zM135,122h2v1h-2zM51,123h3v1h-3zM64,123h1v1h-1zM72,123h1v1h-1zM79,123h1v1h-1zM89,123h1v1h-1zM129,123h1v1h-1zM137,123h1v1h-1zM65,124h2v1h-2zM70,124h2v1h-2zM80,124h1v1h-1zM88,124h1v1h-1zM129,124h1v1h-1zM137,124h1v1h-1zM168,124h3v1h-3zM67,125h3v1h-3zM80,125h1v1h-1zM88,125h1v1h-1zM128,125h1v1h-1zM138,125h1v1h-1zM166,125h2v1h-2zM171,125h2v1h-2zM81,126h2v1h-2zM86,126h2v1h-2zM128,126h1v1h-1zM133,126h1v1h-1zM138,126h1v1h-1zM165,126h1v1h-1zM173,126h1v1h-1zM83,127h3v1h-3zM128,127h1v1h-1zM138,127h1v1h-1zM165,127h1v1h-1zM171,127h3v1h-3zM129,128h1v1h-1zM137,128h1v1h-1zM164,128h1v1h-1zM169,128h2v1h-2zM174,128h2v1h-2zM129,129h1v1h-1zM137,129h1v1h-1zM164,129h1v1h-1zM168,129h2v1h-2zM174,129h1v1h-1zM176,129h1v1h-1zM130,130h2v1h-2zM135,130h2v1h-2zM164,130h1v1h-1zM168,130h1v1h-1zM174,130h1v1h-1zM176,130h1v1h-1zM132,131h3v1h-3zM165,131h1v1h-1zM167,131h1v1h-1zM173,131h1v1h-1zM177,131h1v1h-1zM165,132h1v1h-1zM167,132h1v1h-1zM172,132h2v1h-2zM177,132h1v1h-1zM166,133h2v1h-2zM171,133h2v1h-2zM177,133h1v1h-1zM168,134h3v1h-3zM176,134h1v1h-1zM168,135h1v1h-1zM176,135h1v1h-1zM169,136h2v1h-2zM174,136h2v1h-2zM171,137h3v1h-3zM235,137h3v1h-3zM233,138h2v1h-2zM238,138h2v1h-2zM232,139h1v1h-1zM240,139h1v1h-1zM250,139h3v1h-3zM232,140h1v1h-1zM240,140h1v1h-1zM248,140h2v1h-2zM253,140h2v1h-2zM231,141h1v1h-1zM241,141h1v1h-1zM247,141h1v1h-1zM255,141h1v1h-1zM266,141h3v1h-3zM231,142h1v1h-1zM236,142h1v1h-1zM241,142h1v1h-1zM247,142h1v1h-1zM255,142h1v1h-1zM264,142h2v1h-2zM269,142h2v1h-2zM231,143h1v1h-1zM241,143h1v1h-1zM246,143h1v1h-1zM256,143h1v1h-1zM263,143h1v1h-1zM271,143h1v1h-1zM232,144h1v1h-1zM240,144h1v1h-1zM246,144h1v1h-1zM251,144h1v1h-1zM256,144h1v1h-1zM263,144h1v1h-1zM271,144h1v1h-1zM232,145h1v1h-1zM240,145h1v1h-1zM246,145h1v1h-1zM256,145h1v1h-1zM262,145h1v1h-1zM272,145h1v1h-1zM233,146h2v1h-2zM238,146h2v1h-2zM247,146h1v1h-1zM255,146h1v1h-1zM262,146h1v1h-1zM267,146h1v1h-1zM272,146h1v1h-1zM235,147h3v1h-3zM247,147h1v1h-1zM255,147h1v1h-1zM262,147h1v1h-1zM272,147h1v1h-1zM248,148h2v1h-2zM253,148h2v1h-2zM263,148h1v1h-1zM271,148h1v1h-1zM250,149h3v1h-3zM263,149h1v1h-1zM271,149h1v1h-1zM264,150h2v1h-2zM269,150h2v1h-2zM266,151h3v1h-3zM664,563h3v1h-3zM662,564h2v1h-2zM667,564h2v1h-2zM661,565h1v1h-1zM669,565h1v1h-1zM661,566h1v1h-1zM669,566h1v1h-1zM660,567h1v1h-1zM670,567h1v1h-1zM660,568h1v1h-1zM670,568h1v1h-1zM660,569h1v1h-1zM670,569h1v1h-1zM661,570h1v1h-1zM669,570h1v1h-1zM661,571h1v1h-1zM669,571h1v1h-1zM662,572h2v1h-2zM667,572h2v1h-2zM664,573h3v1h-3z" fill="#000" shape-rendering="crispEdges"/>
<circle cx="665.5" cy="550.8" r="2.35" fill="none" stroke="#ff00ff" stroke-width="1.9"/>
<text class="b" x="677.6" y="554.7" font-size="13.33">Argo</text>
<text x="678" y="571.7" font-size="10.67">Ship</text>
<text x="665.6" y="647.7" font-size="14">200m</text>
<text x="665.6" y="664.5" font-size="14">1000m</text>
<line x1="665" y1="670.5" x2="692" y2="670.5" stroke="#9fb0c8" stroke-width="1" shape-rendering="crispEdges"/>
<text x="60" y="363.9" font-size="13.6">07-Jan-2023 06Z</text>
<text transform="translate(780.6,682.6) rotate(-90)" font-size="12" textLength="213.6" lengthAdjust="spacing">© IMOS 10-Jan-2023 16:31 Hobart</text>
<g shape-rendering="crispEdges">
<rect x="58.00" y="640" width="4.05" height="9" fill="rgb(0,0,131)"/>
<rect x="61.75" y="640" width="4.05" height="9" fill="rgb(0,0,138)"/>
<rect x="65.50" y="640" width="4.05" height="9" fill="rgb(0,0,145)"/>
<rect x="69.25" y="640" width="4.05" height="9" fill="rgb(0,3,153)"/>
<rect x="73.00" y="640" width="4.05" height="9" fill="rgb(0,12,162)"/>
<rect x="76.75" y="640" width="4.05" height="9" fill="rgb(0,22,172)"/>
<rect x="80.50" y="640" width="4.05" height="9" fill="rgb(0,31,181)"/>
<rect x="84.25" y="640" width="4.05" height="9" fill="rgb(0,44,190)"/>
<rect x="88.00" y="640" width="4.05" height="9" fill="rgb(0,56,200)"/>
<rect x="91.75" y="640" width="4.05" height="9" fill="rgb(0,69,209)"/>
<rect x="95.50" y="640" width="4.05" height="9" fill="rgb(0,81,218)"/>
<rect x="99.25" y="640" width="4.05" height="9" fill="rgb(0,94,228)"/>
<rect x="103.00" y="640" width="4.05" height="9" fill="rgb(0,106,237)"/>
<rect x="106.75" y="640" width="4.05" height="9" fill="rgb(0,123,247)"/>
<rect x="110.50" y="640" width="4.05" height="9" fill="rgb(0,142,255)"/>
<rect x="114.25" y="640" width="4.05" height="9" fill="rgb(0,161,255)"/>
<rect x="118.00" y="640" width="4.05" height="9" fill="rgb(0,175,250)"/>
<rect x="121.75" y="640" width="4.05" height="9" fill="rgb(0,184,239)"/>
<rect x="125.50" y="640" width="4.05" height="9" fill="rgb(0,193,228)"/>
<rect x="129.25" y="640" width="4.05" height="9" fill="rgb(0,200,215)"/>
<rect x="133.00" y="640" width="4.05" height="9" fill="rgb(0,200,200)"/>
<rect x="136.75" y="640" width="4.05" height="9" fill="rgb(0,200,184)"/>
<rect x="140.50" y="640" width="4.05" height="9" fill="rgb(0,200,168)"/>
<rect x="144.25" y="640" width="4.05" height="9" fill="rgb(0,197,153)"/>
<rect x="148.00" y="640" width="4.05" height="9" fill="rgb(0,193,137)"/>
<rect x="151.75" y="640" width="4.05" height="9" fill="rgb(0,190,122)"/>
<rect x="155.50" y="640" width="4.05" height="9" fill="rgb(0,187,103)"/>
<rect x="159.25" y="640" width="4.05" height="9" fill="rgb(0,184,84)"/>
<rect x="163.00" y="640" width="4.05" height="9" fill="rgb(0,181,66)"/>
<rect x="166.75" y="640" width="4.05" height="9" fill="rgb(0,188,47)"/>
<rect x="170.50" y="640" width="4.05" height="9" fill="rgb(0,199,28)"/>
<rect x="174.25" y="640" width="4.05" height="9" fill="rgb(0,210,9)"/>
<rect x="178.00" y="640" width="4.05" height="9" fill="rgb(16,219,0)"/>
<rect x="181.75" y="640" width="4.05" height="9" fill="rgb(47,227,0)"/>
<rect x="185.50" y="640" width="4.05" height="9" fill="rgb(78,235,0)"/>
<rect x="189.25" y="640" width="4.05" height="9" fill="rgb(108,241,0)"/>
<rect x="193.00" y="640" width="4.05" height="9" fill="rgb(137,246,0)"/>
<rect x="196.75" y="640" width="4.05" height="9" fill="rgb(165,251,0)"/>
<rect x="200.50" y="640" width="4.05" height="9" fill="rgb(192,255,0)"/>
<rect x="204.25" y="640" width="4.05" height="9" fill="rgb(214,255,0)"/>
<rect x="208.00" y="640" width="4.05" height="9" fill="rgb(233,250,0)"/>
<rect x="211.75" y="640" width="4.05" height="9" fill="rgb(248,241,0)"/>
<rect x="215.50" y="640" width="4.05" height="9" fill="rgb(251,232,0)"/>
<rect x="219.25" y="640" width="4.05" height="9" fill="rgb(253,222,0)"/>
<rect x="223.00" y="640" width="4.05" height="9" fill="rgb(255,213,0)"/>
<rect x="226.75" y="640" width="4.05" height="9" fill="rgb(255,201,0)"/>
<rect x="230.50" y="640" width="4.05" height="9" fill="rgb(255,189,0)"/>
<rect x="234.25" y="640" width="4.05" height="9" fill="rgb(255,176,0)"/>
<rect x="238.00" y="640" width="4.05" height="9" fill="rgb(253,165,0)"/>
<rect x="241.75" y="640" width="4.05" height="9" fill="rgb(248,156,0)"/>
<rect x="245.50" y="640" width="4.05" height="9" fill="rgb(243,147,0)"/>
<rect x="249.25" y="640" width="4.05" height="9" fill="rgb(239,137,0)"/>
<rect x="253.00" y="640" width="4.05" height="9" fill="rgb(234,126,0)"/>
<rect x="256.75" y="640" width="4.05" height="9" fill="rgb(229,115,0)"/>
<rect x="260.50" y="640" width="4.05" height="9" fill="rgb(224,104,0)"/>
<rect x="264.25" y="640" width="4.05" height="9" fill="rgb(218,95,0)"/>
<rect x="268.00" y="640" width="4.05" height="9" fill="rgb(212,85,0)"/>
<rect x="271.75" y="640" width="4.05" height="9" fill="rgb(206,76,0)"/>
<rect x="275.50" y="640" width="4.05" height="9" fill="rgb(199,65,0)"/>
<rect x="279.25" y="640" width="4.05" height="9" fill="rgb(193,54,0)"/>
<rect x="283.00" y="640" width="4.05" height="9" fill="rgb(187,43,0)"/>
<rect x="286.75" y="640" width="4.05" height="9" fill="rgb(181,32,0)"/>
<rect x="290.50" y="640" width="4.05" height="9" fill="rgb(174,21,0)"/>
<rect x="294.25" y="640" width="4.05" height="9" fill="rgb(168,10,0)"/>
<line x1="59.5" y1="638" x2="59.5" y2="651" stroke="#262626" stroke-width="1"/>
<line x1="89.5" y1="638" x2="89.5" y2="651" stroke="#262626" stroke-width="1"/>
<line x1="119.5" y1="638" x2="119.5" y2="651" stroke="#262626" stroke-width="1"/>
<line x1="148.5" y1="638" x2="148.5" y2="651" stroke="#262626" stroke-width="1"/>
<line x1="178.5" y1="638" x2="178.5" y2="651" stroke="#262626" stroke-width="1"/>
<line x1="208.5" y1="638" x2="208.5" y2="651" stroke="#262626" stroke-width="1"/>
<line x1="237.5" y1="638" x2="237.5" y2="651" stroke="#262626" stroke-width="1"/>
<line x1="267.5" y1="638" x2="267.5" y2="651" stroke="#262626" stroke-width="1"/>
<line x1="297.5" y1="638" x2="297.5" y2="651" stroke="#262626" stroke-width="1"/>
</g>
<g shape-rendering="crispEdges"><rect x="58.00" y="640" width="4.05" height="9" fill="rgb(0,0,131)"/>
<rect x="61.75" y="640" width="4.05" height="9" fill="rgb(0,0,138)"/>
<rect x="65.50" y="640" width="4.05" height="9" fill="rgb(0,0,145)"/>
<rect x="69.25" y="640" width="4.05" height="9" fill="rgb(0,3,153)"/>
<rect x="73.00" y="640" width="4.05" height="9" fill="rgb(0,12,162)"/>
<rect x="76.75" y="640" width="4.05" height="9" fill="rgb(0,22,172)"/>
<rect x="80.50" y="640" width="4.05" height="9" fill="rgb(0,31,181)"/>
<rect x="84.25" y="640" width="4.05" height="9" fill="rgb(0,44,190)"/>
<rect x="88.00" y="640" width="4.05" height="9" fill="rgb(0,56,200)"/>
<rect x="91.75" y="640" width="4.05" height="9" fill="rgb(0,69,209)"/>
<rect x="95.50" y="640" width="4.05" height="9" fill="rgb(0,81,218)"/>
<rect x="99.25" y="640" width="4.05" height="9" fill="rgb(0,94,228)"/>
<rect x="103.00" y="640" width="4.05" height="9" fill="rgb(0,106,237)"/>
<rect x="106.75" y="640" width="4.05" height="9" fill="rgb(0,123,247)"/>
<rect x="110.50" y="640" width="4.05" height="9" fill="rgb(0,142,255)"/>
<rect x="114.25" y="640" width="4.05" height="9" fill="rgb(0,161,255)"/>
<rect x="118.00" y="640" width="4.05" height="9" fill="rgb(0,175,250)"/>
<rect x="121.75" y="640" width="4.05" height="9" fill="rgb(0,184,239)"/>
<rect x="125.50" y="640" width="4.05" height="9" fill="rgb(0,193,228)"/>
<rect x="129.25" y="640" width="4.05" height="9" fill="rgb(0,200,215)"/>
<rect x="133.00" y="640" width="4.05" height="9" fill="rgb(0,200,200)"/>
<rect x="136.75" y="640" width="4.05" height="9" fill="rgb(0,200,184)"/>
<rect x="140.50" y="640" width="4.05" height="9" fill="rgb(0,200,168)"/>
<rect x="144.25" y="640" width="4.05" height="9" fill="rgb(0,197,153)"/>
<rect x="148.00" y="640" width="4.05" height="9" fill="rgb(0,193,137)"/>
<rect x="151.75" y="640" width="4.05" height="9" fill="rgb(0,190,122)"/>
<rect x="155.50" y="640" width="4.05" height="9" fill="rgb(0,187,103)"/>
<rect x="159.25" y="640" width="4.05" height="9" fill="rgb(0,184,84)"/>
<rect x="163.00" y="640" width="4.05" height="9" fill="rgb(0,181,66)"/>
<rect x="166.75" y="640" width="4.05" height="9" fill="rgb(0,188,47)"/>
<rect x="170.50" y="640" width="4.05" height="9" fill="rgb(0,199,28)"/>
<rect x="174.25" y="640" width="4.05" height="9" fill="rgb(0,210,9)"/>
<rect x="178.00" y="640" width="4.05" height="9" fill="rgb(16,219,0)"/>
<rect x="181.75" y="640" width="4.05" height="9" fill="rgb(47,227,0)"/>
<rect x="185.50" y="640" width="4.05" height="9" fill="rgb(78,235,0)"/>
<rect x="189.25" y="640" width="4.05" height="9" fill="rgb(108,241,0)"/>
<rect x="193.00" y="640" width="4.05" height="9" fill="rgb(137,246,0)"/>
<rect x="196.75" y="640" width="4.05" height="9" fill="rgb(165,251,0)"/>
<rect x="200.50" y="640" width="4.05" height="9" fill="rgb(192,255,0)"/>
<rect x="204.25" y="640" width="4.05" height="9" fill="rgb(214,255,0)"/>
<rect x="208.00" y="640" width="4.05" height="9" fill="rgb(233,250,0)"/>
<rect x="211.75" y="640" width="4.05" height="9" fill="rgb(248,241,0)"/>
<rect x="215.50" y="640" width="4.05" height="9" fill="rgb(251,232,0)"/>
<rect x="219.25" y="640" width="4.05" height="9" fill="rgb(253,222,0)"/>
<rect x="223.00" y="640" width="4.05" height="9" fill="rgb(255,213,0)"/>
<rect x="226.75" y="640" width="4.05" height="9" fill="rgb(255,201,0)"/>
<rect x="230.50" y="640" width="4.05" height="9" fill="rgb(255,189,0)"/>
<rect x="234.25" y="640" width="4.05" height="9" fill="rgb(255,176,0)"/>
<rect x="238.00" y="640" width="4.05" height="9" fill="rgb(253,165,0)"/>
<rect x="241.75" y="640" width="4.05" height="9" fill="rgb(248,156,0)"/>
<rect x="245.50" y="640" width="4.05" height="9" fill="rgb(243,147,0)"/>
<rect x="249.25" y="640" width="4.05" height="9" fill="rgb(239,137,0)"/>
<rect x="253.00" y="640" width="4.05" height="9" fill="rgb(234,126,0)"/>
<rect x="256.75" y="640" width="4.05" height="9" fill="rgb(229,115,0)"/>
<rect x="260.50" y="640" width="4.05" height="9" fill="rgb(224,104,0)"/>
<rect x="264.25" y="640" width="4.05" height="9" fill="rgb(218,95,0)"/>
<rect x="268.00" y="640" width="4.05" height="9" fill="rgb(212,85,0)"/>
<rect x="271.75" y="640" width="4.05" height="9" fill="rgb(206,76,0)"/>
<rect x="275.50" y="640" width="4.05" height="9" fill="rgb(199,65,0)"/>
<rect x="279.25" y="640" width="4.05" height="9" fill="rgb(193,54,0)"/>
<rect x="283.00" y="640" width="4.05" height="9" fill="rgb(187,43,0)"/>
<rect x="286.75" y="640" width="4.05" height="9" fill="rgb(181,32,0)"/>
<rect x="290.50" y="640" width="4.05" height="9" fill="rgb(174,21,0)"/>
<rect x="294.25" y="640" width="4.05" height="9" fill="rgb(168,10,0)"/></g>
<text class="b" x="57.2" y="634.9" font-size="10.8" fill="#1a1a1a" textLength="241" lengthAdjust="spacingAndGlyphs">Age (days) of filled SST (wrt latest)</text>
<text class="b" transform="translate(59.8,664.5) scale(1.09,1)" font-size="9.7" text-anchor="middle" fill="#1a1a1a">0</text>
<text class="b" transform="translate(88.7,664.5) scale(1.09,1)" font-size="9.7" text-anchor="middle" fill="#1a1a1a">0.25</text>
<text class="b" transform="translate(118.2,664.5) scale(1.09,1)" font-size="9.7" text-anchor="middle" fill="#1a1a1a">0.5</text>
<text class="b" transform="translate(147.7,664.5) scale(1.09,1)" font-size="9.7" text-anchor="middle" fill="#1a1a1a">0.75</text>
<text class="b" transform="translate(177.8,664.5) scale(1.09,1)" font-size="9.7" text-anchor="middle" fill="#1a1a1a">1</text>
<text class="b" transform="translate(206.7,664.5) scale(1.09,1)" font-size="9.7" text-anchor="middle" fill="#1a1a1a">1.25</text>
<text class="b" transform="translate(236.2,664.5) scale(1.09,1)" font-size="9.7" text-anchor="middle" fill="#1a1a1a">1.5</text>
<text class="b" transform="translate(265.7,664.5) scale(1.09,1)" font-size="9.7" text-anchor="middle" fill="#1a1a1a">1.75</text>
<text class="b" transform="translate(295.8,664.5) scale(1.09,1)" font-size="9.7" text-anchor="middle" fill="#1a1a1a">2</text>
</svg></body></html>
